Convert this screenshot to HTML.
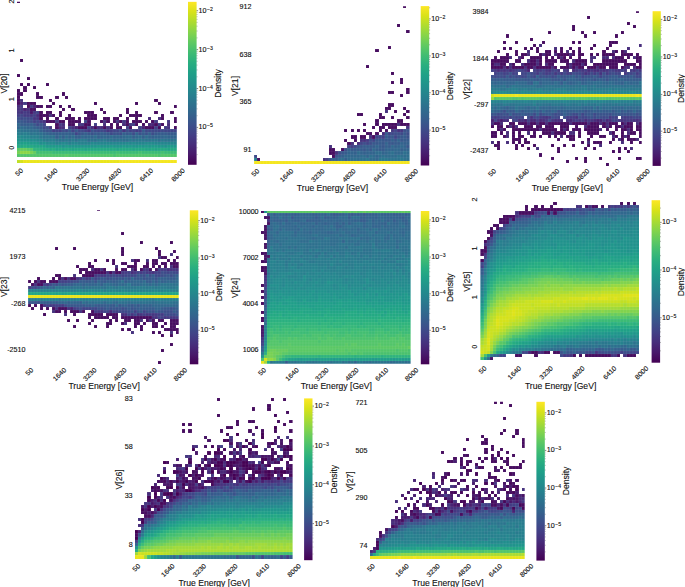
<!DOCTYPE html>
<html><head><meta charset="utf-8"><style>html,body{margin:0;padding:0;background:#fff;width:685px;height:587px;overflow:hidden}svg{display:block}text{font-family:"Liberation Sans",sans-serif;fill:#111;stroke:#111;stroke-width:0.12px}</style></head>
<body><svg width="685" height="587" viewBox="0 0 685 587"><rect width="685" height="587" fill="#fff"/><g>
<linearGradient id="vir" x1="0" y1="0" x2="0" y2="1"><stop offset="0.0000" stop-color="#fde725"/><stop offset="0.0625" stop-color="#d8e219"/><stop offset="0.1250" stop-color="#addc30"/><stop offset="0.1875" stop-color="#84d44b"/><stop offset="0.2500" stop-color="#5ec962"/><stop offset="0.3125" stop-color="#3fbc73"/><stop offset="0.3750" stop-color="#28ae80"/><stop offset="0.4375" stop-color="#1fa088"/><stop offset="0.5000" stop-color="#21918c"/><stop offset="0.5625" stop-color="#26828e"/><stop offset="0.6250" stop-color="#2c728e"/><stop offset="0.6875" stop-color="#33638d"/><stop offset="0.7500" stop-color="#3b528b"/><stop offset="0.8125" stop-color="#424086"/><stop offset="0.8750" stop-color="#472d7b"/><stop offset="0.9375" stop-color="#48186a"/><stop offset="1.0000" stop-color="#440154"/></linearGradient>
<clipPath id="c0"><rect x="17" y="1.84" width="159.8" height="162.96"/></clipPath>
<g clip-path="url(#c0)"><g shape-rendering="crispEdges" transform="translate(17 163.1) scale(3.1960 -3.0700)">
<path fill="#c0df25" d="M0 0h1v1h-1z"/><path fill="#d5e21a" d="M1 0h1v1h-1z"/><path fill="#eae51a" d="M2 0h30v1h-30z"/><path fill="#f4e61e" d="M32 0h18v1h-18z"/><path fill="#52c569" d="M0 2h15v1h-15zM16 2h14v1h-14zM31 2h13v1h-13zM45 2h5v1h-5zM4 4h1v1h-1z"/><path fill="#5ac864" d="M15 2h1v1h-1zM0 4h1v1h-1zM3 4h1v1h-1z"/><path fill="#4ac16d" d="M30 2h1v1h-1zM44 2h1v1h-1z"/><path fill="#77d153" d="M0 3h1v1h-1zM4 3h1v1h-1z"/><path fill="#8bd646" d="M1 3h3v1h-3z"/><path fill="#65cb5e" d="M5 3h1v1h-1zM1 4h2v1h-2z"/><path fill="#42be71" d="M6 3h5v1h-5zM31 3h1v1h-1zM38 3h1v1h-1zM45 3h1v1h-1z"/><path fill="#3bbb75" d="M11 3h20v1h-20zM32 3h6v1h-6zM39 3h6v1h-6zM46 3h4v1h-4z"/><path fill="#2fb47c" d="M5 4h2v1h-2z"/><path fill="#2ab07f" d="M7 4h1v1h-1z"/><path fill="#26ad81" d="M8 4h2v1h-2zM11 4h1v1h-1zM2 5h1v1h-1z"/><path fill="#23a983" d="M10 4h1v1h-1zM13 4h1v1h-1zM15 4h2v1h-2zM18 4h3v1h-3zM22 4h9v1h-9zM32 4h4v1h-4zM37 4h3v1h-3zM42 4h1v1h-1zM44 4h3v1h-3zM48 4h2v1h-2zM0 5h2v1h-2zM3 5h2v1h-2z"/><path fill="#21a585" d="M12 4h1v1h-1zM14 4h1v1h-1zM17 4h1v1h-1zM21 4h1v1h-1zM31 4h1v1h-1zM36 4h1v1h-1zM40 4h2v1h-2zM43 4h1v1h-1zM47 4h1v1h-1zM5 5h3v1h-3z"/><path fill="#1fa187" d="M8 5h1v1h-1zM2 6h1v1h-1z"/><path fill="#1f9a8a" d="M9 5h5v1h-5zM15 5h1v1h-1zM25 5h1v1h-1zM29 5h1v1h-1zM33 5h1v1h-1zM35 5h1v1h-1zM38 5h1v1h-1zM40 5h1v1h-1zM42 5h2v1h-2zM47 5h2v1h-2zM4 6h3v1h-3z"/><path fill="#20928c" d="M14 5h1v1h-1zM46 5h1v1h-1zM8 6h1v1h-1zM0 7h4v1h-4z"/><path fill="#1f968b" d="M16 5h9v1h-9zM26 5h3v1h-3zM30 5h3v1h-3zM34 5h1v1h-1zM36 5h2v1h-2zM39 5h1v1h-1zM41 5h1v1h-1zM44 5h2v1h-2zM49 5h1v1h-1z"/><path fill="#1f9e89" d="M0 6h2v1h-2zM3 6h1v1h-1z"/><path fill="#218e8d" d="M7 6h1v1h-1zM4 7h2v1h-2z"/><path fill="#238a8d" d="M9 6h3v1h-3zM14 6h1v1h-1zM23 6h1v1h-1zM34 6h1v1h-1zM36 6h1v1h-1zM40 6h3v1h-3zM6 7h1v1h-1zM0 8h2v1h-2z"/><path fill="#26828e" d="M12 6h1v1h-1zM19 6h4v1h-4zM49 6h1v1h-1z"/><path fill="#24868e" d="M13 6h1v1h-1zM15 6h1v1h-1zM17 6h2v1h-2zM24 6h10v1h-10zM35 6h1v1h-1zM37 6h3v1h-3zM43 6h6v1h-6zM7 7h1v1h-1zM2 8h2v1h-2z"/><path fill="#277f8e" d="M16 6h1v1h-1zM8 7h1v1h-1zM10 7h2v1h-2zM4 8h3v1h-3zM0 9h1v1h-1zM2 9h1v1h-1z"/><path fill="#297b8e" d="M9 7h1v1h-1zM17 7h1v1h-1zM19 7h3v1h-3zM27 7h1v1h-1zM1 9h1v1h-1zM3 9h1v1h-1z"/><path fill="#2a778e" d="M12 7h1v1h-1zM15 7h1v1h-1zM25 7h2v1h-2zM35 7h1v1h-1zM37 7h3v1h-3zM42 7h2v1h-2zM45 7h1v1h-1zM49 7h1v1h-1zM7 8h1v1h-1zM5 9h1v1h-1zM0 10h1v1h-1z"/><path fill="#2c738e" d="M13 7h2v1h-2zM16 7h1v1h-1zM18 7h1v1h-1zM23 7h1v1h-1zM28 7h2v1h-2zM31 7h2v1h-2zM36 7h1v1h-1zM40 7h2v1h-2zM46 7h3v1h-3zM9 8h1v1h-1zM4 9h1v1h-1zM6 9h1v1h-1zM1 10h1v1h-1z"/><path fill="#2d708e" d="M22 7h1v1h-1zM24 7h1v1h-1zM30 7h1v1h-1zM33 7h2v1h-2zM44 7h1v1h-1zM8 8h1v1h-1zM10 8h2v1h-2zM7 9h1v1h-1zM2 10h2v1h-2z"/><path fill="#34608d" d="M12 8h1v1h-1zM14 8h1v1h-1zM18 8h2v1h-2zM25 8h1v1h-1zM36 8h1v1h-1zM39 8h1v1h-1zM42 8h1v1h-1zM10 9h2v1h-2zM13 9h4v1h-4zM21 9h1v1h-1zM26 9h1v1h-1zM33 9h1v1h-1zM41 9h1v1h-1zM7 10h1v1h-1zM5 11h1v1h-1zM4 12h1v1h-1z"/><path fill="#2f6c8e" d="M13 8h1v1h-1zM15 8h1v1h-1zM17 8h1v1h-1zM24 8h1v1h-1zM29 8h1v1h-1zM34 8h2v1h-2zM38 8h1v1h-1zM40 8h1v1h-1zM4 10h3v1h-3zM1 11h1v1h-1z"/><path fill="#32648e" d="M16 8h1v1h-1zM21 8h1v1h-1zM23 8h1v1h-1zM26 8h1v1h-1zM28 8h1v1h-1zM30 8h1v1h-1zM32 8h1v1h-1zM41 8h1v1h-1zM43 8h3v1h-3zM47 8h3v1h-3zM9 9h1v1h-1zM37 9h1v1h-1zM0 11h1v1h-1zM3 11h1v1h-1z"/><path fill="#31688e" d="M20 8h1v1h-1zM22 8h1v1h-1zM27 8h1v1h-1zM31 8h1v1h-1zM33 8h1v1h-1zM37 8h1v1h-1zM46 8h1v1h-1zM8 9h1v1h-1zM2 11h1v1h-1zM4 11h1v1h-1zM0 12h1v1h-1z"/><path fill="#365c8d" d="M12 9h1v1h-1zM17 9h1v1h-1zM24 9h1v1h-1zM27 9h1v1h-1zM35 9h1v1h-1zM39 9h1v1h-1zM44 9h3v1h-3zM48 9h2v1h-2zM39 10h1v1h-1zM6 11h1v1h-1zM1 12h3v1h-3z"/><path fill="#404588" d="M18 9h1v1h-1zM12 10h1v1h-1zM17 10h1v1h-1zM25 10h1v1h-1zM27 10h1v1h-1zM30 10h2v1h-2zM36 10h1v1h-1zM44 10h1v1h-1zM46 10h4v1h-4zM22 11h1v1h-1zM8 12h1v1h-1zM21 13h1v1h-1zM1 15h1v1h-1zM6 16h1v1h-1z"/><path fill="#3a538b" d="M19 9h1v1h-1zM23 9h1v1h-1zM30 9h2v1h-2zM38 9h1v1h-1zM40 9h1v1h-1zM9 10h2v1h-2zM23 10h1v1h-1zM32 10h1v1h-1zM7 12h1v1h-1zM2 13h1v1h-1z"/><path fill="#38588c" d="M20 9h1v1h-1zM22 9h1v1h-1zM25 9h1v1h-1zM28 9h1v1h-1zM34 9h1v1h-1zM43 9h1v1h-1zM47 9h1v1h-1zM8 10h1v1h-1zM16 10h1v1h-1zM18 10h1v1h-1zM7 11h1v1h-1zM5 12h1v1h-1zM0 13h2v1h-2z"/><path fill="#3e4989" d="M29 9h1v1h-1zM15 10h1v1h-1zM19 10h2v1h-2zM24 10h1v1h-1zM26 10h1v1h-1zM40 10h4v1h-4zM45 10h1v1h-1zM8 11h1v1h-1zM6 12h1v1h-1zM6 13h1v1h-1zM1 14h1v1h-1zM3 14h2v1h-2z"/><path fill="#3d4e8a" d="M32 9h1v1h-1zM36 9h1v1h-1zM42 9h1v1h-1zM14 10h1v1h-1zM34 10h1v1h-1zM9 11h1v1h-1zM3 13h2v1h-2zM0 14h1v1h-1zM2 14h1v1h-1z"/><path fill="#424086" d="M11 10h1v1h-1zM13 10h1v1h-1zM21 10h1v1h-1zM29 10h1v1h-1zM35 10h1v1h-1zM38 10h1v1h-1zM16 11h1v1h-1zM34 11h1v1h-1zM38 11h1v1h-1zM43 11h1v1h-1zM24 12h1v1h-1zM36 12h1v1h-1zM44 12h1v1h-1zM5 13h1v1h-1zM0 15h1v1h-1zM5 15h1v1h-1z"/><path fill="#453781" d="M22 10h1v1h-1zM28 10h1v1h-1zM33 10h1v1h-1zM10 11h1v1h-1zM19 12h2v1h-2zM31 13h1v1h-1zM33 13h1v1h-1zM47 13h1v1h-1zM5 14h2v1h-2zM4 15h1v1h-1zM0 16h1v1h-1zM3 16h1v1h-1zM5 16h1v1h-1zM1 17h1v1h-1z"/><path fill="#443b84" d="M37 10h1v1h-1zM46 11h1v1h-1zM13 12h1v1h-1zM35 12h1v1h-1zM7 13h1v1h-1zM12 13h1v1h-1zM43 13h1v1h-1zM2 15h2v1h-2zM2 16h1v1h-1zM1 18h1v1h-1zM4 18h1v1h-1zM2 19h1v1h-1z"/><path fill="#470d60" d="M12 11h1v1h-1zM19 11h3v1h-3zM24 11h1v1h-1zM27 11h1v1h-1zM29 11h1v1h-1zM31 11h2v1h-2zM35 11h1v1h-1zM40 11h3v1h-3zM44 11h1v1h-1zM49 11h1v1h-1zM12 12h1v1h-1zM16 12h2v1h-2zM21 12h2v1h-2zM29 12h1v1h-1zM31 12h1v1h-1zM34 12h1v1h-1zM37 12h1v1h-1zM39 12h1v1h-1zM43 12h1v1h-1zM45 12h1v1h-1zM9 13h3v1h-3zM13 13h2v1h-2zM16 13h4v1h-4zM22 13h1v1h-1zM26 13h1v1h-1zM28 13h1v1h-1zM30 13h1v1h-1zM32 13h1v1h-1zM34 13h1v1h-1zM36 13h3v1h-3zM40 13h1v1h-1zM42 13h1v1h-1zM49 13h1v1h-1zM7 14h1v1h-1zM9 14h1v1h-1zM12 14h1v1h-1zM15 14h3v1h-3zM19 14h1v1h-1zM21 14h4v1h-4zM27 14h2v1h-2zM30 14h2v1h-2zM34 14h1v1h-1zM37 14h1v1h-1zM45 14h1v1h-1zM49 14h1v1h-1zM7 15h3v1h-3zM11 15h1v1h-1zM13 15h1v1h-1zM16 15h1v1h-1zM22 15h3v1h-3zM32 15h1v1h-1zM35 15h4v1h-4zM45 15h1v1h-1zM7 16h1v1h-1zM9 16h2v1h-2zM13 16h1v1h-1zM21 16h3v1h-3zM27 16h1v1h-1zM34 16h1v1h-1zM37 16h1v1h-1zM43 16h1v1h-1zM48 16h1v1h-1zM4 17h2v1h-2zM14 17h1v1h-1zM17 17h1v1h-1zM26 17h1v1h-1zM34 17h1v1h-1zM3 18h1v1h-1zM6 18h2v1h-2zM9 18h2v1h-2zM13 18h1v1h-1zM16 18h1v1h-1zM49 18h1v1h-1zM0 19h1v1h-1zM3 19h3v1h-3zM11 19h1v1h-1zM24 19h1v1h-1zM37 19h1v1h-1zM44 19h1v1h-1zM0 20h1v1h-1zM10 20h1v1h-1zM43 20h1v1h-1zM0 21h1v1h-1zM6 21h2v1h-2zM12 21h1v1h-1zM15 21h1v1h-1zM0 22h2v1h-2zM6 22h1v1h-1zM14 22h1v1h-1zM0 23h1v1h-1zM2 23h1v1h-1zM2 24h1v1h-1zM5 24h1v1h-1zM1 25h1v1h-1zM3 25h1v1h-1zM9 25h1v1h-1zM3 27h1v1h-1zM0 28h1v1h-1zM1 33h1v1h-1zM0 52h1v1h-1z"/><path fill="#472d7b" d="M13 11h2v1h-2zM23 11h1v1h-1zM25 11h2v1h-2zM14 12h1v1h-1zM27 12h1v1h-1zM33 12h1v1h-1zM47 12h1v1h-1zM44 14h1v1h-1zM6 15h1v1h-1zM3 17h1v1h-1zM0 18h1v1h-1z"/><path fill="#46327e" d="M17 11h1v1h-1zM28 11h1v1h-1zM47 11h1v1h-1zM8 13h1v1h-1zM27 13h1v1h-1zM10 15h1v1h-1zM1 16h1v1h-1zM0 17h1v1h-1zM1 20h1v1h-1z"/><path fill="#482374" d="M18 11h1v1h-1zM39 11h1v1h-1zM2 17h1v1h-1zM5 18h1v1h-1zM1 19h1v1h-1z"/><path fill="#482878" d="M41 12h2v1h-2zM41 14h1v1h-1z"/><path fill="#48186a" d="M4 16h1v1h-1z"/>
</g>
<path d="M20.2 1.84V164.8M23.39 1.84V164.8M26.59 1.84V164.8M29.78 1.84V164.8M32.98 1.84V164.8M36.18 1.84V164.8M39.37 1.84V164.8M42.57 1.84V164.8M45.76 1.84V164.8M48.96 1.84V164.8M52.16 1.84V164.8M55.35 1.84V164.8M58.55 1.84V164.8M61.74 1.84V164.8M64.94 1.84V164.8M68.14 1.84V164.8M71.33 1.84V164.8M74.53 1.84V164.8M77.72 1.84V164.8M80.92 1.84V164.8M84.12 1.84V164.8M87.31 1.84V164.8M90.51 1.84V164.8M93.7 1.84V164.8M96.9 1.84V164.8M100.1 1.84V164.8M103.29 1.84V164.8M106.49 1.84V164.8M109.68 1.84V164.8M112.88 1.84V164.8M116.08 1.84V164.8M119.27 1.84V164.8M122.47 1.84V164.8M125.66 1.84V164.8M128.86 1.84V164.8M132.06 1.84V164.8M135.25 1.84V164.8M138.45 1.84V164.8M141.64 1.84V164.8M144.84 1.84V164.8M148.04 1.84V164.8M151.23 1.84V164.8M154.43 1.84V164.8M157.62 1.84V164.8M160.82 1.84V164.8M164.02 1.84V164.8M167.21 1.84V164.8M170.41 1.84V164.8M173.6 1.84V164.8M17 160.03H176.8M17 156.96H176.8M17 153.89H176.8M17 150.82H176.8M17 147.75H176.8M17 144.68H176.8M17 141.61H176.8M17 138.54H176.8M17 135.47H176.8M17 132.4H176.8M17 129.33H176.8M17 126.26H176.8M17 123.19H176.8M17 120.12H176.8M17 117.05H176.8M17 113.98H176.8M17 110.91H176.8M17 107.84H176.8M17 104.77H176.8M17 101.7H176.8M17 98.63H176.8M17 95.56H176.8M17 92.49H176.8M17 89.42H176.8M17 86.35H176.8M17 83.28H176.8M17 80.21H176.8M17 77.14H176.8M17 74.07H176.8M17 71H176.8M17 67.93H176.8M17 64.86H176.8M17 61.79H176.8M17 58.72H176.8M17 55.65H176.8M17 52.58H176.8M17 49.51H176.8M17 46.44H176.8M17 43.37H176.8M17 40.3H176.8M17 37.23H176.8M17 34.16H176.8M17 31.09H176.8M17 28.02H176.8M17 24.95H176.8M17 21.88H176.8M17 18.81H176.8M17 15.74H176.8M17 12.67H176.8M17 9.6H176.8M17 6.53H176.8M17 3.46H176.8" stroke="#fff" stroke-opacity="0.16" stroke-width="0.4" fill="none"/>
</g>
<rect x="188" y="1.84" width="8.6" height="162.96" fill="url(#vir)"/>
<line x1="196.6" x2="198.1" y1="10.7" y2="10.7" stroke="#333" stroke-width="0.6"/>
<text transform="translate(198.6 12.7) scale(1.1 1)" font-size="6.5" text-anchor="start">10<tspan font-size="4.68" dx="0.4" dy="-2.0">−2</tspan></text>
<line x1="196.6" x2="198.1" y1="49.6" y2="49.6" stroke="#333" stroke-width="0.6"/>
<text transform="translate(198.6 51.6) scale(1.1 1)" font-size="6.5" text-anchor="start">10<tspan font-size="4.68" dx="0.4" dy="-2.0">−3</tspan></text>
<line x1="196.6" x2="198.1" y1="88.5" y2="88.5" stroke="#333" stroke-width="0.6"/>
<text transform="translate(198.6 90.5) scale(1.1 1)" font-size="6.5" text-anchor="start">10<tspan font-size="4.68" dx="0.4" dy="-2.0">−4</tspan></text>
<line x1="196.6" x2="198.1" y1="127.4" y2="127.4" stroke="#333" stroke-width="0.6"/>
<text transform="translate(198.6 129.4) scale(1.1 1)" font-size="6.5" text-anchor="start">10<tspan font-size="4.68" dx="0.4" dy="-2.0">−5</tspan></text>
<line x1="196.6" x2="197.5" y1="37.89" y2="37.89" stroke="#555" stroke-width="0.45"/>
<line x1="196.6" x2="197.5" y1="31.04" y2="31.04" stroke="#555" stroke-width="0.45"/>
<line x1="196.6" x2="197.5" y1="26.18" y2="26.18" stroke="#555" stroke-width="0.45"/>
<line x1="196.6" x2="197.5" y1="22.41" y2="22.41" stroke="#555" stroke-width="0.45"/>
<line x1="196.6" x2="197.5" y1="19.33" y2="19.33" stroke="#555" stroke-width="0.45"/>
<line x1="196.6" x2="197.5" y1="16.73" y2="16.73" stroke="#555" stroke-width="0.45"/>
<line x1="196.6" x2="197.5" y1="14.47" y2="14.47" stroke="#555" stroke-width="0.45"/>
<line x1="196.6" x2="197.5" y1="12.48" y2="12.48" stroke="#555" stroke-width="0.45"/>
<line x1="196.6" x2="197.5" y1="76.79" y2="76.79" stroke="#555" stroke-width="0.45"/>
<line x1="196.6" x2="197.5" y1="69.94" y2="69.94" stroke="#555" stroke-width="0.45"/>
<line x1="196.6" x2="197.5" y1="65.08" y2="65.08" stroke="#555" stroke-width="0.45"/>
<line x1="196.6" x2="197.5" y1="61.31" y2="61.31" stroke="#555" stroke-width="0.45"/>
<line x1="196.6" x2="197.5" y1="58.23" y2="58.23" stroke="#555" stroke-width="0.45"/>
<line x1="196.6" x2="197.5" y1="55.63" y2="55.63" stroke="#555" stroke-width="0.45"/>
<line x1="196.6" x2="197.5" y1="53.37" y2="53.37" stroke="#555" stroke-width="0.45"/>
<line x1="196.6" x2="197.5" y1="51.38" y2="51.38" stroke="#555" stroke-width="0.45"/>
<line x1="196.6" x2="197.5" y1="115.69" y2="115.69" stroke="#555" stroke-width="0.45"/>
<line x1="196.6" x2="197.5" y1="108.84" y2="108.84" stroke="#555" stroke-width="0.45"/>
<line x1="196.6" x2="197.5" y1="103.98" y2="103.98" stroke="#555" stroke-width="0.45"/>
<line x1="196.6" x2="197.5" y1="100.21" y2="100.21" stroke="#555" stroke-width="0.45"/>
<line x1="196.6" x2="197.5" y1="97.13" y2="97.13" stroke="#555" stroke-width="0.45"/>
<line x1="196.6" x2="197.5" y1="94.53" y2="94.53" stroke="#555" stroke-width="0.45"/>
<line x1="196.6" x2="197.5" y1="92.27" y2="92.27" stroke="#555" stroke-width="0.45"/>
<line x1="196.6" x2="197.5" y1="90.28" y2="90.28" stroke="#555" stroke-width="0.45"/>
<line x1="196.6" x2="197.5" y1="154.59" y2="154.59" stroke="#555" stroke-width="0.45"/>
<line x1="196.6" x2="197.5" y1="147.74" y2="147.74" stroke="#555" stroke-width="0.45"/>
<line x1="196.6" x2="197.5" y1="142.88" y2="142.88" stroke="#555" stroke-width="0.45"/>
<line x1="196.6" x2="197.5" y1="139.11" y2="139.11" stroke="#555" stroke-width="0.45"/>
<line x1="196.6" x2="197.5" y1="136.03" y2="136.03" stroke="#555" stroke-width="0.45"/>
<line x1="196.6" x2="197.5" y1="133.43" y2="133.43" stroke="#555" stroke-width="0.45"/>
<line x1="196.6" x2="197.5" y1="131.17" y2="131.17" stroke="#555" stroke-width="0.45"/>
<line x1="196.6" x2="197.5" y1="129.18" y2="129.18" stroke="#555" stroke-width="0.45"/>
<text transform="translate(218.2 83.5) rotate(-90)" font-size="8.6" text-anchor="middle" dominant-baseline="central">Density</text>
<text transform="translate(3.6 83.5) rotate(-90)" font-size="8.6" text-anchor="middle" dominant-baseline="central">V[20]</text>
<text transform="translate(97.5 186.9)" font-size="8.6" text-anchor="middle" dominant-baseline="central">True Energy [GeV]</text>
<text transform="translate(19 171.97) rotate(-45) scale(1.1 1)" font-size="6.5" text-anchor="middle" dominant-baseline="central">50</text>
<text transform="translate(50.8 174.78) rotate(-45) scale(1.1 1)" font-size="6.5" text-anchor="middle" dominant-baseline="central">1640</text>
<text transform="translate(82.6 174.78) rotate(-45) scale(1.1 1)" font-size="6.5" text-anchor="middle" dominant-baseline="central">3230</text>
<text transform="translate(114.4 174.78) rotate(-45) scale(1.1 1)" font-size="6.5" text-anchor="middle" dominant-baseline="central">4820</text>
<text transform="translate(146.2 174.78) rotate(-45) scale(1.1 1)" font-size="6.5" text-anchor="middle" dominant-baseline="central">6410</text>
<text transform="translate(178 174.78) rotate(-45) scale(1.1 1)" font-size="6.5" text-anchor="middle" dominant-baseline="central">8000</text>
<text transform="translate(11.2 1.6) rotate(-90) scale(1.1 1)" font-size="6.5" text-anchor="middle" dominant-baseline="central">2</text>
<text transform="translate(11.2 50.4) rotate(-90) scale(1.1 1)" font-size="6.5" text-anchor="middle" dominant-baseline="central">1</text>
<text transform="translate(11.2 99.2) rotate(-90) scale(1.1 1)" font-size="6.5" text-anchor="middle" dominant-baseline="central">1</text>
<text transform="translate(11.2 147.7) rotate(-90) scale(1.1 1)" font-size="6.5" text-anchor="middle" dominant-baseline="central">0</text>
<clipPath id="c1"><rect x="254.1" y="6.2" width="155.5" height="159.3"/></clipPath>
<g clip-path="url(#c1)"><g shape-rendering="crispEdges" transform="translate(254.1 164.1) scale(3.1100 -3.1900)">
<path fill="#f4e61e" d="M0 0h50v1h-50z"/><path fill="#26828e" d="M0 1h1v1h-1z"/><path fill="#470d60" d="M1 1h1v1h-1zM25 2h1v1h-1zM24 3h2v1h-2zM24 4h2v1h-2zM28 4h1v1h-1zM30 6h1v1h-1zM29 7h1v1h-1zM32 7h1v1h-1zM31 8h2v1h-2zM34 8h2v1h-2zM38 8h1v1h-1zM36 9h2v1h-2zM39 9h1v1h-1zM29 10h1v1h-1zM31 10h1v1h-1zM33 10h1v1h-1zM35 10h1v1h-1zM40 10h1v1h-1zM42 10h1v1h-1zM38 11h1v1h-1zM40 11h2v1h-2zM43 11h3v1h-3zM35 12h1v1h-1zM39 12h1v1h-1zM41 12h5v1h-5zM47 12h3v1h-3zM39 13h1v1h-1zM46 13h2v1h-2zM40 14h2v1h-2zM44 14h1v1h-1zM49 14h1v1h-1zM33 15h2v1h-2zM40 15h1v1h-1zM48 15h1v1h-1zM45 16h1v1h-1zM49 16h1v1h-1zM42 17h2v1h-2zM48 17h1v1h-1zM43 18h2v1h-2zM47 21h1v1h-1zM43 22h2v1h-2zM49 22h1v1h-1zM49 23h1v1h-1zM44 25h1v1h-1zM47 25h1v1h-1zM47 26h1v1h-1zM44 28h1v1h-1zM36 30h1v1h-1zM39 35h1v1h-1zM43 36h1v1h-1zM49 41h1v1h-1zM46 43h1v1h-1zM48 49h1v1h-1z"/><path fill="#46327e" d="M22 1h1v1h-1zM26 3h1v1h-1zM24 5h1v1h-1zM31 6h1v1h-1zM34 7h2v1h-2zM37 8h1v1h-1zM46 10h1v1h-1zM49 11h1v1h-1zM46 12h1v1h-1zM42 16h1v1h-1z"/><path fill="#424086" d="M23 1h1v1h-1zM30 5h2v1h-2zM41 8h1v1h-1z"/><path fill="#38588c" d="M24 1h1v1h-1zM28 3h1v1h-1zM31 4h1v1h-1zM35 4h1v1h-1zM37 4h1v1h-1zM34 5h1v1h-1zM41 5h1v1h-1zM49 5h1v1h-1zM38 6h2v1h-2zM41 6h1v1h-1zM43 6h2v1h-2zM39 7h1v1h-1zM41 7h3v1h-3zM45 7h1v1h-1zM47 7h1v1h-1zM44 8h1v1h-1zM47 8h1v1h-1zM42 9h1v1h-1zM48 9h1v1h-1z"/><path fill="#32648e" d="M25 1h1v1h-1zM36 2h1v1h-1zM39 2h1v1h-1zM30 3h2v1h-2zM34 3h1v1h-1zM36 3h3v1h-3zM41 3h1v1h-1zM42 4h3v1h-3zM48 4h2v1h-2zM39 5h1v1h-1zM46 5h1v1h-1zM48 5h1v1h-1zM42 6h1v1h-1zM47 6h1v1h-1zM46 7h1v1h-1z"/><path fill="#34608d" d="M26 1h1v1h-1zM29 1h1v1h-1zM28 2h1v1h-1zM32 3h1v1h-1zM35 3h1v1h-1zM30 4h1v1h-1zM36 4h1v1h-1zM39 4h1v1h-1zM47 4h1v1h-1zM42 5h1v1h-1zM45 5h1v1h-1zM48 6h2v1h-2zM44 7h1v1h-1z"/><path fill="#2f6c8e" d="M27 1h1v1h-1zM30 1h2v1h-2zM33 1h1v1h-1zM37 1h2v1h-2zM34 2h2v1h-2zM38 2h1v1h-1zM40 2h1v1h-1zM42 2h4v1h-4zM48 2h1v1h-1zM33 3h1v1h-1zM39 3h2v1h-2zM43 3h1v1h-1zM49 3h1v1h-1z"/><path fill="#2d708e" d="M28 1h1v1h-1zM32 1h1v1h-1zM34 1h2v1h-2zM49 1h1v1h-1zM37 2h1v1h-1zM41 2h1v1h-1zM47 2h1v1h-1zM49 2h1v1h-1zM44 3h1v1h-1zM48 3h1v1h-1z"/><path fill="#2a778e" d="M36 1h1v1h-1zM40 1h3v1h-3zM47 1h1v1h-1z"/><path fill="#31688e" d="M39 1h1v1h-1zM29 2h5v1h-5zM42 3h1v1h-1zM45 3h3v1h-3zM38 4h1v1h-1zM45 4h2v1h-2zM44 5h1v1h-1zM47 5h1v1h-1z"/><path fill="#2c738e" d="M43 1h4v1h-4zM48 1h1v1h-1zM46 2h1v1h-1z"/><path fill="#3e4989" d="M0 2h1v1h-1zM32 5h1v1h-1zM40 8h1v1h-1zM44 9h1v1h-1zM47 9h1v1h-1z"/><path fill="#3a538b" d="M26 2h1v1h-1zM33 5h1v1h-1zM43 8h1v1h-1zM46 8h1v1h-1zM49 8h1v1h-1zM49 10h1v1h-1z"/><path fill="#365c8d" d="M27 2h1v1h-1zM29 3h1v1h-1zM32 4h3v1h-3zM40 4h2v1h-2zM35 5h4v1h-4zM40 5h1v1h-1zM43 5h1v1h-1zM40 6h1v1h-1zM45 6h2v1h-2zM40 7h1v1h-1zM48 7h2v1h-2zM42 8h1v1h-1zM48 8h1v1h-1z"/><path fill="#3d4e8a" d="M27 3h1v1h-1zM29 4h1v1h-1zM35 6h1v1h-1zM37 6h1v1h-1zM37 7h1v1h-1zM45 9h2v1h-2zM49 9h1v1h-1zM48 10h1v1h-1z"/><path fill="#472d7b" d="M33 6h1v1h-1zM41 9h1v1h-1z"/><path fill="#404588" d="M34 6h1v1h-1zM36 6h1v1h-1zM38 7h1v1h-1zM39 8h1v1h-1zM45 8h1v1h-1zM43 9h1v1h-1zM45 10h1v1h-1z"/><path fill="#443b84" d="M36 7h1v1h-1z"/><path fill="#453781" d="M44 10h1v1h-1zM47 10h1v1h-1z"/>
</g>
<path d="M257.21 6.2V165.5M260.32 6.2V165.5M263.43 6.2V165.5M266.54 6.2V165.5M269.65 6.2V165.5M272.76 6.2V165.5M275.87 6.2V165.5M278.98 6.2V165.5M282.09 6.2V165.5M285.2 6.2V165.5M288.31 6.2V165.5M291.42 6.2V165.5M294.53 6.2V165.5M297.64 6.2V165.5M300.75 6.2V165.5M303.86 6.2V165.5M306.97 6.2V165.5M310.08 6.2V165.5M313.19 6.2V165.5M316.3 6.2V165.5M319.41 6.2V165.5M322.52 6.2V165.5M325.63 6.2V165.5M328.74 6.2V165.5M331.85 6.2V165.5M334.96 6.2V165.5M338.07 6.2V165.5M341.18 6.2V165.5M344.29 6.2V165.5M347.4 6.2V165.5M350.51 6.2V165.5M353.62 6.2V165.5M356.73 6.2V165.5M359.84 6.2V165.5M362.95 6.2V165.5M366.06 6.2V165.5M369.17 6.2V165.5M372.28 6.2V165.5M375.39 6.2V165.5M378.5 6.2V165.5M381.61 6.2V165.5M384.72 6.2V165.5M387.83 6.2V165.5M390.94 6.2V165.5M394.05 6.2V165.5M397.16 6.2V165.5M400.27 6.2V165.5M403.38 6.2V165.5M406.49 6.2V165.5M254.1 160.91H409.6M254.1 157.72H409.6M254.1 154.53H409.6M254.1 151.34H409.6M254.1 148.15H409.6M254.1 144.96H409.6M254.1 141.77H409.6M254.1 138.58H409.6M254.1 135.39H409.6M254.1 132.2H409.6M254.1 129.01H409.6M254.1 125.82H409.6M254.1 122.63H409.6M254.1 119.44H409.6M254.1 116.25H409.6M254.1 113.06H409.6M254.1 109.87H409.6M254.1 106.68H409.6M254.1 103.49H409.6M254.1 100.3H409.6M254.1 97.11H409.6M254.1 93.92H409.6M254.1 90.73H409.6M254.1 87.54H409.6M254.1 84.35H409.6M254.1 81.16H409.6M254.1 77.97H409.6M254.1 74.78H409.6M254.1 71.59H409.6M254.1 68.4H409.6M254.1 65.21H409.6M254.1 62.02H409.6M254.1 58.83H409.6M254.1 55.64H409.6M254.1 52.45H409.6M254.1 49.26H409.6M254.1 46.07H409.6M254.1 42.88H409.6M254.1 39.69H409.6M254.1 36.5H409.6M254.1 33.31H409.6M254.1 30.12H409.6M254.1 26.93H409.6M254.1 23.74H409.6M254.1 20.55H409.6M254.1 17.36H409.6M254.1 14.17H409.6M254.1 10.98H409.6M254.1 7.79H409.6" stroke="#fff" stroke-opacity="0.16" stroke-width="0.4" fill="none"/>
</g>
<rect x="420.7" y="6.1" width="8.5" height="159.4" fill="url(#vir)"/>
<line x1="429.2" x2="430.7" y1="18.9" y2="18.9" stroke="#333" stroke-width="0.6"/>
<text transform="translate(431.2 20.9) scale(1.1 1)" font-size="6.5" text-anchor="start">10<tspan font-size="4.68" dx="0.4" dy="-2.0">−2</tspan></text>
<line x1="429.2" x2="430.7" y1="55.9" y2="55.9" stroke="#333" stroke-width="0.6"/>
<text transform="translate(431.2 57.9) scale(1.1 1)" font-size="6.5" text-anchor="start">10<tspan font-size="4.68" dx="0.4" dy="-2.0">−3</tspan></text>
<line x1="429.2" x2="430.7" y1="92.7" y2="92.7" stroke="#333" stroke-width="0.6"/>
<text transform="translate(431.2 94.7) scale(1.1 1)" font-size="6.5" text-anchor="start">10<tspan font-size="4.68" dx="0.4" dy="-2.0">−4</tspan></text>
<line x1="429.2" x2="430.7" y1="130.1" y2="130.1" stroke="#333" stroke-width="0.6"/>
<text transform="translate(431.2 132.1) scale(1.1 1)" font-size="6.5" text-anchor="start">10<tspan font-size="4.68" dx="0.4" dy="-2.0">−5</tspan></text>
<line x1="429.2" x2="430.1" y1="7.76" y2="7.76" stroke="#555" stroke-width="0.45"/>
<line x1="429.2" x2="430.1" y1="44.76" y2="44.76" stroke="#555" stroke-width="0.45"/>
<line x1="429.2" x2="430.1" y1="38.25" y2="38.25" stroke="#555" stroke-width="0.45"/>
<line x1="429.2" x2="430.1" y1="33.62" y2="33.62" stroke="#555" stroke-width="0.45"/>
<line x1="429.2" x2="430.1" y1="30.04" y2="30.04" stroke="#555" stroke-width="0.45"/>
<line x1="429.2" x2="430.1" y1="27.11" y2="27.11" stroke="#555" stroke-width="0.45"/>
<line x1="429.2" x2="430.1" y1="24.63" y2="24.63" stroke="#555" stroke-width="0.45"/>
<line x1="429.2" x2="430.1" y1="22.49" y2="22.49" stroke="#555" stroke-width="0.45"/>
<line x1="429.2" x2="430.1" y1="20.59" y2="20.59" stroke="#555" stroke-width="0.45"/>
<line x1="429.2" x2="430.1" y1="81.76" y2="81.76" stroke="#555" stroke-width="0.45"/>
<line x1="429.2" x2="430.1" y1="75.25" y2="75.25" stroke="#555" stroke-width="0.45"/>
<line x1="429.2" x2="430.1" y1="70.62" y2="70.62" stroke="#555" stroke-width="0.45"/>
<line x1="429.2" x2="430.1" y1="67.04" y2="67.04" stroke="#555" stroke-width="0.45"/>
<line x1="429.2" x2="430.1" y1="64.11" y2="64.11" stroke="#555" stroke-width="0.45"/>
<line x1="429.2" x2="430.1" y1="61.63" y2="61.63" stroke="#555" stroke-width="0.45"/>
<line x1="429.2" x2="430.1" y1="59.49" y2="59.49" stroke="#555" stroke-width="0.45"/>
<line x1="429.2" x2="430.1" y1="57.59" y2="57.59" stroke="#555" stroke-width="0.45"/>
<line x1="429.2" x2="430.1" y1="118.76" y2="118.76" stroke="#555" stroke-width="0.45"/>
<line x1="429.2" x2="430.1" y1="112.25" y2="112.25" stroke="#555" stroke-width="0.45"/>
<line x1="429.2" x2="430.1" y1="107.62" y2="107.62" stroke="#555" stroke-width="0.45"/>
<line x1="429.2" x2="430.1" y1="104.04" y2="104.04" stroke="#555" stroke-width="0.45"/>
<line x1="429.2" x2="430.1" y1="101.11" y2="101.11" stroke="#555" stroke-width="0.45"/>
<line x1="429.2" x2="430.1" y1="98.63" y2="98.63" stroke="#555" stroke-width="0.45"/>
<line x1="429.2" x2="430.1" y1="96.49" y2="96.49" stroke="#555" stroke-width="0.45"/>
<line x1="429.2" x2="430.1" y1="94.59" y2="94.59" stroke="#555" stroke-width="0.45"/>
<line x1="429.2" x2="430.1" y1="155.76" y2="155.76" stroke="#555" stroke-width="0.45"/>
<line x1="429.2" x2="430.1" y1="149.25" y2="149.25" stroke="#555" stroke-width="0.45"/>
<line x1="429.2" x2="430.1" y1="144.62" y2="144.62" stroke="#555" stroke-width="0.45"/>
<line x1="429.2" x2="430.1" y1="141.04" y2="141.04" stroke="#555" stroke-width="0.45"/>
<line x1="429.2" x2="430.1" y1="138.11" y2="138.11" stroke="#555" stroke-width="0.45"/>
<line x1="429.2" x2="430.1" y1="135.63" y2="135.63" stroke="#555" stroke-width="0.45"/>
<line x1="429.2" x2="430.1" y1="133.49" y2="133.49" stroke="#555" stroke-width="0.45"/>
<line x1="429.2" x2="430.1" y1="131.59" y2="131.59" stroke="#555" stroke-width="0.45"/>
<text transform="translate(450.1 86) rotate(-90)" font-size="8.6" text-anchor="middle" dominant-baseline="central">Density</text>
<text transform="translate(234.7 86) rotate(-90)" font-size="8.6" text-anchor="middle" dominant-baseline="central">V[21]</text>
<text transform="translate(332.5 187.5)" font-size="8.6" text-anchor="middle" dominant-baseline="central">True Energy [GeV]</text>
<text transform="translate(255.2 172.47) rotate(-45) scale(1.1 1)" font-size="6.5" text-anchor="middle" dominant-baseline="central">50</text>
<text transform="translate(286.42 175.28) rotate(-45) scale(1.1 1)" font-size="6.5" text-anchor="middle" dominant-baseline="central">1640</text>
<text transform="translate(317.64 175.28) rotate(-45) scale(1.1 1)" font-size="6.5" text-anchor="middle" dominant-baseline="central">3230</text>
<text transform="translate(348.86 175.28) rotate(-45) scale(1.1 1)" font-size="6.5" text-anchor="middle" dominant-baseline="central">4820</text>
<text transform="translate(380.08 175.28) rotate(-45) scale(1.1 1)" font-size="6.5" text-anchor="middle" dominant-baseline="central">6410</text>
<text transform="translate(411.3 175.28) rotate(-45) scale(1.1 1)" font-size="6.5" text-anchor="middle" dominant-baseline="central">8000</text>
<text transform="translate(251.4 6.6) scale(1.1 1)" font-size="6.5" text-anchor="end" dominant-baseline="central">912</text>
<text transform="translate(251.4 54.4) scale(1.1 1)" font-size="6.5" text-anchor="end" dominant-baseline="central">638</text>
<text transform="translate(251.4 101.6) scale(1.1 1)" font-size="6.5" text-anchor="end" dominant-baseline="central">365</text>
<text transform="translate(251.4 150.1) scale(1.1 1)" font-size="6.5" text-anchor="end" dominant-baseline="central">91</text>
<clipPath id="c2"><rect x="490.9" y="11.2" width="150.8" height="154.7"/></clipPath>
<g clip-path="url(#c2)"><g shape-rendering="crispEdges" transform="translate(490.9 165.9) scale(3.0160 -3.1300)">
<path fill="#470d60" d="M38 0h1v1h-1zM25 1h1v1h-1zM31 1h1v1h-1zM20 2h1v1h-1zM28 2h1v1h-1zM31 2h1v1h-1zM36 2h1v1h-1zM42 2h1v1h-1zM48 2h2v1h-2zM16 3h1v1h-1zM22 4h1v1h-1zM40 4h1v1h-1zM42 4h1v1h-1zM45 4h1v1h-1zM2 5h1v1h-1zM8 5h1v1h-1zM12 5h1v1h-1zM22 5h1v1h-1zM31 5h1v1h-1zM34 5h1v1h-1zM42 5h1v1h-1zM44 5h1v1h-1zM1 6h2v1h-2zM8 6h1v1h-1zM10 6h1v1h-1zM14 6h1v1h-1zM20 6h1v1h-1zM24 6h1v1h-1zM27 6h1v1h-1zM32 6h1v1h-1zM2 7h1v1h-1zM7 7h1v1h-1zM9 7h1v1h-1zM11 7h2v1h-2zM30 7h1v1h-1zM34 7h3v1h-3zM39 7h1v1h-1zM46 7h1v1h-1zM49 7h1v1h-1zM7 8h3v1h-3zM11 8h1v1h-1zM22 8h1v1h-1zM26 8h2v1h-2zM32 8h1v1h-1zM40 8h1v1h-1zM43 8h1v1h-1zM45 8h3v1h-3zM0 9h2v1h-2zM4 9h1v1h-1zM7 9h1v1h-1zM9 9h2v1h-2zM13 9h2v1h-2zM16 9h1v1h-1zM19 9h1v1h-1zM21 9h1v1h-1zM25 9h3v1h-3zM29 9h1v1h-1zM33 9h1v1h-1zM36 9h2v1h-2zM41 9h1v1h-1zM43 9h1v1h-1zM45 9h1v1h-1zM49 9h1v1h-1zM0 10h2v1h-2zM3 10h1v1h-1zM7 10h1v1h-1zM9 10h1v1h-1zM14 10h1v1h-1zM17 10h3v1h-3zM21 10h4v1h-4zM29 10h1v1h-1zM32 10h4v1h-4zM40 10h1v1h-1zM43 10h1v1h-1zM46 10h2v1h-2zM49 10h1v1h-1zM2 11h1v1h-1zM4 11h1v1h-1zM7 11h9v1h-9zM17 11h5v1h-5zM23 11h1v1h-1zM25 11h1v1h-1zM27 11h3v1h-3zM31 11h5v1h-5zM38 11h1v1h-1zM41 11h1v1h-1zM43 11h2v1h-2zM46 11h1v1h-1zM48 11h2v1h-2zM0 12h1v1h-1zM2 12h2v1h-2zM5 12h1v1h-1zM7 12h1v1h-1zM11 12h3v1h-3zM15 12h2v1h-2zM18 12h3v1h-3zM23 12h3v1h-3zM28 12h1v1h-1zM32 12h4v1h-4zM37 12h1v1h-1zM39 12h1v1h-1zM41 12h2v1h-2zM44 12h3v1h-3zM48 12h2v1h-2zM1 13h2v1h-2zM6 13h2v1h-2zM9 13h3v1h-3zM13 13h2v1h-2zM16 13h2v1h-2zM19 13h7v1h-7zM27 13h5v1h-5zM33 13h3v1h-3zM37 13h1v1h-1zM39 13h3v1h-3zM43 13h1v1h-1zM45 13h2v1h-2zM49 13h1v1h-1zM0 31h4v1h-4zM5 31h1v1h-1zM7 31h4v1h-4zM12 31h2v1h-2zM15 31h5v1h-5zM21 31h1v1h-1zM23 31h3v1h-3zM27 31h1v1h-1zM29 31h2v1h-2zM32 31h3v1h-3zM36 31h2v1h-2zM39 31h3v1h-3zM43 31h1v1h-1zM48 31h2v1h-2zM0 32h1v1h-1zM3 32h2v1h-2zM7 32h1v1h-1zM11 32h4v1h-4zM16 32h1v1h-1zM19 32h2v1h-2zM25 32h1v1h-1zM27 32h3v1h-3zM31 32h1v1h-1zM34 32h8v1h-8zM44 32h4v1h-4zM49 32h1v1h-1zM0 33h6v1h-6zM8 33h2v1h-2zM13 33h2v1h-2zM16 33h1v1h-1zM18 33h4v1h-4zM23 33h3v1h-3zM28 33h4v1h-4zM37 33h8v1h-8zM48 33h2v1h-2zM1 34h1v1h-1zM3 34h3v1h-3zM10 34h1v1h-1zM13 34h4v1h-4zM18 34h1v1h-1zM20 34h1v1h-1zM22 34h1v1h-1zM24 34h1v1h-1zM26 34h1v1h-1zM29 34h1v1h-1zM41 34h3v1h-3zM45 34h1v1h-1zM48 34h2v1h-2zM5 35h1v1h-1zM8 35h1v1h-1zM10 35h2v1h-2zM16 35h1v1h-1zM18 35h2v1h-2zM22 35h4v1h-4zM27 35h1v1h-1zM29 35h2v1h-2zM33 35h1v1h-1zM35 35h1v1h-1zM37 35h4v1h-4zM43 35h4v1h-4zM48 35h1v1h-1zM2 36h1v1h-1zM8 36h1v1h-1zM15 36h1v1h-1zM18 36h2v1h-2zM21 36h1v1h-1zM23 36h1v1h-1zM27 36h1v1h-1zM29 36h1v1h-1zM37 36h1v1h-1zM41 36h1v1h-1zM43 36h1v1h-1zM4 37h1v1h-1zM6 37h1v1h-1zM11 37h1v1h-1zM13 37h1v1h-1zM15 37h1v1h-1zM23 37h1v1h-1zM26 37h1v1h-1zM29 37h1v1h-1zM33 37h1v1h-1zM38 37h1v1h-1zM14 38h1v1h-1zM34 38h1v1h-1zM39 38h1v1h-1zM4 39h1v1h-1zM8 39h1v1h-1zM17 39h1v1h-1zM27 39h1v1h-1zM29 39h1v1h-1zM39 39h3v1h-3zM13 40h1v1h-1zM5 41h1v1h-1zM31 41h1v1h-1zM41 41h1v1h-1zM19 42h1v1h-1zM30 42h1v1h-1zM34 42h1v1h-1zM43 42h1v1h-1zM27 43h1v1h-1zM27 44h1v1h-1zM47 44h1v1h-1zM45 45h1v1h-1zM32 47h1v1h-1zM48 49h1v1h-1z"/><path fill="#472d7b" d="M15 5h1v1h-1zM46 5h1v1h-1zM36 6h1v1h-1zM0 7h1v1h-1zM5 7h1v1h-1zM32 7h1v1h-1zM43 7h1v1h-1zM42 8h1v1h-1zM48 8h1v1h-1zM5 9h1v1h-1zM23 9h1v1h-1zM40 9h1v1h-1zM44 9h1v1h-1zM5 10h1v1h-1zM12 10h1v1h-1zM20 10h1v1h-1zM26 10h2v1h-2zM39 10h1v1h-1zM45 10h1v1h-1zM3 11h1v1h-1zM16 11h1v1h-1zM24 11h1v1h-1zM36 11h1v1h-1zM45 11h1v1h-1zM6 12h1v1h-1zM8 12h1v1h-1zM31 12h1v1h-1zM38 12h1v1h-1zM43 12h1v1h-1zM0 13h1v1h-1zM3 13h1v1h-1zM12 13h1v1h-1zM15 13h1v1h-1zM18 13h1v1h-1zM26 13h1v1h-1zM32 13h1v1h-1zM36 13h1v1h-1zM38 13h1v1h-1zM44 13h1v1h-1zM48 13h1v1h-1zM2 14h1v1h-1zM4 14h2v1h-2zM9 14h1v1h-1zM17 14h1v1h-1zM21 14h3v1h-3zM25 14h1v1h-1zM31 14h1v1h-1zM34 14h1v1h-1zM48 14h1v1h-1zM2 30h1v1h-1zM6 30h1v1h-1zM27 30h1v1h-1zM32 30h1v1h-1zM34 30h2v1h-2zM4 31h1v1h-1zM6 31h1v1h-1zM11 31h1v1h-1zM14 31h1v1h-1zM20 31h1v1h-1zM26 31h1v1h-1zM28 31h1v1h-1zM35 31h1v1h-1zM44 31h2v1h-2zM47 31h1v1h-1zM1 32h2v1h-2zM6 32h1v1h-1zM10 32h1v1h-1zM15 32h1v1h-1zM18 32h1v1h-1zM26 32h1v1h-1zM30 32h1v1h-1zM12 33h1v1h-1zM15 33h1v1h-1zM27 33h1v1h-1zM33 33h1v1h-1zM6 34h1v1h-1zM9 34h1v1h-1zM23 34h1v1h-1zM33 34h2v1h-2zM37 34h2v1h-2zM40 34h1v1h-1zM47 34h1v1h-1zM12 35h1v1h-1zM17 35h1v1h-1zM21 35h1v1h-1zM26 35h1v1h-1zM12 36h1v1h-1zM25 36h1v1h-1zM40 36h1v1h-1zM44 36h1v1h-1zM21 37h1v1h-1zM45 37h1v1h-1zM16 38h1v1h-1zM49 38h1v1h-1z"/><path fill="#482374" d="M0 14h1v1h-1zM11 14h1v1h-1zM35 14h1v1h-1zM12 30h1v1h-1z"/><path fill="#404588" d="M1 14h1v1h-1zM8 14h1v1h-1zM4 15h1v1h-1zM8 15h1v1h-1zM10 15h1v1h-1zM14 15h1v1h-1zM22 15h1v1h-1zM30 15h2v1h-2zM40 15h1v1h-1zM48 15h2v1h-2zM30 16h1v1h-1zM10 28h1v1h-1zM14 28h1v1h-1zM36 28h1v1h-1zM5 29h1v1h-1zM8 29h1v1h-1zM10 29h2v1h-2zM14 29h1v1h-1zM17 29h1v1h-1zM22 29h1v1h-1zM41 29h2v1h-2zM46 29h1v1h-1zM17 30h1v1h-1zM21 30h1v1h-1zM39 30h1v1h-1zM48 30h1v1h-1z"/><path fill="#481d6f" d="M3 14h1v1h-1z"/><path fill="#424086" d="M7 14h1v1h-1zM12 14h1v1h-1zM28 14h1v1h-1zM30 14h1v1h-1zM41 14h1v1h-1zM0 15h1v1h-1zM2 15h1v1h-1zM6 15h1v1h-1zM41 15h1v1h-1zM43 15h1v1h-1zM45 15h2v1h-2zM1 29h1v1h-1zM4 29h1v1h-1zM7 29h1v1h-1zM19 29h1v1h-1zM26 29h1v1h-1zM30 29h1v1h-1zM0 30h1v1h-1zM8 30h1v1h-1zM10 30h1v1h-1zM14 30h1v1h-1zM20 30h1v1h-1zM29 30h1v1h-1zM40 30h1v1h-1zM43 30h1v1h-1z"/><path fill="#46327e" d="M10 14h1v1h-1zM39 14h1v1h-1zM43 14h1v1h-1zM47 14h1v1h-1zM13 15h1v1h-1zM18 15h1v1h-1zM28 15h1v1h-1zM31 29h1v1h-1zM36 29h1v1h-1zM4 30h1v1h-1zM19 30h1v1h-1zM25 30h1v1h-1zM37 30h1v1h-1z"/><path fill="#482878" d="M13 14h2v1h-2zM16 14h1v1h-1zM26 14h1v1h-1zM36 14h1v1h-1zM38 14h1v1h-1z"/><path fill="#443b84" d="M15 14h1v1h-1zM32 14h1v1h-1zM37 14h1v1h-1zM42 14h1v1h-1zM45 14h1v1h-1zM1 15h1v1h-1zM16 15h1v1h-1zM19 15h1v1h-1zM25 15h3v1h-3zM39 15h1v1h-1zM44 15h1v1h-1zM15 29h1v1h-1zM18 29h1v1h-1zM23 29h1v1h-1zM25 29h1v1h-1zM32 29h1v1h-1zM34 29h1v1h-1zM38 29h1v1h-1zM48 29h1v1h-1zM5 30h1v1h-1zM16 30h1v1h-1zM24 30h1v1h-1zM31 30h1v1h-1zM46 30h1v1h-1z"/><path fill="#453781" d="M18 14h1v1h-1zM20 14h1v1h-1zM27 14h1v1h-1zM29 14h1v1h-1zM33 14h1v1h-1zM44 14h1v1h-1zM46 14h1v1h-1zM49 14h1v1h-1zM17 15h1v1h-1zM21 29h1v1h-1zM44 29h1v1h-1zM1 30h1v1h-1zM3 30h1v1h-1zM7 30h1v1h-1zM11 30h1v1h-1zM15 30h1v1h-1zM18 30h1v1h-1zM22 30h1v1h-1zM28 30h1v1h-1zM30 30h1v1h-1zM33 30h1v1h-1zM36 30h1v1h-1zM38 30h1v1h-1zM41 30h2v1h-2zM44 30h1v1h-1zM47 30h1v1h-1zM49 30h1v1h-1z"/><path fill="#3d4e8a" d="M19 14h1v1h-1zM7 15h1v1h-1zM20 15h1v1h-1zM24 15h1v1h-1zM29 15h1v1h-1zM32 15h1v1h-1zM36 15h1v1h-1zM38 15h1v1h-1zM3 16h1v1h-1zM5 16h1v1h-1zM7 16h1v1h-1zM22 16h1v1h-1zM39 16h1v1h-1zM48 16h1v1h-1zM4 17h1v1h-1zM0 28h1v1h-1zM2 28h2v1h-2zM9 28h1v1h-1zM13 28h1v1h-1zM16 28h1v1h-1zM18 28h1v1h-1zM21 28h1v1h-1zM16 29h1v1h-1zM27 29h1v1h-1zM37 29h1v1h-1zM40 29h1v1h-1zM47 29h1v1h-1z"/><path fill="#3e4989" d="M40 14h1v1h-1zM3 15h1v1h-1zM5 15h1v1h-1zM9 15h1v1h-1zM12 15h1v1h-1zM15 15h1v1h-1zM21 15h1v1h-1zM34 15h1v1h-1zM37 15h1v1h-1zM47 15h1v1h-1zM2 16h1v1h-1zM14 16h1v1h-1zM16 16h1v1h-1zM21 16h1v1h-1zM27 16h2v1h-2zM34 16h1v1h-1zM1 28h1v1h-1zM4 28h1v1h-1zM6 28h1v1h-1zM8 28h1v1h-1zM11 28h1v1h-1zM20 28h1v1h-1zM30 28h1v1h-1zM48 28h2v1h-2zM2 29h2v1h-2zM13 29h1v1h-1zM20 29h1v1h-1zM24 29h1v1h-1zM28 29h2v1h-2zM33 29h1v1h-1zM35 29h1v1h-1zM39 29h1v1h-1zM45 29h1v1h-1zM49 29h1v1h-1zM9 30h1v1h-1z"/><path fill="#3a538b" d="M33 15h1v1h-1zM35 15h1v1h-1zM0 16h2v1h-2zM4 16h1v1h-1zM8 16h2v1h-2zM12 16h1v1h-1zM17 16h1v1h-1zM20 16h1v1h-1zM23 16h1v1h-1zM26 16h1v1h-1zM31 16h1v1h-1zM35 16h4v1h-4zM43 16h4v1h-4zM22 17h1v1h-1zM31 17h1v1h-1zM24 27h1v1h-1zM34 27h1v1h-1zM38 27h1v1h-1zM7 28h1v1h-1zM17 28h1v1h-1zM19 28h1v1h-1zM23 28h2v1h-2zM28 28h1v1h-1zM31 28h3v1h-3zM35 28h1v1h-1zM37 28h2v1h-2zM42 28h2v1h-2zM45 28h1v1h-1zM47 28h1v1h-1zM6 29h1v1h-1zM12 29h1v1h-1z"/><path fill="#34608d" d="M6 16h1v1h-1zM15 16h1v1h-1zM24 16h1v1h-1zM1 17h2v1h-2zM5 17h1v1h-1zM9 17h1v1h-1zM11 17h2v1h-2zM21 17h1v1h-1zM24 17h1v1h-1zM28 17h1v1h-1zM34 17h1v1h-1zM36 17h1v1h-1zM39 17h1v1h-1zM41 17h1v1h-1zM44 17h1v1h-1zM5 18h1v1h-1zM12 26h1v1h-1zM16 26h1v1h-1zM26 26h1v1h-1zM30 26h1v1h-1zM43 26h1v1h-1zM3 27h1v1h-1zM13 27h1v1h-1zM16 27h1v1h-1zM18 27h2v1h-2zM23 27h1v1h-1zM25 27h1v1h-1zM28 27h1v1h-1zM32 27h1v1h-1zM36 27h1v1h-1zM39 27h2v1h-2zM46 27h1v1h-1zM15 28h1v1h-1zM27 28h1v1h-1z"/><path fill="#365c8d" d="M10 16h1v1h-1zM19 16h1v1h-1zM14 17h1v1h-1zM18 17h2v1h-2zM23 17h1v1h-1zM25 17h3v1h-3zM29 17h2v1h-2zM33 17h1v1h-1zM35 17h1v1h-1zM37 17h2v1h-2zM46 17h1v1h-1zM48 17h2v1h-2zM13 26h1v1h-1zM23 26h1v1h-1zM0 27h3v1h-3zM4 27h4v1h-4zM10 27h1v1h-1zM14 27h1v1h-1zM29 27h1v1h-1zM31 27h1v1h-1zM33 27h1v1h-1zM35 27h1v1h-1zM37 27h1v1h-1zM41 27h1v1h-1zM44 27h2v1h-2zM47 27h3v1h-3zM22 28h1v1h-1zM26 28h1v1h-1zM29 28h1v1h-1zM34 28h1v1h-1zM40 28h2v1h-2zM46 28h1v1h-1z"/><path fill="#38588c" d="M11 16h1v1h-1zM13 16h1v1h-1zM18 16h1v1h-1zM25 16h1v1h-1zM29 16h1v1h-1zM32 16h2v1h-2zM40 16h3v1h-3zM47 16h1v1h-1zM49 16h1v1h-1zM3 17h1v1h-1zM6 17h2v1h-2zM10 17h1v1h-1zM16 17h1v1h-1zM32 17h1v1h-1zM40 17h1v1h-1zM43 17h1v1h-1zM45 17h1v1h-1zM8 27h2v1h-2zM11 27h2v1h-2zM15 27h1v1h-1zM20 27h3v1h-3zM30 27h1v1h-1zM5 28h1v1h-1zM12 28h1v1h-1zM25 28h1v1h-1zM39 28h1v1h-1zM44 28h1v1h-1z"/><path fill="#31688e" d="M0 17h1v1h-1zM8 17h1v1h-1zM17 17h1v1h-1zM47 17h1v1h-1zM1 18h1v1h-1zM3 18h1v1h-1zM6 18h2v1h-2zM11 18h1v1h-1zM14 18h1v1h-1zM16 18h1v1h-1zM18 18h1v1h-1zM20 18h2v1h-2zM24 18h1v1h-1zM30 18h1v1h-1zM32 18h1v1h-1zM37 18h1v1h-1zM40 18h3v1h-3zM45 18h2v1h-2zM48 18h1v1h-1zM5 25h1v1h-1zM0 26h1v1h-1zM2 26h1v1h-1zM4 26h1v1h-1zM9 26h3v1h-3zM17 26h3v1h-3zM22 26h1v1h-1zM28 26h1v1h-1zM32 26h2v1h-2zM37 26h1v1h-1zM40 26h1v1h-1zM45 26h1v1h-1zM47 26h1v1h-1z"/><path fill="#32648e" d="M13 17h1v1h-1zM15 17h1v1h-1zM20 17h1v1h-1zM42 17h1v1h-1zM4 18h1v1h-1zM12 18h1v1h-1zM17 18h1v1h-1zM19 18h1v1h-1zM23 18h1v1h-1zM31 18h1v1h-1zM33 18h1v1h-1zM35 18h1v1h-1zM43 18h1v1h-1zM1 26h1v1h-1zM3 26h1v1h-1zM5 26h3v1h-3zM20 26h1v1h-1zM25 26h1v1h-1zM27 26h1v1h-1zM31 26h1v1h-1zM38 26h1v1h-1zM41 26h2v1h-2zM46 26h1v1h-1zM48 26h1v1h-1zM17 27h1v1h-1zM26 27h2v1h-2zM42 27h2v1h-2z"/><path fill="#2d708e" d="M0 18h1v1h-1zM2 18h1v1h-1zM34 18h1v1h-1zM36 18h1v1h-1zM19 19h1v1h-1zM1 25h3v1h-3zM6 25h1v1h-1zM10 25h3v1h-3zM17 25h1v1h-1zM21 25h3v1h-3zM26 25h2v1h-2zM29 25h1v1h-1zM32 25h1v1h-1zM35 25h4v1h-4zM43 25h2v1h-2zM47 25h3v1h-3zM14 26h2v1h-2z"/><path fill="#2c738e" d="M8 18h1v1h-1zM15 18h1v1h-1zM2 19h2v1h-2zM6 19h2v1h-2zM15 19h1v1h-1zM17 19h2v1h-2zM23 19h1v1h-1zM27 19h1v1h-1zM30 19h1v1h-1zM32 19h1v1h-1zM34 19h1v1h-1zM37 19h3v1h-3zM41 19h1v1h-1zM44 19h1v1h-1zM47 19h1v1h-1zM3 24h2v1h-2zM32 24h1v1h-1zM0 25h1v1h-1zM4 25h1v1h-1zM8 25h2v1h-2zM13 25h2v1h-2zM18 25h3v1h-3zM24 25h2v1h-2zM28 25h1v1h-1zM33 25h1v1h-1zM39 25h4v1h-4zM45 25h2v1h-2zM49 26h1v1h-1z"/><path fill="#2f6c8e" d="M9 18h2v1h-2zM13 18h1v1h-1zM22 18h1v1h-1zM25 18h5v1h-5zM38 18h2v1h-2zM44 18h1v1h-1zM47 18h1v1h-1zM49 18h1v1h-1zM15 25h2v1h-2zM8 26h1v1h-1zM21 26h1v1h-1zM24 26h1v1h-1zM29 26h1v1h-1zM34 26h3v1h-3zM39 26h1v1h-1zM44 26h1v1h-1z"/><path fill="#2a778e" d="M0 19h2v1h-2zM5 19h1v1h-1zM8 19h6v1h-6zM16 19h1v1h-1zM20 19h3v1h-3zM24 19h1v1h-1zM26 19h1v1h-1zM28 19h1v1h-1zM33 19h1v1h-1zM36 19h1v1h-1zM40 19h1v1h-1zM42 19h2v1h-2zM45 19h2v1h-2zM48 19h2v1h-2zM9 24h1v1h-1zM12 24h2v1h-2zM17 24h1v1h-1zM19 24h2v1h-2zM25 24h3v1h-3zM29 24h1v1h-1zM33 24h1v1h-1zM40 24h1v1h-1zM46 24h2v1h-2zM49 24h1v1h-1zM7 25h1v1h-1zM30 25h2v1h-2zM34 25h1v1h-1z"/><path fill="#297b8e" d="M4 19h1v1h-1zM25 19h1v1h-1zM29 19h1v1h-1zM31 19h1v1h-1zM35 19h1v1h-1zM47 20h1v1h-1zM0 24h3v1h-3zM5 24h2v1h-2zM10 24h1v1h-1zM14 24h2v1h-2zM18 24h1v1h-1zM21 24h1v1h-1zM23 24h1v1h-1zM28 24h1v1h-1zM30 24h1v1h-1zM34 24h5v1h-5zM42 24h4v1h-4zM48 24h1v1h-1z"/><path fill="#277f8e" d="M14 19h1v1h-1zM3 20h1v1h-1zM8 20h1v1h-1zM13 20h1v1h-1zM15 20h1v1h-1zM17 20h2v1h-2zM20 20h1v1h-1zM27 20h1v1h-1zM29 20h2v1h-2zM32 20h1v1h-1zM35 20h1v1h-1zM38 20h2v1h-2zM43 20h1v1h-1zM45 20h1v1h-1zM48 20h1v1h-1zM7 24h2v1h-2zM11 24h1v1h-1zM16 24h1v1h-1zM22 24h1v1h-1zM24 24h1v1h-1zM31 24h1v1h-1zM39 24h1v1h-1zM41 24h1v1h-1z"/><path fill="#24868e" d="M0 20h1v1h-1zM4 20h1v1h-1zM6 20h1v1h-1zM11 20h1v1h-1zM14 20h1v1h-1zM24 20h1v1h-1zM31 20h1v1h-1zM34 20h1v1h-1zM36 20h1v1h-1zM41 20h1v1h-1zM46 20h1v1h-1zM5 23h1v1h-1zM7 23h1v1h-1zM11 23h4v1h-4zM16 23h2v1h-2zM21 23h3v1h-3zM25 23h2v1h-2zM28 23h3v1h-3zM32 23h1v1h-1zM34 23h3v1h-3zM39 23h3v1h-3zM43 23h3v1h-3zM49 23h1v1h-1z"/><path fill="#26828e" d="M1 20h2v1h-2zM5 20h1v1h-1zM7 20h1v1h-1zM9 20h2v1h-2zM12 20h1v1h-1zM16 20h1v1h-1zM19 20h1v1h-1zM21 20h3v1h-3zM25 20h2v1h-2zM28 20h1v1h-1zM33 20h1v1h-1zM37 20h1v1h-1zM40 20h1v1h-1zM42 20h1v1h-1zM44 20h1v1h-1zM49 20h1v1h-1zM0 23h1v1h-1zM6 23h1v1h-1zM8 23h2v1h-2zM18 23h2v1h-2zM27 23h1v1h-1zM37 23h2v1h-2zM42 23h1v1h-1zM48 23h1v1h-1z"/><path fill="#95d840" d="M0 21h1v1h-1z"/><path fill="#52c569" d="M1 21h1v1h-1zM7 21h2v1h-2zM10 21h1v1h-1zM16 21h1v1h-1zM24 21h1v1h-1zM26 21h2v1h-2zM29 21h1v1h-1zM32 21h4v1h-4zM38 21h2v1h-2zM46 21h2v1h-2zM49 21h1v1h-1z"/><path fill="#5ac864" d="M2 21h5v1h-5zM9 21h1v1h-1zM11 21h5v1h-5zM17 21h7v1h-7zM25 21h1v1h-1zM28 21h1v1h-1zM30 21h2v1h-2zM36 21h2v1h-2zM40 21h6v1h-6zM48 21h1v1h-1z"/><path fill="#d5e21a" d="M0 22h1v1h-1z"/><path fill="#eae51a" d="M1 22h7v1h-7zM9 22h39v1h-39zM49 22h1v1h-1z"/><path fill="#f4e61e" d="M8 22h1v1h-1zM48 22h1v1h-1z"/><path fill="#238a8d" d="M1 23h4v1h-4zM10 23h1v1h-1zM15 23h1v1h-1zM20 23h1v1h-1zM24 23h1v1h-1zM31 23h1v1h-1zM33 23h1v1h-1zM46 23h2v1h-2z"/>
</g>
<path d="M493.92 11.2V165.9M496.93 11.2V165.9M499.95 11.2V165.9M502.96 11.2V165.9M505.98 11.2V165.9M509 11.2V165.9M512.01 11.2V165.9M515.03 11.2V165.9M518.04 11.2V165.9M521.06 11.2V165.9M524.08 11.2V165.9M527.09 11.2V165.9M530.11 11.2V165.9M533.12 11.2V165.9M536.14 11.2V165.9M539.16 11.2V165.9M542.17 11.2V165.9M545.19 11.2V165.9M548.2 11.2V165.9M551.22 11.2V165.9M554.24 11.2V165.9M557.25 11.2V165.9M560.27 11.2V165.9M563.28 11.2V165.9M566.3 11.2V165.9M569.32 11.2V165.9M572.33 11.2V165.9M575.35 11.2V165.9M578.36 11.2V165.9M581.38 11.2V165.9M584.4 11.2V165.9M587.41 11.2V165.9M590.43 11.2V165.9M593.44 11.2V165.9M596.46 11.2V165.9M599.48 11.2V165.9M602.49 11.2V165.9M605.51 11.2V165.9M608.52 11.2V165.9M611.54 11.2V165.9M614.56 11.2V165.9M617.57 11.2V165.9M620.59 11.2V165.9M623.6 11.2V165.9M626.62 11.2V165.9M629.64 11.2V165.9M632.65 11.2V165.9M635.67 11.2V165.9M638.68 11.2V165.9M490.9 162.77H641.7M490.9 159.64H641.7M490.9 156.51H641.7M490.9 153.38H641.7M490.9 150.25H641.7M490.9 147.12H641.7M490.9 143.99H641.7M490.9 140.86H641.7M490.9 137.73H641.7M490.9 134.6H641.7M490.9 131.47H641.7M490.9 128.34H641.7M490.9 125.21H641.7M490.9 122.08H641.7M490.9 118.95H641.7M490.9 115.82H641.7M490.9 112.69H641.7M490.9 109.56H641.7M490.9 106.43H641.7M490.9 103.3H641.7M490.9 100.17H641.7M490.9 97.04H641.7M490.9 93.91H641.7M490.9 90.78H641.7M490.9 87.65H641.7M490.9 84.52H641.7M490.9 81.39H641.7M490.9 78.26H641.7M490.9 75.13H641.7M490.9 72H641.7M490.9 68.87H641.7M490.9 65.74H641.7M490.9 62.61H641.7M490.9 59.48H641.7M490.9 56.35H641.7M490.9 53.22H641.7M490.9 50.09H641.7M490.9 46.96H641.7M490.9 43.83H641.7M490.9 40.7H641.7M490.9 37.57H641.7M490.9 34.44H641.7M490.9 31.31H641.7M490.9 28.18H641.7M490.9 25.05H641.7M490.9 21.92H641.7M490.9 18.79H641.7M490.9 15.66H641.7M490.9 12.53H641.7" stroke="#fff" stroke-opacity="0.16" stroke-width="0.4" fill="none"/>
</g>
<rect x="652.6" y="11.2" width="8.2" height="154.7" fill="url(#vir)"/>
<line x1="660.8" x2="662.3" y1="19.4" y2="19.4" stroke="#333" stroke-width="0.6"/>
<text transform="translate(662.8 21.4) scale(1.1 1)" font-size="6.5" text-anchor="start">10<tspan font-size="4.68" dx="0.4" dy="-2.0">−2</tspan></text>
<line x1="660.8" x2="662.3" y1="56.9" y2="56.9" stroke="#333" stroke-width="0.6"/>
<text transform="translate(662.8 58.9) scale(1.1 1)" font-size="6.5" text-anchor="start">10<tspan font-size="4.68" dx="0.4" dy="-2.0">−3</tspan></text>
<line x1="660.8" x2="662.3" y1="94.4" y2="94.4" stroke="#333" stroke-width="0.6"/>
<text transform="translate(662.8 96.4) scale(1.1 1)" font-size="6.5" text-anchor="start">10<tspan font-size="4.68" dx="0.4" dy="-2.0">−4</tspan></text>
<line x1="660.8" x2="662.3" y1="131.2" y2="131.2" stroke="#333" stroke-width="0.6"/>
<text transform="translate(662.8 133.2) scale(1.1 1)" font-size="6.5" text-anchor="start">10<tspan font-size="4.68" dx="0.4" dy="-2.0">−5</tspan></text>
<line x1="660.8" x2="661.7" y1="45.61" y2="45.61" stroke="#555" stroke-width="0.45"/>
<line x1="660.8" x2="661.7" y1="39.01" y2="39.01" stroke="#555" stroke-width="0.45"/>
<line x1="660.8" x2="661.7" y1="34.32" y2="34.32" stroke="#555" stroke-width="0.45"/>
<line x1="660.8" x2="661.7" y1="30.69" y2="30.69" stroke="#555" stroke-width="0.45"/>
<line x1="660.8" x2="661.7" y1="27.72" y2="27.72" stroke="#555" stroke-width="0.45"/>
<line x1="660.8" x2="661.7" y1="25.21" y2="25.21" stroke="#555" stroke-width="0.45"/>
<line x1="660.8" x2="661.7" y1="23.03" y2="23.03" stroke="#555" stroke-width="0.45"/>
<line x1="660.8" x2="661.7" y1="21.12" y2="21.12" stroke="#555" stroke-width="0.45"/>
<line x1="660.8" x2="661.7" y1="83.11" y2="83.11" stroke="#555" stroke-width="0.45"/>
<line x1="660.8" x2="661.7" y1="76.51" y2="76.51" stroke="#555" stroke-width="0.45"/>
<line x1="660.8" x2="661.7" y1="71.82" y2="71.82" stroke="#555" stroke-width="0.45"/>
<line x1="660.8" x2="661.7" y1="68.19" y2="68.19" stroke="#555" stroke-width="0.45"/>
<line x1="660.8" x2="661.7" y1="65.22" y2="65.22" stroke="#555" stroke-width="0.45"/>
<line x1="660.8" x2="661.7" y1="62.71" y2="62.71" stroke="#555" stroke-width="0.45"/>
<line x1="660.8" x2="661.7" y1="60.53" y2="60.53" stroke="#555" stroke-width="0.45"/>
<line x1="660.8" x2="661.7" y1="58.62" y2="58.62" stroke="#555" stroke-width="0.45"/>
<line x1="660.8" x2="661.7" y1="120.61" y2="120.61" stroke="#555" stroke-width="0.45"/>
<line x1="660.8" x2="661.7" y1="114.01" y2="114.01" stroke="#555" stroke-width="0.45"/>
<line x1="660.8" x2="661.7" y1="109.32" y2="109.32" stroke="#555" stroke-width="0.45"/>
<line x1="660.8" x2="661.7" y1="105.69" y2="105.69" stroke="#555" stroke-width="0.45"/>
<line x1="660.8" x2="661.7" y1="102.72" y2="102.72" stroke="#555" stroke-width="0.45"/>
<line x1="660.8" x2="661.7" y1="100.21" y2="100.21" stroke="#555" stroke-width="0.45"/>
<line x1="660.8" x2="661.7" y1="98.03" y2="98.03" stroke="#555" stroke-width="0.45"/>
<line x1="660.8" x2="661.7" y1="96.12" y2="96.12" stroke="#555" stroke-width="0.45"/>
<line x1="660.8" x2="661.7" y1="158.11" y2="158.11" stroke="#555" stroke-width="0.45"/>
<line x1="660.8" x2="661.7" y1="151.51" y2="151.51" stroke="#555" stroke-width="0.45"/>
<line x1="660.8" x2="661.7" y1="146.82" y2="146.82" stroke="#555" stroke-width="0.45"/>
<line x1="660.8" x2="661.7" y1="143.19" y2="143.19" stroke="#555" stroke-width="0.45"/>
<line x1="660.8" x2="661.7" y1="140.22" y2="140.22" stroke="#555" stroke-width="0.45"/>
<line x1="660.8" x2="661.7" y1="137.71" y2="137.71" stroke="#555" stroke-width="0.45"/>
<line x1="660.8" x2="661.7" y1="135.53" y2="135.53" stroke="#555" stroke-width="0.45"/>
<line x1="660.8" x2="661.7" y1="133.62" y2="133.62" stroke="#555" stroke-width="0.45"/>
<text transform="translate(681.2 88.6) rotate(-90)" font-size="8.6" text-anchor="middle" dominant-baseline="central">Density</text>
<text transform="translate(466.7 89.2) rotate(-90)" font-size="8.6" text-anchor="middle" dominant-baseline="central">V[22]</text>
<text transform="translate(567.3 187.5)" font-size="8.6" text-anchor="middle" dominant-baseline="central">True Energy [GeV]</text>
<text transform="translate(492 172.47) rotate(-45) scale(1.1 1)" font-size="6.5" text-anchor="middle" dominant-baseline="central">50</text>
<text transform="translate(522.2 175.28) rotate(-45) scale(1.1 1)" font-size="6.5" text-anchor="middle" dominant-baseline="central">1640</text>
<text transform="translate(552.4 175.28) rotate(-45) scale(1.1 1)" font-size="6.5" text-anchor="middle" dominant-baseline="central">3230</text>
<text transform="translate(582.6 175.28) rotate(-45) scale(1.1 1)" font-size="6.5" text-anchor="middle" dominant-baseline="central">4820</text>
<text transform="translate(612.8 175.28) rotate(-45) scale(1.1 1)" font-size="6.5" text-anchor="middle" dominant-baseline="central">6410</text>
<text transform="translate(643 175.28) rotate(-45) scale(1.1 1)" font-size="6.5" text-anchor="middle" dominant-baseline="central">8000</text>
<text transform="translate(488.4 11.9) scale(1.1 1)" font-size="6.5" text-anchor="end" dominant-baseline="central">3984</text>
<text transform="translate(488.4 58.3) scale(1.1 1)" font-size="6.5" text-anchor="end" dominant-baseline="central">1844</text>
<text transform="translate(488.4 104.6) scale(1.1 1)" font-size="6.5" text-anchor="end" dominant-baseline="central">-297</text>
<text transform="translate(488.4 150.9) scale(1.1 1)" font-size="6.5" text-anchor="end" dominant-baseline="central">-2437</text>
<clipPath id="c3"><rect x="28.1" y="210.3" width="150.6" height="154"/></clipPath>
<g clip-path="url(#c3)"><g shape-rendering="crispEdges" transform="translate(28.1 364.2) scale(3.0120 -3.0000)">
<path fill="#470d60" d="M43 0h1v1h-1zM44 4h1v1h-1zM47 6h1v1h-1zM44 9h1v1h-1zM47 9h1v1h-1zM41 10h1v1h-1zM43 10h1v1h-1zM49 10h1v1h-1zM31 11h1v1h-1zM33 11h1v1h-1zM37 11h1v1h-1zM45 11h5v1h-5zM15 12h1v1h-1zM22 12h1v1h-1zM26 12h1v1h-1zM35 12h1v1h-1zM37 12h1v1h-1zM41 12h2v1h-2zM44 12h1v1h-1zM47 12h2v1h-2zM20 13h1v1h-1zM26 13h2v1h-2zM31 13h1v1h-1zM35 13h2v1h-2zM38 13h1v1h-1zM41 13h2v1h-2zM45 13h1v1h-1zM47 13h3v1h-3zM13 14h1v1h-1zM16 14h1v1h-1zM21 14h1v1h-1zM27 14h1v1h-1zM29 14h1v1h-1zM32 14h2v1h-2zM35 14h2v1h-2zM39 14h1v1h-1zM41 14h1v1h-1zM43 14h2v1h-2zM47 14h3v1h-3zM20 15h1v1h-1zM22 15h5v1h-5zM28 15h2v1h-2zM31 15h10v1h-10zM5 16h1v1h-1zM15 16h1v1h-1zM20 16h5v1h-5zM26 16h4v1h-4zM9 17h2v1h-2zM12 17h1v1h-1zM14 17h3v1h-3zM18 17h1v1h-1zM21 17h1v1h-1zM1 18h1v1h-1zM4 18h1v1h-1zM6 18h1v1h-1zM8 18h1v1h-1zM10 18h3v1h-3zM0 19h1v1h-1zM2 19h1v1h-1zM4 19h1v1h-1zM1 26h1v1h-1zM3 26h2v1h-2zM0 27h1v1h-1zM2 27h1v1h-1zM4 27h2v1h-2zM7 27h3v1h-3zM3 28h1v1h-1zM8 28h1v1h-1zM10 28h1v1h-1zM12 28h1v1h-1zM14 28h2v1h-2zM9 29h2v1h-2zM18 29h4v1h-4zM17 30h1v1h-1zM19 30h7v1h-7zM27 30h1v1h-1zM29 30h2v1h-2zM17 31h3v1h-3zM22 31h2v1h-2zM25 31h1v1h-1zM29 31h1v1h-1zM31 31h2v1h-2zM35 31h1v1h-1zM37 31h1v1h-1zM40 31h1v1h-1zM42 31h1v1h-1zM16 32h1v1h-1zM20 32h2v1h-2zM33 32h3v1h-3zM38 32h2v1h-2zM41 32h1v1h-1zM43 32h1v1h-1zM45 32h1v1h-1zM48 32h2v1h-2zM20 33h1v1h-1zM28 33h1v1h-1zM31 33h2v1h-2zM35 33h1v1h-1zM39 33h1v1h-1zM41 33h2v1h-2zM44 33h2v1h-2zM47 33h3v1h-3zM22 34h1v1h-1zM26 34h1v1h-1zM28 34h1v1h-1zM35 34h2v1h-2zM41 34h2v1h-2zM46 34h1v1h-1zM48 34h1v1h-1zM44 35h2v1h-2zM49 35h1v1h-1zM31 36h1v1h-1zM43 36h1v1h-1zM31 37h1v1h-1zM43 37h1v1h-1zM48 37h1v1h-1zM9 38h1v1h-1zM15 38h1v1h-1zM31 38h1v1h-1zM42 38h1v1h-1zM37 40h1v1h-1zM47 40h1v1h-1zM31 43h1v1h-1zM23 51h1v1h-1z"/><path fill="#46327e" d="M34 10h1v1h-1zM47 10h1v1h-1zM32 13h1v1h-1zM37 14h1v1h-1zM40 14h1v1h-1zM41 15h2v1h-2zM12 16h1v1h-1zM32 16h1v1h-1zM36 16h1v1h-1zM8 17h1v1h-1zM17 17h1v1h-1zM9 18h1v1h-1zM13 18h1v1h-1zM2 26h1v1h-1zM3 27h1v1h-1zM11 28h1v1h-1zM13 28h1v1h-1zM16 28h1v1h-1zM15 29h1v1h-1zM26 30h1v1h-1zM28 30h1v1h-1zM41 30h1v1h-1zM21 31h1v1h-1zM24 31h1v1h-1zM34 31h1v1h-1zM38 31h2v1h-2zM47 31h1v1h-1zM49 31h1v1h-1zM29 32h1v1h-1zM47 32h1v1h-1zM34 34h1v1h-1zM39 34h1v1h-1zM43 35h1v1h-1zM47 36h1v1h-1z"/><path fill="#404588" d="M43 15h1v1h-1zM33 16h1v1h-1zM25 17h2v1h-2zM28 17h1v1h-1zM38 17h1v1h-1zM16 18h1v1h-1zM19 18h2v1h-2zM22 18h1v1h-1zM6 19h1v1h-1zM13 27h1v1h-1zM22 28h1v1h-1zM29 29h1v1h-1zM32 29h1v1h-1zM34 29h1v1h-1zM36 30h1v1h-1zM38 30h1v1h-1zM46 30h1v1h-1zM49 30h1v1h-1z"/><path fill="#424086" d="M44 15h1v1h-1zM38 16h1v1h-1zM43 16h1v1h-1zM29 17h1v1h-1zM35 17h1v1h-1zM18 18h1v1h-1zM9 19h2v1h-2zM5 26h1v1h-1zM10 27h3v1h-3zM20 28h1v1h-1zM23 29h1v1h-1zM27 29h1v1h-1zM31 29h1v1h-1zM33 30h1v1h-1zM42 30h2v1h-2z"/><path fill="#453781" d="M45 15h1v1h-1zM47 15h2v1h-2zM34 16h1v1h-1zM37 16h1v1h-1zM39 16h1v1h-1zM41 16h1v1h-1zM23 17h2v1h-2zM5 19h1v1h-1zM6 26h1v1h-1zM17 28h1v1h-1zM22 29h1v1h-1zM31 30h1v1h-1zM35 30h1v1h-1zM40 30h1v1h-1zM48 31h1v1h-1z"/><path fill="#443b84" d="M46 15h1v1h-1zM49 15h1v1h-1zM40 16h1v1h-1zM42 16h1v1h-1zM44 16h1v1h-1zM22 17h1v1h-1zM15 18h1v1h-1zM7 19h2v1h-2zM11 19h1v1h-1zM0 25h1v1h-1zM19 28h1v1h-1zM24 29h2v1h-2zM32 30h1v1h-1zM37 30h1v1h-1zM39 30h1v1h-1zM43 31h3v1h-3z"/><path fill="#472d7b" d="M31 16h1v1h-1zM27 17h1v1h-1zM34 30h1v1h-1zM46 31h1v1h-1z"/><path fill="#3e4989" d="M35 16h1v1h-1zM46 16h3v1h-3zM30 17h3v1h-3zM21 18h1v1h-1zM2 25h1v1h-1zM7 26h1v1h-1zM14 27h1v1h-1zM18 28h1v1h-1zM26 29h1v1h-1zM28 29h1v1h-1zM30 29h1v1h-1zM33 29h1v1h-1zM35 29h1v1h-1zM42 29h2v1h-2zM45 30h1v1h-1zM48 30h1v1h-1z"/><path fill="#3d4e8a" d="M45 16h1v1h-1zM33 17h1v1h-1zM41 17h1v1h-1zM45 17h3v1h-3zM17 18h1v1h-1zM24 18h1v1h-1zM31 18h1v1h-1zM12 19h1v1h-1zM3 20h1v1h-1zM1 25h1v1h-1zM9 26h1v1h-1zM15 27h2v1h-2zM23 28h1v1h-1zM26 28h1v1h-1zM38 29h1v1h-1zM40 29h1v1h-1zM44 29h1v1h-1zM47 29h1v1h-1zM44 30h1v1h-1zM47 30h1v1h-1z"/><path fill="#3a538b" d="M49 16h1v1h-1zM34 17h1v1h-1zM36 17h1v1h-1zM39 17h2v1h-2zM43 17h2v1h-2zM49 17h1v1h-1zM23 18h1v1h-1zM25 18h1v1h-1zM27 18h1v1h-1zM29 18h1v1h-1zM32 18h1v1h-1zM34 18h1v1h-1zM47 18h1v1h-1zM0 20h1v1h-1zM2 20h1v1h-1zM3 25h1v1h-1zM11 26h1v1h-1zM22 27h1v1h-1zM27 28h1v1h-1zM29 28h1v1h-1zM31 28h1v1h-1zM33 28h1v1h-1zM38 28h1v1h-1zM42 28h1v1h-1zM37 29h1v1h-1zM45 29h1v1h-1z"/><path fill="#38588c" d="M37 17h1v1h-1zM28 18h1v1h-1zM30 18h1v1h-1zM35 18h1v1h-1zM45 18h2v1h-2zM48 18h1v1h-1zM13 19h6v1h-6zM23 19h1v1h-1zM28 19h1v1h-1zM30 19h1v1h-1zM34 19h1v1h-1zM36 19h1v1h-1zM1 20h1v1h-1zM8 26h1v1h-1zM12 26h1v1h-1zM19 27h2v1h-2zM25 27h1v1h-1zM21 28h1v1h-1zM24 28h2v1h-2zM28 28h1v1h-1zM30 28h1v1h-1zM35 28h2v1h-2zM39 28h2v1h-2zM36 29h1v1h-1zM46 29h1v1h-1zM48 29h1v1h-1z"/><path fill="#365c8d" d="M42 17h1v1h-1zM48 17h1v1h-1zM26 18h1v1h-1zM33 18h1v1h-1zM36 18h1v1h-1zM38 18h4v1h-4zM44 18h1v1h-1zM20 19h1v1h-1zM22 19h1v1h-1zM24 19h2v1h-2zM27 19h1v1h-1zM33 19h1v1h-1zM5 20h3v1h-3zM9 20h1v1h-1zM4 25h1v1h-1zM10 26h1v1h-1zM13 26h2v1h-2zM17 27h2v1h-2zM24 27h1v1h-1zM28 27h1v1h-1zM32 27h1v1h-1zM39 27h2v1h-2zM42 27h1v1h-1zM32 28h1v1h-1zM37 28h1v1h-1zM41 28h1v1h-1zM46 28h3v1h-3zM41 29h1v1h-1z"/><path fill="#482374" d="M14 18h1v1h-1z"/><path fill="#34608d" d="M37 18h1v1h-1zM49 18h1v1h-1zM19 19h1v1h-1zM26 19h1v1h-1zM31 19h1v1h-1zM35 19h1v1h-1zM38 19h1v1h-1zM40 19h1v1h-1zM4 20h1v1h-1zM8 20h1v1h-1zM13 20h1v1h-1zM17 20h1v1h-1zM6 25h1v1h-1zM8 25h1v1h-1zM18 26h1v1h-1zM24 26h1v1h-1zM21 27h1v1h-1zM26 27h2v1h-2zM29 27h1v1h-1zM44 27h1v1h-1zM43 28h3v1h-3zM39 29h1v1h-1zM49 29h1v1h-1z"/><path fill="#32648e" d="M42 18h2v1h-2zM21 19h1v1h-1zM32 19h1v1h-1zM37 19h1v1h-1zM39 19h1v1h-1zM10 20h2v1h-2zM15 20h2v1h-2zM15 26h1v1h-1zM20 26h3v1h-3zM29 26h1v1h-1zM23 27h1v1h-1zM30 27h1v1h-1zM33 27h2v1h-2zM37 27h1v1h-1zM45 27h1v1h-1zM47 27h1v1h-1z"/><path fill="#31688e" d="M29 19h1v1h-1zM41 19h6v1h-6zM48 19h2v1h-2zM12 20h1v1h-1zM14 20h1v1h-1zM19 20h1v1h-1zM25 20h1v1h-1zM29 20h1v1h-1zM5 25h1v1h-1zM7 25h1v1h-1zM16 26h2v1h-2zM19 26h1v1h-1zM28 26h1v1h-1zM31 26h1v1h-1zM34 26h3v1h-3zM40 26h1v1h-1zM42 26h1v1h-1zM35 27h2v1h-2zM41 27h1v1h-1zM43 27h1v1h-1zM46 27h1v1h-1zM48 27h1v1h-1zM34 28h1v1h-1zM49 28h1v1h-1z"/><path fill="#2f6c8e" d="M47 19h1v1h-1zM21 20h1v1h-1zM28 20h1v1h-1zM33 20h1v1h-1zM41 20h1v1h-1zM18 25h1v1h-1zM23 26h1v1h-1zM25 26h1v1h-1zM27 26h1v1h-1zM30 26h1v1h-1zM32 26h1v1h-1zM37 26h1v1h-1zM39 26h1v1h-1zM38 27h1v1h-1zM49 27h1v1h-1z"/><path fill="#2d708e" d="M18 20h1v1h-1zM20 20h1v1h-1zM22 20h3v1h-3zM26 20h1v1h-1zM31 20h2v1h-2zM34 20h4v1h-4zM39 20h2v1h-2zM42 20h1v1h-1zM44 20h1v1h-1zM48 20h2v1h-2zM10 25h2v1h-2zM14 25h1v1h-1zM20 25h1v1h-1zM25 25h1v1h-1zM26 26h1v1h-1zM38 26h1v1h-1zM41 26h1v1h-1zM43 26h1v1h-1zM48 26h1v1h-1zM31 27h1v1h-1z"/><path fill="#2c738e" d="M27 20h1v1h-1zM30 20h1v1h-1zM38 20h1v1h-1zM43 20h1v1h-1zM45 20h3v1h-3zM9 25h1v1h-1zM12 25h2v1h-2zM15 25h3v1h-3zM19 25h1v1h-1zM21 25h4v1h-4zM29 25h1v1h-1zM44 26h4v1h-4zM49 26h1v1h-1z"/><path fill="#297b8e" d="M0 21h1v1h-1zM2 21h1v1h-1zM4 21h1v1h-1zM8 21h1v1h-1zM11 21h3v1h-3zM15 21h1v1h-1zM18 21h2v1h-2zM21 21h3v1h-3zM26 21h1v1h-1zM28 21h2v1h-2zM32 21h2v1h-2zM35 21h1v1h-1zM38 21h3v1h-3zM44 21h3v1h-3zM27 25h1v1h-1zM30 25h2v1h-2zM36 25h3v1h-3zM40 25h2v1h-2zM43 25h3v1h-3z"/><path fill="#277f8e" d="M1 21h1v1h-1zM3 21h1v1h-1zM5 21h3v1h-3zM9 21h1v1h-1zM14 21h1v1h-1zM17 21h1v1h-1zM20 21h1v1h-1zM24 21h2v1h-2zM27 21h1v1h-1zM30 21h2v1h-2zM34 21h1v1h-1zM36 21h2v1h-2zM47 21h3v1h-3zM25 24h1v1h-1zM30 24h1v1h-1zM33 24h1v1h-1zM37 24h1v1h-1zM49 24h1v1h-1zM49 25h1v1h-1z"/><path fill="#2a778e" d="M10 21h1v1h-1zM41 21h1v1h-1zM26 25h1v1h-1zM28 25h1v1h-1zM32 25h4v1h-4zM39 25h1v1h-1zM42 25h1v1h-1zM46 25h3v1h-3zM33 26h1v1h-1z"/><path fill="#26828e" d="M16 21h1v1h-1zM42 21h2v1h-2zM0 24h10v1h-10zM11 24h5v1h-5zM18 24h2v1h-2zM22 24h2v1h-2zM27 24h1v1h-1zM29 24h1v1h-1zM32 24h1v1h-1zM34 24h3v1h-3zM38 24h3v1h-3zM43 24h2v1h-2zM47 24h2v1h-2z"/><path fill="#eae51a" d="M0 22h50v1h-50z"/><path fill="#21a585" d="M0 23h9v1h-9zM10 23h1v1h-1zM13 23h2v1h-2zM16 23h1v1h-1zM19 23h1v1h-1zM21 23h1v1h-1zM23 23h1v1h-1zM25 23h1v1h-1zM27 23h1v1h-1zM29 23h2v1h-2zM32 23h1v1h-1zM34 23h1v1h-1zM36 23h1v1h-1zM38 23h1v1h-1zM41 23h3v1h-3zM45 23h1v1h-1zM47 23h3v1h-3z"/><path fill="#1fa187" d="M9 23h1v1h-1zM12 23h1v1h-1zM15 23h1v1h-1zM17 23h2v1h-2zM20 23h1v1h-1zM22 23h1v1h-1zM24 23h1v1h-1zM26 23h1v1h-1zM28 23h1v1h-1zM31 23h1v1h-1zM33 23h1v1h-1zM35 23h1v1h-1zM37 23h1v1h-1zM39 23h2v1h-2zM44 23h1v1h-1zM46 23h1v1h-1z"/><path fill="#1f9e89" d="M11 23h1v1h-1z"/><path fill="#24868e" d="M10 24h1v1h-1zM16 24h2v1h-2zM20 24h2v1h-2zM24 24h1v1h-1zM26 24h1v1h-1zM28 24h1v1h-1zM31 24h1v1h-1zM41 24h2v1h-2zM45 24h2v1h-2z"/>
</g>
<path d="M31.11 210.3V364.3M34.12 210.3V364.3M37.14 210.3V364.3M40.15 210.3V364.3M43.16 210.3V364.3M46.17 210.3V364.3M49.18 210.3V364.3M52.2 210.3V364.3M55.21 210.3V364.3M58.22 210.3V364.3M61.23 210.3V364.3M64.24 210.3V364.3M67.26 210.3V364.3M70.27 210.3V364.3M73.28 210.3V364.3M76.29 210.3V364.3M79.3 210.3V364.3M82.32 210.3V364.3M85.33 210.3V364.3M88.34 210.3V364.3M91.35 210.3V364.3M94.36 210.3V364.3M97.38 210.3V364.3M100.39 210.3V364.3M103.4 210.3V364.3M106.41 210.3V364.3M109.42 210.3V364.3M112.44 210.3V364.3M115.45 210.3V364.3M118.46 210.3V364.3M121.47 210.3V364.3M124.48 210.3V364.3M127.5 210.3V364.3M130.51 210.3V364.3M133.52 210.3V364.3M136.53 210.3V364.3M139.54 210.3V364.3M142.56 210.3V364.3M145.57 210.3V364.3M148.58 210.3V364.3M151.59 210.3V364.3M154.6 210.3V364.3M157.62 210.3V364.3M160.63 210.3V364.3M163.64 210.3V364.3M166.65 210.3V364.3M169.66 210.3V364.3M172.68 210.3V364.3M175.69 210.3V364.3M28.1 361.2H178.7M28.1 358.2H178.7M28.1 355.2H178.7M28.1 352.2H178.7M28.1 349.2H178.7M28.1 346.2H178.7M28.1 343.2H178.7M28.1 340.2H178.7M28.1 337.2H178.7M28.1 334.2H178.7M28.1 331.2H178.7M28.1 328.2H178.7M28.1 325.2H178.7M28.1 322.2H178.7M28.1 319.2H178.7M28.1 316.2H178.7M28.1 313.2H178.7M28.1 310.2H178.7M28.1 307.2H178.7M28.1 304.2H178.7M28.1 301.2H178.7M28.1 298.2H178.7M28.1 295.2H178.7M28.1 292.2H178.7M28.1 289.2H178.7M28.1 286.2H178.7M28.1 283.2H178.7M28.1 280.2H178.7M28.1 277.2H178.7M28.1 274.2H178.7M28.1 271.2H178.7M28.1 268.2H178.7M28.1 265.2H178.7M28.1 262.2H178.7M28.1 259.2H178.7M28.1 256.2H178.7M28.1 253.2H178.7M28.1 250.2H178.7M28.1 247.2H178.7M28.1 244.2H178.7M28.1 241.2H178.7M28.1 238.2H178.7M28.1 235.2H178.7M28.1 232.2H178.7M28.1 229.2H178.7M28.1 226.2H178.7M28.1 223.2H178.7M28.1 220.2H178.7M28.1 217.2H178.7M28.1 214.2H178.7M28.1 211.2H178.7" stroke="#fff" stroke-opacity="0.16" stroke-width="0.4" fill="none"/>
</g>
<rect x="189.8" y="210.3" width="8.5" height="154" fill="url(#vir)"/>
<line x1="198.3" x2="199.8" y1="220.6" y2="220.6" stroke="#333" stroke-width="0.6"/>
<text transform="translate(200.3 222.6) scale(1.1 1)" font-size="6.5" text-anchor="start">10<tspan font-size="4.68" dx="0.4" dy="-2.0">−2</tspan></text>
<line x1="198.3" x2="199.8" y1="258" y2="258" stroke="#333" stroke-width="0.6"/>
<text transform="translate(200.3 260) scale(1.1 1)" font-size="6.5" text-anchor="start">10<tspan font-size="4.68" dx="0.4" dy="-2.0">−3</tspan></text>
<line x1="198.3" x2="199.8" y1="293.8" y2="293.8" stroke="#333" stroke-width="0.6"/>
<text transform="translate(200.3 295.8) scale(1.1 1)" font-size="6.5" text-anchor="start">10<tspan font-size="4.68" dx="0.4" dy="-2.0">−4</tspan></text>
<line x1="198.3" x2="199.8" y1="330.3" y2="330.3" stroke="#333" stroke-width="0.6"/>
<text transform="translate(200.3 332.3) scale(1.1 1)" font-size="6.5" text-anchor="start">10<tspan font-size="4.68" dx="0.4" dy="-2.0">−5</tspan></text>
<line x1="198.3" x2="199.2" y1="246.74" y2="246.74" stroke="#555" stroke-width="0.45"/>
<line x1="198.3" x2="199.2" y1="240.16" y2="240.16" stroke="#555" stroke-width="0.45"/>
<line x1="198.3" x2="199.2" y1="235.48" y2="235.48" stroke="#555" stroke-width="0.45"/>
<line x1="198.3" x2="199.2" y1="231.86" y2="231.86" stroke="#555" stroke-width="0.45"/>
<line x1="198.3" x2="199.2" y1="228.9" y2="228.9" stroke="#555" stroke-width="0.45"/>
<line x1="198.3" x2="199.2" y1="226.39" y2="226.39" stroke="#555" stroke-width="0.45"/>
<line x1="198.3" x2="199.2" y1="224.22" y2="224.22" stroke="#555" stroke-width="0.45"/>
<line x1="198.3" x2="199.2" y1="222.31" y2="222.31" stroke="#555" stroke-width="0.45"/>
<line x1="198.3" x2="199.2" y1="284.14" y2="284.14" stroke="#555" stroke-width="0.45"/>
<line x1="198.3" x2="199.2" y1="277.56" y2="277.56" stroke="#555" stroke-width="0.45"/>
<line x1="198.3" x2="199.2" y1="272.88" y2="272.88" stroke="#555" stroke-width="0.45"/>
<line x1="198.3" x2="199.2" y1="269.26" y2="269.26" stroke="#555" stroke-width="0.45"/>
<line x1="198.3" x2="199.2" y1="266.3" y2="266.3" stroke="#555" stroke-width="0.45"/>
<line x1="198.3" x2="199.2" y1="263.79" y2="263.79" stroke="#555" stroke-width="0.45"/>
<line x1="198.3" x2="199.2" y1="261.62" y2="261.62" stroke="#555" stroke-width="0.45"/>
<line x1="198.3" x2="199.2" y1="259.71" y2="259.71" stroke="#555" stroke-width="0.45"/>
<line x1="198.3" x2="199.2" y1="321.54" y2="321.54" stroke="#555" stroke-width="0.45"/>
<line x1="198.3" x2="199.2" y1="314.96" y2="314.96" stroke="#555" stroke-width="0.45"/>
<line x1="198.3" x2="199.2" y1="310.28" y2="310.28" stroke="#555" stroke-width="0.45"/>
<line x1="198.3" x2="199.2" y1="306.66" y2="306.66" stroke="#555" stroke-width="0.45"/>
<line x1="198.3" x2="199.2" y1="303.7" y2="303.7" stroke="#555" stroke-width="0.45"/>
<line x1="198.3" x2="199.2" y1="301.19" y2="301.19" stroke="#555" stroke-width="0.45"/>
<line x1="198.3" x2="199.2" y1="299.02" y2="299.02" stroke="#555" stroke-width="0.45"/>
<line x1="198.3" x2="199.2" y1="297.11" y2="297.11" stroke="#555" stroke-width="0.45"/>
<line x1="198.3" x2="199.2" y1="358.94" y2="358.94" stroke="#555" stroke-width="0.45"/>
<line x1="198.3" x2="199.2" y1="352.36" y2="352.36" stroke="#555" stroke-width="0.45"/>
<line x1="198.3" x2="199.2" y1="347.68" y2="347.68" stroke="#555" stroke-width="0.45"/>
<line x1="198.3" x2="199.2" y1="344.06" y2="344.06" stroke="#555" stroke-width="0.45"/>
<line x1="198.3" x2="199.2" y1="341.1" y2="341.1" stroke="#555" stroke-width="0.45"/>
<line x1="198.3" x2="199.2" y1="338.59" y2="338.59" stroke="#555" stroke-width="0.45"/>
<line x1="198.3" x2="199.2" y1="336.42" y2="336.42" stroke="#555" stroke-width="0.45"/>
<line x1="198.3" x2="199.2" y1="334.51" y2="334.51" stroke="#555" stroke-width="0.45"/>
<text transform="translate(218.7 287) rotate(-90)" font-size="8.6" text-anchor="middle" dominant-baseline="central">Density</text>
<text transform="translate(3.6 287) rotate(-90)" font-size="8.6" text-anchor="middle" dominant-baseline="central">V[23]</text>
<text transform="translate(104.1 385.9)" font-size="8.6" text-anchor="middle" dominant-baseline="central">True Energy [GeV]</text>
<text transform="translate(29.2 371.47) rotate(-45) scale(1.1 1)" font-size="6.5" text-anchor="middle" dominant-baseline="central">50</text>
<text transform="translate(59.42 374.28) rotate(-45) scale(1.1 1)" font-size="6.5" text-anchor="middle" dominant-baseline="central">1640</text>
<text transform="translate(89.64 374.28) rotate(-45) scale(1.1 1)" font-size="6.5" text-anchor="middle" dominant-baseline="central">3230</text>
<text transform="translate(119.86 374.28) rotate(-45) scale(1.1 1)" font-size="6.5" text-anchor="middle" dominant-baseline="central">4820</text>
<text transform="translate(150.08 374.28) rotate(-45) scale(1.1 1)" font-size="6.5" text-anchor="middle" dominant-baseline="central">6410</text>
<text transform="translate(180.3 374.28) rotate(-45) scale(1.1 1)" font-size="6.5" text-anchor="middle" dominant-baseline="central">8000</text>
<text transform="translate(25.5 210.3) scale(1.1 1)" font-size="6.5" text-anchor="end" dominant-baseline="central">4215</text>
<text transform="translate(25.5 257) scale(1.1 1)" font-size="6.5" text-anchor="end" dominant-baseline="central">1973</text>
<text transform="translate(25.4 303.2) scale(1.1 1)" font-size="6.5" text-anchor="end" dominant-baseline="central">-268</text>
<text transform="translate(25.5 350) scale(1.1 1)" font-size="6.5" text-anchor="end" dominant-baseline="central">-2510</text>
<clipPath id="c4"><rect x="261" y="211" width="149.6" height="152.7"/></clipPath>
<g clip-path="url(#c4)"><g shape-rendering="crispEdges" transform="translate(261 363.7) scale(2.9920 -2.9500)">
<path fill="#eae51a" d="M0 0h1v1h-1z"/><path fill="#a0da39" d="M1 0h1v1h-1z"/><path fill="#23a983" d="M2 0h1v1h-1zM8 1h1v1h-1zM2 15h1v1h-1zM9 15h1v1h-1zM44 15h1v1h-1zM3 16h3v1h-3zM8 16h7v1h-7zM16 16h4v1h-4zM22 16h6v1h-6zM29 16h4v1h-4zM34 16h5v1h-5zM41 16h1v1h-1zM43 16h7v1h-7zM4 17h1v1h-1zM6 17h1v1h-1zM9 17h1v1h-1zM13 17h1v1h-1zM19 17h1v1h-1zM22 17h1v1h-1zM28 17h4v1h-4zM33 17h1v1h-1zM35 17h1v1h-1zM37 17h1v1h-1zM40 17h1v1h-1zM42 17h1v1h-1zM44 17h1v1h-1zM49 17h1v1h-1z"/><path fill="#2c738e" d="M3 0h1v1h-1zM9 0h2v1h-2zM15 0h2v1h-2zM18 0h1v1h-1zM22 0h1v1h-1zM30 0h1v1h-1zM37 0h1v1h-1zM39 0h3v1h-3zM47 0h1v1h-1zM2 32h1v1h-1zM2 33h1v1h-1zM2 34h1v1h-1zM9 35h1v1h-1zM41 35h1v1h-1zM45 35h1v1h-1zM13 36h1v1h-1zM24 36h1v1h-1zM33 36h1v1h-1zM36 36h1v1h-1zM43 36h1v1h-1zM9 37h2v1h-2zM14 37h3v1h-3zM18 37h1v1h-1zM26 37h2v1h-2zM31 37h1v1h-1zM33 37h4v1h-4zM39 37h1v1h-1zM44 37h2v1h-2zM11 38h2v1h-2zM14 38h1v1h-1zM17 38h1v1h-1zM20 38h1v1h-1zM22 38h1v1h-1zM26 38h2v1h-2zM29 38h1v1h-1zM31 38h2v1h-2zM35 38h1v1h-1zM44 38h1v1h-1zM46 38h1v1h-1zM49 38h1v1h-1zM5 39h1v1h-1zM7 39h2v1h-2zM10 39h1v1h-1zM12 39h3v1h-3zM17 39h1v1h-1zM19 39h1v1h-1zM21 39h3v1h-3zM26 39h2v1h-2zM30 39h2v1h-2zM34 39h3v1h-3zM38 39h1v1h-1zM41 39h1v1h-1zM43 39h2v1h-2zM46 39h1v1h-1zM5 40h1v1h-1zM7 40h3v1h-3zM11 40h1v1h-1zM13 40h2v1h-2zM19 40h1v1h-1zM26 40h3v1h-3zM30 40h1v1h-1zM33 40h3v1h-3zM39 40h1v1h-1zM41 40h1v1h-1zM46 40h4v1h-4zM8 41h4v1h-4zM17 41h1v1h-1zM19 41h1v1h-1zM28 41h1v1h-1zM36 41h2v1h-2zM48 41h1v1h-1zM9 42h1v1h-1zM22 42h1v1h-1zM26 42h1v1h-1zM28 42h1v1h-1zM30 42h1v1h-1zM32 42h1v1h-1zM37 42h1v1h-1zM40 42h1v1h-1zM43 42h1v1h-1zM8 43h1v1h-1zM18 43h1v1h-1z"/><path fill="#297b8e" d="M4 0h2v1h-2zM13 0h2v1h-2zM26 0h1v1h-1zM2 28h1v1h-1zM45 31h1v1h-1zM47 31h1v1h-1zM8 32h1v1h-1zM12 32h1v1h-1zM22 32h1v1h-1zM24 32h1v1h-1zM28 32h1v1h-1zM30 32h1v1h-1zM34 32h1v1h-1zM37 32h1v1h-1zM40 32h1v1h-1zM44 32h1v1h-1zM46 32h1v1h-1zM10 33h1v1h-1zM12 33h1v1h-1zM19 33h2v1h-2zM22 33h1v1h-1zM25 33h2v1h-2zM29 33h2v1h-2zM41 33h1v1h-1zM47 33h1v1h-1zM5 34h1v1h-1zM9 34h1v1h-1zM11 34h2v1h-2zM15 34h1v1h-1zM18 34h5v1h-5zM25 34h1v1h-1zM27 34h4v1h-4zM32 34h2v1h-2zM36 34h1v1h-1zM38 34h1v1h-1zM41 34h1v1h-1zM48 34h1v1h-1zM3 35h1v1h-1zM8 35h1v1h-1zM11 35h2v1h-2zM16 35h3v1h-3zM20 35h2v1h-2zM25 35h4v1h-4zM30 35h2v1h-2zM33 35h1v1h-1zM36 35h2v1h-2zM42 35h3v1h-3zM5 36h1v1h-1zM7 36h1v1h-1zM9 36h4v1h-4zM14 36h1v1h-1zM16 36h1v1h-1zM19 36h2v1h-2zM25 36h1v1h-1zM29 36h2v1h-2zM32 36h1v1h-1zM34 36h2v1h-2zM37 36h2v1h-2zM40 36h2v1h-2zM44 36h2v1h-2zM49 36h1v1h-1zM5 37h3v1h-3zM12 37h2v1h-2zM20 37h1v1h-1zM25 37h1v1h-1zM28 37h1v1h-1zM32 37h1v1h-1zM3 38h1v1h-1zM16 38h1v1h-1zM18 38h1v1h-1zM38 38h1v1h-1zM40 38h3v1h-3zM3 39h1v1h-1zM37 39h1v1h-1zM37 40h1v1h-1z"/><path fill="#2a778e" d="M6 0h2v1h-2zM12 0h1v1h-1zM19 0h3v1h-3zM24 0h2v1h-2zM28 0h1v1h-1zM32 0h2v1h-2zM0 3h1v1h-1zM2 29h1v1h-1zM2 31h1v1h-1zM8 33h1v1h-1zM13 33h1v1h-1zM45 33h2v1h-2zM8 34h1v1h-1zM16 34h2v1h-2zM40 34h1v1h-1zM42 34h3v1h-3zM4 35h1v1h-1zM6 35h2v1h-2zM14 35h2v1h-2zM23 35h1v1h-1zM29 35h1v1h-1zM32 35h1v1h-1zM34 35h2v1h-2zM38 35h2v1h-2zM46 35h2v1h-2zM4 36h1v1h-1zM6 36h1v1h-1zM8 36h1v1h-1zM15 36h1v1h-1zM17 36h1v1h-1zM21 36h2v1h-2zM26 36h2v1h-2zM31 36h1v1h-1zM39 36h1v1h-1zM42 36h1v1h-1zM46 36h1v1h-1zM48 36h1v1h-1zM3 37h2v1h-2zM8 37h1v1h-1zM11 37h1v1h-1zM17 37h1v1h-1zM22 37h3v1h-3zM29 37h1v1h-1zM37 37h2v1h-2zM40 37h4v1h-4zM46 37h2v1h-2zM49 37h1v1h-1zM4 38h1v1h-1zM6 38h1v1h-1zM8 38h3v1h-3zM13 38h1v1h-1zM19 38h1v1h-1zM21 38h1v1h-1zM24 38h1v1h-1zM28 38h1v1h-1zM30 38h1v1h-1zM33 38h1v1h-1zM37 38h1v1h-1zM39 38h1v1h-1zM43 38h1v1h-1zM45 38h1v1h-1zM29 39h1v1h-1zM32 39h2v1h-2zM49 39h1v1h-1zM16 41h1v1h-1zM21 42h1v1h-1z"/><path fill="#365c8d" d="M8 0h1v1h-1zM0 5h1v1h-1zM1 20h1v1h-1zM1 21h1v1h-1zM2 41h1v1h-1zM2 42h1v1h-1zM8 48h1v1h-1zM15 48h1v1h-1zM33 48h2v1h-2zM44 48h1v1h-1zM18 49h1v1h-1zM21 49h1v1h-1zM29 49h1v1h-1zM47 49h1v1h-1zM4 50h1v1h-1zM8 50h1v1h-1zM11 50h1v1h-1zM25 50h1v1h-1zM32 50h1v1h-1zM44 50h1v1h-1zM48 50h1v1h-1z"/><path fill="#2d708e" d="M11 0h1v1h-1zM17 0h1v1h-1zM23 0h1v1h-1zM27 0h1v1h-1zM34 0h2v1h-2zM38 0h1v1h-1zM42 0h1v1h-1zM45 0h2v1h-2zM49 0h1v1h-1zM1 16h1v1h-1zM2 30h1v1h-1zM2 35h1v1h-1zM18 36h1v1h-1zM2 37h1v1h-1zM19 37h1v1h-1zM21 37h1v1h-1zM30 37h1v1h-1zM48 37h1v1h-1zM5 38h1v1h-1zM7 38h1v1h-1zM15 38h1v1h-1zM23 38h1v1h-1zM25 38h1v1h-1zM34 38h1v1h-1zM36 38h1v1h-1zM47 38h2v1h-2zM4 39h1v1h-1zM6 39h1v1h-1zM15 39h2v1h-2zM18 39h1v1h-1zM20 39h1v1h-1zM24 39h2v1h-2zM39 39h2v1h-2zM42 39h1v1h-1zM47 39h2v1h-2zM3 40h2v1h-2zM10 40h1v1h-1zM12 40h1v1h-1zM15 40h4v1h-4zM20 40h3v1h-3zM25 40h1v1h-1zM29 40h1v1h-1zM36 40h1v1h-1zM40 40h1v1h-1zM42 40h3v1h-3zM3 41h1v1h-1zM6 41h2v1h-2zM12 41h1v1h-1zM18 41h1v1h-1zM20 41h3v1h-3zM26 41h1v1h-1zM31 41h1v1h-1zM33 41h2v1h-2zM40 41h1v1h-1zM42 41h3v1h-3zM47 41h1v1h-1zM49 41h1v1h-1zM5 42h3v1h-3zM10 42h5v1h-5zM19 42h1v1h-1zM27 42h1v1h-1zM29 42h1v1h-1zM31 42h1v1h-1zM39 42h1v1h-1zM46 42h2v1h-2zM4 43h1v1h-1zM6 43h2v1h-2zM9 43h1v1h-1zM12 43h1v1h-1zM17 43h1v1h-1zM25 43h1v1h-1zM28 43h1v1h-1zM33 43h1v1h-1zM36 43h1v1h-1zM38 43h3v1h-3zM43 43h1v1h-1zM48 43h1v1h-1zM6 44h5v1h-5zM27 44h1v1h-1zM36 44h2v1h-2zM42 44h1v1h-1zM4 45h1v1h-1zM7 45h1v1h-1zM13 45h1v1h-1zM24 45h1v1h-1zM35 45h1v1h-1zM37 45h2v1h-2zM5 46h1v1h-1zM23 46h1v1h-1zM29 46h1v1h-1zM47 46h1v1h-1zM7 47h1v1h-1zM32 47h1v1h-1zM42 47h1v1h-1zM6 49h1v1h-1z"/><path fill="#2f6c8e" d="M29 0h1v1h-1zM36 0h1v1h-1zM44 0h1v1h-1zM48 0h1v1h-1zM1 13h1v1h-1zM1 14h1v1h-1zM1 15h1v1h-1zM2 38h1v1h-1zM9 39h1v1h-1zM11 39h1v1h-1zM28 39h1v1h-1zM6 40h1v1h-1zM23 40h2v1h-2zM31 40h2v1h-2zM38 40h1v1h-1zM45 40h1v1h-1zM4 41h1v1h-1zM13 41h3v1h-3zM23 41h3v1h-3zM29 41h2v1h-2zM32 41h1v1h-1zM35 41h1v1h-1zM38 41h2v1h-2zM41 41h1v1h-1zM46 41h1v1h-1zM4 42h1v1h-1zM8 42h1v1h-1zM15 42h2v1h-2zM18 42h1v1h-1zM20 42h1v1h-1zM23 42h3v1h-3zM34 42h1v1h-1zM36 42h1v1h-1zM38 42h1v1h-1zM44 42h2v1h-2zM48 42h2v1h-2zM5 43h1v1h-1zM10 43h1v1h-1zM13 43h4v1h-4zM19 43h6v1h-6zM27 43h1v1h-1zM29 43h1v1h-1zM32 43h1v1h-1zM34 43h2v1h-2zM37 43h1v1h-1zM41 43h1v1h-1zM45 43h2v1h-2zM49 43h1v1h-1zM3 44h2v1h-2zM12 44h2v1h-2zM17 44h1v1h-1zM19 44h1v1h-1zM26 44h1v1h-1zM30 44h2v1h-2zM35 44h1v1h-1zM39 44h3v1h-3zM44 44h2v1h-2zM48 44h2v1h-2zM5 45h1v1h-1zM15 45h1v1h-1zM17 45h1v1h-1zM21 45h3v1h-3zM26 45h1v1h-1zM29 45h1v1h-1zM31 45h1v1h-1zM33 45h2v1h-2zM40 45h2v1h-2zM43 45h1v1h-1zM45 45h1v1h-1zM4 46h1v1h-1zM12 46h1v1h-1zM14 46h1v1h-1zM18 46h1v1h-1zM21 46h1v1h-1zM28 46h1v1h-1zM30 46h1v1h-1zM32 46h2v1h-2zM36 46h1v1h-1zM40 46h1v1h-1zM46 46h1v1h-1zM4 47h1v1h-1zM11 47h1v1h-1zM17 47h1v1h-1zM28 47h1v1h-1zM31 47h1v1h-1zM33 47h1v1h-1zM35 47h2v1h-2zM46 47h1v1h-1zM14 48h1v1h-1zM36 48h1v1h-1zM40 48h1v1h-1zM49 48h1v1h-1zM9 49h1v1h-1zM20 49h1v1h-1zM26 49h1v1h-1zM28 49h1v1h-1zM30 49h3v1h-3zM3 50h1v1h-1zM22 50h1v1h-1z"/><path fill="#32648e" d="M31 0h1v1h-1zM1 18h1v1h-1zM27 41h1v1h-1zM30 43h1v1h-1zM5 44h1v1h-1zM11 44h1v1h-1zM16 44h1v1h-1zM22 44h2v1h-2zM38 44h1v1h-1zM47 44h1v1h-1zM3 45h1v1h-1zM6 45h1v1h-1zM12 45h1v1h-1zM25 45h1v1h-1zM32 45h1v1h-1zM2 46h1v1h-1zM11 46h1v1h-1zM17 46h1v1h-1zM34 46h1v1h-1zM37 46h3v1h-3zM41 46h1v1h-1zM6 47h1v1h-1zM8 47h2v1h-2zM13 47h2v1h-2zM20 47h1v1h-1zM22 47h1v1h-1zM24 47h1v1h-1zM34 47h1v1h-1zM37 47h1v1h-1zM39 47h2v1h-2zM44 47h2v1h-2zM3 48h1v1h-1zM7 48h1v1h-1zM10 48h1v1h-1zM20 48h1v1h-1zM22 48h2v1h-2zM25 48h2v1h-2zM29 48h2v1h-2zM32 48h1v1h-1zM35 48h1v1h-1zM39 48h1v1h-1zM41 48h1v1h-1zM45 48h1v1h-1zM4 49h2v1h-2zM7 49h2v1h-2zM11 49h2v1h-2zM14 49h1v1h-1zM17 49h1v1h-1zM19 49h1v1h-1zM23 49h1v1h-1zM25 49h1v1h-1zM35 49h3v1h-3zM41 49h5v1h-5zM6 50h2v1h-2zM9 50h1v1h-1zM14 50h3v1h-3zM19 50h2v1h-2zM43 50h1v1h-1zM47 50h1v1h-1zM49 50h1v1h-1z"/><path fill="#31688e" d="M43 0h1v1h-1zM1 17h1v1h-1zM2 39h1v1h-1zM45 39h1v1h-1zM5 41h1v1h-1zM45 41h1v1h-1zM3 42h1v1h-1zM17 42h1v1h-1zM33 42h1v1h-1zM35 42h1v1h-1zM41 42h2v1h-2zM3 43h1v1h-1zM11 43h1v1h-1zM26 43h1v1h-1zM31 43h1v1h-1zM42 43h1v1h-1zM44 43h1v1h-1zM47 43h1v1h-1zM14 44h2v1h-2zM18 44h1v1h-1zM20 44h2v1h-2zM24 44h2v1h-2zM28 44h2v1h-2zM32 44h3v1h-3zM43 44h1v1h-1zM46 44h1v1h-1zM8 45h4v1h-4zM14 45h1v1h-1zM16 45h1v1h-1zM18 45h3v1h-3zM27 45h2v1h-2zM30 45h1v1h-1zM36 45h1v1h-1zM39 45h1v1h-1zM42 45h1v1h-1zM44 45h1v1h-1zM46 45h4v1h-4zM3 46h1v1h-1zM6 46h5v1h-5zM13 46h1v1h-1zM15 46h2v1h-2zM19 46h2v1h-2zM22 46h1v1h-1zM24 46h1v1h-1zM27 46h1v1h-1zM31 46h1v1h-1zM35 46h1v1h-1zM42 46h4v1h-4zM48 46h2v1h-2zM3 47h1v1h-1zM5 47h1v1h-1zM10 47h1v1h-1zM12 47h1v1h-1zM15 47h2v1h-2zM19 47h1v1h-1zM23 47h1v1h-1zM26 47h1v1h-1zM30 47h1v1h-1zM38 47h1v1h-1zM43 47h1v1h-1zM47 47h1v1h-1zM49 47h1v1h-1zM9 48h1v1h-1zM13 48h1v1h-1zM21 48h1v1h-1zM24 48h1v1h-1zM27 48h2v1h-2zM38 48h1v1h-1zM43 48h1v1h-1zM46 48h1v1h-1zM3 49h1v1h-1zM13 49h1v1h-1zM15 49h2v1h-2zM27 49h1v1h-1zM39 49h2v1h-2zM48 49h2v1h-2zM5 50h1v1h-1zM13 50h1v1h-1zM28 50h1v1h-1zM39 50h1v1h-1z"/><path fill="#4ac16d" d="M0 1h1v1h-1zM29 3h1v1h-1zM32 3h1v1h-1zM34 3h16v1h-16zM45 4h1v1h-1zM49 4h1v1h-1zM2 7h1v1h-1zM6 7h1v1h-1zM19 7h1v1h-1zM2 8h2v1h-2zM5 8h4v1h-4zM10 8h1v1h-1zM12 8h7v1h-7zM20 8h2v1h-2zM24 8h3v1h-3zM28 8h10v1h-10zM39 8h4v1h-4zM45 8h1v1h-1zM48 8h2v1h-2zM4 9h2v1h-2zM14 9h1v1h-1zM17 9h3v1h-3zM21 9h2v1h-2zM24 9h1v1h-1zM28 9h2v1h-2zM34 9h1v1h-1zM38 9h1v1h-1zM41 9h1v1h-1zM45 9h2v1h-2zM48 9h2v1h-2z"/><path fill="#d5e21a" d="M1 1h1v1h-1z"/><path fill="#95d840" d="M2 1h2v1h-2z"/><path fill="#81d34d" d="M4 1h1v1h-1z"/><path fill="#5ac864" d="M5 1h1v1h-1zM5 2h1v1h-1zM7 3h2v1h-2zM9 4h16v1h-16zM26 4h2v1h-2zM29 4h1v1h-1zM2 5h47v1h-47zM9 6h1v1h-1zM28 6h1v1h-1zM30 6h2v1h-2zM39 6h1v1h-1zM45 6h1v1h-1zM47 6h1v1h-1zM2 51h15v1h-15zM18 51h8v1h-8zM27 51h2v1h-2zM30 51h1v1h-1zM32 51h2v1h-2zM35 51h1v1h-1zM37 51h10v1h-10zM48 51h2v1h-2z"/><path fill="#3bbb75" d="M6 1h1v1h-1zM2 9h1v1h-1zM2 10h1v1h-1zM4 10h4v1h-4zM9 10h1v1h-1zM13 10h3v1h-3zM21 10h1v1h-1zM26 10h2v1h-2zM29 10h1v1h-1zM31 10h1v1h-1zM36 10h2v1h-2zM41 10h1v1h-1zM43 10h3v1h-3zM47 10h3v1h-3zM3 11h1v1h-1zM5 11h1v1h-1zM7 11h3v1h-3zM11 11h4v1h-4zM16 11h3v1h-3zM20 11h9v1h-9zM30 11h6v1h-6zM38 11h3v1h-3zM43 11h3v1h-3zM47 11h1v1h-1zM49 11h1v1h-1z"/><path fill="#2ab07f" d="M7 1h1v1h-1zM19 2h1v1h-1zM31 2h1v1h-1zM40 2h1v1h-1zM1 3h1v1h-1zM2 12h1v1h-1zM2 13h1v1h-1zM19 13h1v1h-1zM23 13h1v1h-1zM27 13h1v1h-1zM33 13h1v1h-1zM39 13h1v1h-1zM3 14h9v1h-9zM13 14h8v1h-8zM22 14h2v1h-2zM25 14h13v1h-13zM40 14h7v1h-7zM48 14h2v1h-2zM11 15h1v1h-1zM23 15h1v1h-1zM45 15h1v1h-1z"/><path fill="#1fa187" d="M9 1h2v1h-2zM2 17h1v1h-1zM41 17h1v1h-1zM48 17h1v1h-1zM3 18h5v1h-5zM9 18h4v1h-4zM17 18h4v1h-4zM23 18h4v1h-4zM28 18h3v1h-3zM32 18h1v1h-1zM34 18h1v1h-1zM38 18h3v1h-3zM43 18h1v1h-1zM45 18h1v1h-1zM48 18h2v1h-2zM5 19h5v1h-5zM11 19h1v1h-1zM13 19h3v1h-3zM18 19h3v1h-3zM22 19h1v1h-1zM24 19h3v1h-3zM28 19h1v1h-1zM31 19h1v1h-1zM33 19h4v1h-4zM38 19h3v1h-3zM42 19h5v1h-5zM48 19h2v1h-2zM6 20h1v1h-1zM26 20h1v1h-1z"/><path fill="#1f9e89" d="M11 1h1v1h-1zM14 1h4v1h-4zM19 1h5v1h-5zM25 1h1v1h-1zM27 1h2v1h-2zM30 1h7v1h-7zM39 1h5v1h-5zM45 1h2v1h-2zM1 4h1v1h-1zM2 18h1v1h-1zM47 18h1v1h-1zM3 19h2v1h-2zM10 19h1v1h-1zM12 19h1v1h-1zM16 19h2v1h-2zM21 19h1v1h-1zM23 19h1v1h-1zM27 19h1v1h-1zM29 19h2v1h-2zM32 19h1v1h-1zM37 19h1v1h-1zM41 19h1v1h-1zM47 19h1v1h-1zM3 20h2v1h-2zM9 20h3v1h-3zM13 20h1v1h-1zM15 20h9v1h-9zM25 20h1v1h-1zM27 20h8v1h-8zM36 20h1v1h-1zM38 20h1v1h-1zM41 20h3v1h-3zM45 20h2v1h-2zM8 21h2v1h-2zM14 21h1v1h-1zM19 21h1v1h-1zM26 21h1v1h-1zM29 21h1v1h-1z"/><path fill="#1f9a8a" d="M12 1h2v1h-2zM18 1h1v1h-1zM24 1h1v1h-1zM26 1h1v1h-1zM29 1h1v1h-1zM37 1h2v1h-2zM44 1h1v1h-1zM47 1h3v1h-3zM2 19h1v1h-1zM5 20h1v1h-1zM7 20h2v1h-2zM12 20h1v1h-1zM14 20h1v1h-1zM24 20h1v1h-1zM35 20h1v1h-1zM37 20h1v1h-1zM39 20h2v1h-2zM44 20h1v1h-1zM47 20h3v1h-3zM4 21h1v1h-1zM6 21h2v1h-2zM10 21h2v1h-2zM17 21h1v1h-1zM20 21h3v1h-3zM24 21h2v1h-2zM27 21h2v1h-2zM30 21h2v1h-2zM33 21h2v1h-2zM37 21h2v1h-2zM40 21h1v1h-1zM44 21h3v1h-3zM48 21h1v1h-1zM3 22h1v1h-1zM7 22h1v1h-1zM9 22h2v1h-2zM19 22h1v1h-1zM24 22h1v1h-1zM33 22h1v1h-1zM35 22h1v1h-1zM39 22h2v1h-2zM46 22h1v1h-1zM48 22h2v1h-2zM35 23h1v1h-1zM48 23h1v1h-1z"/><path fill="#20928c" d="M0 2h1v1h-1zM2 20h1v1h-1zM6 22h1v1h-1zM18 22h1v1h-1zM26 22h1v1h-1zM4 23h2v1h-2zM7 23h5v1h-5zM13 23h3v1h-3zM17 23h2v1h-2zM20 23h1v1h-1zM23 23h1v1h-1zM25 23h1v1h-1zM27 23h2v1h-2zM32 23h1v1h-1zM34 23h1v1h-1zM36 23h1v1h-1zM40 23h3v1h-3zM44 23h1v1h-1zM46 23h1v1h-1zM49 23h1v1h-1zM3 24h1v1h-1zM6 24h1v1h-1zM8 24h1v1h-1zM10 24h5v1h-5zM16 24h1v1h-1zM19 24h3v1h-3zM23 24h6v1h-6zM31 24h1v1h-1zM33 24h5v1h-5zM39 24h2v1h-2zM42 24h1v1h-1zM44 24h5v1h-5zM27 25h1v1h-1zM36 25h1v1h-1zM42 25h1v1h-1zM46 25h1v1h-1zM22 27h1v1h-1zM1 51h1v1h-1z"/><path fill="#65cb5e" d="M1 2h1v1h-1zM6 3h1v1h-1zM2 4h1v1h-1zM5 4h4v1h-4zM49 5h1v1h-1zM17 51h1v1h-1zM26 51h1v1h-1zM29 51h1v1h-1zM31 51h1v1h-1zM34 51h1v1h-1zM36 51h1v1h-1zM47 51h1v1h-1z"/><path fill="#77d153" d="M2 2h2v1h-2zM2 3h2v1h-2z"/><path fill="#6ece58" d="M4 2h1v1h-1zM4 3h2v1h-2zM3 4h2v1h-2z"/><path fill="#52c569" d="M6 2h1v1h-1zM9 3h20v1h-20zM30 3h2v1h-2zM33 3h1v1h-1zM25 4h1v1h-1zM28 4h1v1h-1zM30 4h15v1h-15zM46 4h3v1h-3zM2 6h7v1h-7zM10 6h18v1h-18zM29 6h1v1h-1zM32 6h7v1h-7zM40 6h5v1h-5zM46 6h1v1h-1zM48 6h2v1h-2zM3 7h3v1h-3zM7 7h12v1h-12zM20 7h30v1h-30zM4 8h1v1h-1zM9 8h1v1h-1zM11 8h1v1h-1zM19 8h1v1h-1zM22 8h2v1h-2zM27 8h1v1h-1zM38 8h1v1h-1zM43 8h2v1h-2zM46 8h2v1h-2z"/><path fill="#42be71" d="M7 2h1v1h-1zM3 9h1v1h-1zM6 9h8v1h-8zM15 9h2v1h-2zM20 9h1v1h-1zM23 9h1v1h-1zM25 9h3v1h-3zM30 9h4v1h-4zM35 9h3v1h-3zM39 9h2v1h-2zM42 9h3v1h-3zM47 9h1v1h-1zM3 10h1v1h-1zM8 10h1v1h-1zM10 10h3v1h-3zM16 10h5v1h-5zM22 10h4v1h-4zM28 10h1v1h-1zM30 10h1v1h-1zM32 10h4v1h-4zM38 10h3v1h-3zM42 10h1v1h-1zM46 10h1v1h-1z"/><path fill="#35b779" d="M8 2h2v1h-2zM2 11h1v1h-1zM4 11h1v1h-1zM6 11h1v1h-1zM10 11h1v1h-1zM15 11h1v1h-1zM19 11h1v1h-1zM29 11h1v1h-1zM36 11h2v1h-2zM41 11h2v1h-2zM46 11h1v1h-1zM48 11h1v1h-1zM4 12h2v1h-2zM7 12h4v1h-4zM12 12h10v1h-10zM23 12h1v1h-1zM27 12h5v1h-5zM33 12h1v1h-1zM35 12h5v1h-5zM41 12h5v1h-5zM47 12h3v1h-3z"/><path fill="#2fb47c" d="M10 2h9v1h-9zM20 2h11v1h-11zM32 2h8v1h-8zM41 2h9v1h-9zM3 12h1v1h-1zM6 12h1v1h-1zM11 12h1v1h-1zM22 12h1v1h-1zM24 12h3v1h-3zM32 12h1v1h-1zM34 12h1v1h-1zM40 12h1v1h-1zM46 12h1v1h-1zM3 13h16v1h-16zM20 13h3v1h-3zM24 13h3v1h-3zM28 13h5v1h-5zM34 13h5v1h-5zM40 13h10v1h-10zM39 14h1v1h-1z"/><path fill="#34608d" d="M0 4h1v1h-1zM2 40h1v1h-1zM2 43h1v1h-1zM2 44h1v1h-1zM25 46h2v1h-2zM18 47h1v1h-1zM21 47h1v1h-1zM25 47h1v1h-1zM27 47h1v1h-1zM29 47h1v1h-1zM41 47h1v1h-1zM48 47h1v1h-1zM4 48h3v1h-3zM11 48h2v1h-2zM16 48h4v1h-4zM31 48h1v1h-1zM37 48h1v1h-1zM42 48h1v1h-1zM47 48h2v1h-2zM22 49h1v1h-1zM24 49h1v1h-1zM33 49h2v1h-2zM38 49h1v1h-1zM46 49h1v1h-1zM10 50h1v1h-1zM12 50h1v1h-1zM17 50h2v1h-2zM21 50h1v1h-1zM23 50h1v1h-1zM26 50h2v1h-2zM29 50h1v1h-1zM31 50h1v1h-1zM33 50h1v1h-1zM35 50h4v1h-4zM40 50h3v1h-3zM45 50h2v1h-2z"/><path fill="#1f968b" d="M1 5h1v1h-1zM3 21h1v1h-1zM5 21h1v1h-1zM12 21h2v1h-2zM15 21h2v1h-2zM18 21h1v1h-1zM23 21h1v1h-1zM32 21h1v1h-1zM35 21h2v1h-2zM39 21h1v1h-1zM41 21h3v1h-3zM47 21h1v1h-1zM49 21h1v1h-1zM4 22h2v1h-2zM8 22h1v1h-1zM11 22h7v1h-7zM20 22h4v1h-4zM25 22h1v1h-1zM27 22h6v1h-6zM34 22h1v1h-1zM36 22h3v1h-3zM41 22h5v1h-5zM47 22h1v1h-1zM3 23h1v1h-1zM6 23h1v1h-1zM12 23h1v1h-1zM16 23h1v1h-1zM19 23h1v1h-1zM21 23h2v1h-2zM24 23h1v1h-1zM26 23h1v1h-1zM29 23h2v1h-2zM33 23h1v1h-1zM37 23h1v1h-1zM39 23h1v1h-1zM43 23h1v1h-1zM45 23h1v1h-1zM47 23h1v1h-1zM17 24h1v1h-1zM29 24h1v1h-1zM38 24h1v1h-1zM41 24h1v1h-1z"/><path fill="#404588" d="M0 6h1v1h-1zM1 25h1v1h-1z"/><path fill="#218e8d" d="M1 6h1v1h-1zM2 21h1v1h-1zM31 23h1v1h-1zM38 23h1v1h-1zM4 24h2v1h-2zM7 24h1v1h-1zM9 24h1v1h-1zM15 24h1v1h-1zM18 24h1v1h-1zM22 24h1v1h-1zM30 24h1v1h-1zM32 24h1v1h-1zM43 24h1v1h-1zM49 24h1v1h-1zM5 25h1v1h-1zM7 25h4v1h-4zM12 25h1v1h-1zM15 25h9v1h-9zM26 25h1v1h-1zM28 25h1v1h-1zM30 25h4v1h-4zM35 25h1v1h-1zM37 25h5v1h-5zM43 25h3v1h-3zM47 25h3v1h-3zM3 26h3v1h-3zM8 26h1v1h-1zM13 26h1v1h-1zM17 26h1v1h-1zM21 26h2v1h-2zM26 26h1v1h-1zM28 26h1v1h-1zM34 26h1v1h-1zM42 26h1v1h-1zM44 26h2v1h-2zM48 26h2v1h-2zM11 27h1v1h-1zM18 27h1v1h-1zM23 27h1v1h-1zM35 27h1v1h-1zM14 28h1v1h-1zM35 28h1v1h-1zM14 29h1v1h-1z"/><path fill="#443b84" d="M0 7h1v1h-1zM1 26h1v1h-1zM1 27h1v1h-1z"/><path fill="#238a8d" d="M1 7h1v1h-1zM2 22h1v1h-1zM2 23h1v1h-1zM2 24h1v1h-1zM3 25h2v1h-2zM6 25h1v1h-1zM11 25h1v1h-1zM13 25h2v1h-2zM24 25h2v1h-2zM29 25h1v1h-1zM6 26h1v1h-1zM9 26h4v1h-4zM14 26h3v1h-3zM18 26h3v1h-3zM23 26h1v1h-1zM25 26h1v1h-1zM27 26h1v1h-1zM30 26h4v1h-4zM35 26h1v1h-1zM37 26h5v1h-5zM43 26h1v1h-1zM46 26h2v1h-2zM4 27h3v1h-3zM8 27h2v1h-2zM12 27h3v1h-3zM16 27h2v1h-2zM19 27h1v1h-1zM21 27h1v1h-1zM24 27h3v1h-3zM29 27h1v1h-1zM31 27h2v1h-2zM36 27h2v1h-2zM40 27h2v1h-2zM43 27h2v1h-2zM46 27h3v1h-3zM4 28h3v1h-3zM8 28h1v1h-1zM10 28h1v1h-1zM17 28h1v1h-1zM19 28h1v1h-1zM22 28h1v1h-1zM24 28h1v1h-1zM26 28h1v1h-1zM31 28h1v1h-1zM34 28h1v1h-1zM40 28h1v1h-1zM42 28h1v1h-1zM44 28h2v1h-2zM47 28h2v1h-2zM3 29h1v1h-1zM7 29h1v1h-1zM28 29h1v1h-1zM30 29h1v1h-1zM47 29h1v1h-1zM9 30h1v1h-1zM44 30h1v1h-1z"/><path fill="#46327e" d="M0 8h1v1h-1zM1 28h1v1h-1zM2 48h1v1h-1z"/><path fill="#26828e" d="M1 8h1v1h-1zM1 9h1v1h-1zM16 28h1v1h-1zM28 28h1v1h-1zM37 28h1v1h-1zM4 29h1v1h-1zM9 29h3v1h-3zM13 29h1v1h-1zM19 29h1v1h-1zM26 29h1v1h-1zM34 29h1v1h-1zM40 29h1v1h-1zM43 29h1v1h-1zM49 29h1v1h-1zM3 30h3v1h-3zM11 30h1v1h-1zM13 30h1v1h-1zM16 30h2v1h-2zM20 30h1v1h-1zM23 30h1v1h-1zM25 30h2v1h-2zM28 30h3v1h-3zM34 30h1v1h-1zM37 30h4v1h-4zM43 30h1v1h-1zM45 30h1v1h-1zM6 31h2v1h-2zM9 31h2v1h-2zM13 31h4v1h-4zM18 31h1v1h-1zM22 31h1v1h-1zM25 31h2v1h-2zM28 31h6v1h-6zM35 31h1v1h-1zM39 31h4v1h-4zM44 31h1v1h-1zM48 31h1v1h-1zM3 32h1v1h-1zM7 32h1v1h-1zM9 32h1v1h-1zM11 32h1v1h-1zM13 32h1v1h-1zM17 32h2v1h-2zM21 32h1v1h-1zM25 32h2v1h-2zM31 32h2v1h-2zM39 32h1v1h-1zM45 32h1v1h-1zM49 32h1v1h-1zM3 33h1v1h-1zM6 33h1v1h-1zM9 33h1v1h-1zM11 33h1v1h-1zM28 33h1v1h-1zM31 33h1v1h-1zM33 33h1v1h-1zM36 33h2v1h-2zM42 33h1v1h-1zM49 33h1v1h-1zM3 34h2v1h-2zM13 34h1v1h-1zM26 34h1v1h-1zM45 34h1v1h-1zM49 34h1v1h-1z"/><path fill="#481d6f" d="M0 9h1v1h-1z"/><path fill="#48186a" d="M0 10h1v1h-1zM0 11h1v1h-1zM1 34h1v1h-1z"/><path fill="#277f8e" d="M1 10h1v1h-1zM1 11h1v1h-1zM1 12h1v1h-1zM2 26h1v1h-1zM2 27h1v1h-1zM14 30h1v1h-1zM27 30h1v1h-1zM33 30h1v1h-1zM47 30h1v1h-1zM49 30h1v1h-1zM3 31h1v1h-1zM5 31h1v1h-1zM8 31h1v1h-1zM19 31h1v1h-1zM21 31h1v1h-1zM23 31h2v1h-2zM27 31h1v1h-1zM34 31h1v1h-1zM37 31h2v1h-2zM4 32h3v1h-3zM14 32h3v1h-3zM19 32h2v1h-2zM23 32h1v1h-1zM27 32h1v1h-1zM29 32h1v1h-1zM33 32h1v1h-1zM35 32h2v1h-2zM38 32h1v1h-1zM41 32h3v1h-3zM47 32h1v1h-1zM4 33h2v1h-2zM7 33h1v1h-1zM14 33h5v1h-5zM21 33h1v1h-1zM24 33h1v1h-1zM27 33h1v1h-1zM32 33h1v1h-1zM34 33h2v1h-2zM38 33h3v1h-3zM43 33h2v1h-2zM48 33h1v1h-1zM6 34h2v1h-2zM10 34h1v1h-1zM14 34h1v1h-1zM23 34h2v1h-2zM31 34h1v1h-1zM34 34h2v1h-2zM37 34h1v1h-1zM39 34h1v1h-1zM46 34h2v1h-2zM5 35h1v1h-1zM10 35h1v1h-1zM13 35h1v1h-1zM19 35h1v1h-1zM22 35h1v1h-1zM24 35h1v1h-1zM40 35h1v1h-1zM48 35h2v1h-2zM3 36h1v1h-1zM23 36h1v1h-1zM28 36h1v1h-1zM47 36h1v1h-1z"/><path fill="#471365" d="M0 12h1v1h-1zM1 30h1v1h-1zM1 31h1v1h-1zM1 32h1v1h-1zM1 35h1v1h-1zM1 36h2v1h-2zM1 37h1v1h-1zM1 39h1v1h-1zM1 40h1v1h-1zM1 42h1v1h-1zM1 43h1v1h-1zM1 44h1v1h-1zM1 45h1v1h-1zM1 46h1v1h-1zM2 47h1v1h-1zM1 49h2v1h-2z"/><path fill="#470d60" d="M0 14h1v1h-1zM0 15h1v1h-1zM0 17h1v1h-1zM0 20h1v1h-1zM0 22h1v1h-1zM0 24h1v1h-1zM0 26h1v1h-1zM0 31h1v1h-1zM0 32h1v1h-1zM0 34h1v1h-1zM0 37h1v1h-1zM0 44h1v1h-1zM0 51h1v1h-1z"/><path fill="#26ad81" d="M2 14h1v1h-1zM12 14h1v1h-1zM21 14h1v1h-1zM24 14h1v1h-1zM38 14h1v1h-1zM47 14h1v1h-1zM3 15h6v1h-6zM10 15h1v1h-1zM12 15h11v1h-11zM24 15h20v1h-20zM46 15h4v1h-4zM6 16h1v1h-1zM15 16h1v1h-1zM21 16h1v1h-1zM28 16h1v1h-1zM33 16h1v1h-1zM39 16h1v1h-1zM42 16h1v1h-1z"/><path fill="#21a585" d="M2 16h1v1h-1zM7 16h1v1h-1zM20 16h1v1h-1zM40 16h1v1h-1zM3 17h1v1h-1zM5 17h1v1h-1zM7 17h2v1h-2zM10 17h3v1h-3zM14 17h5v1h-5zM20 17h2v1h-2zM23 17h5v1h-5zM32 17h1v1h-1zM34 17h1v1h-1zM36 17h1v1h-1zM38 17h2v1h-2zM43 17h1v1h-1zM45 17h3v1h-3zM8 18h1v1h-1zM13 18h4v1h-4zM21 18h2v1h-2zM27 18h1v1h-1zM31 18h1v1h-1zM33 18h1v1h-1zM35 18h3v1h-3zM41 18h2v1h-2zM44 18h1v1h-1zM46 18h1v1h-1z"/><path fill="#38588c" d="M1 19h1v1h-1zM2 45h1v1h-1zM10 49h1v1h-1zM24 50h1v1h-1zM30 50h1v1h-1zM34 50h1v1h-1z"/><path fill="#3e4989" d="M1 22h1v1h-1zM1 23h1v1h-1z"/><path fill="#3d4e8a" d="M1 24h1v1h-1zM2 50h1v1h-1z"/><path fill="#24868e" d="M2 25h1v1h-1zM34 25h1v1h-1zM7 26h1v1h-1zM24 26h1v1h-1zM29 26h1v1h-1zM36 26h1v1h-1zM3 27h1v1h-1zM7 27h1v1h-1zM10 27h1v1h-1zM15 27h1v1h-1zM20 27h1v1h-1zM27 27h2v1h-2zM30 27h1v1h-1zM33 27h2v1h-2zM38 27h2v1h-2zM42 27h1v1h-1zM45 27h1v1h-1zM49 27h1v1h-1zM3 28h1v1h-1zM7 28h1v1h-1zM9 28h1v1h-1zM11 28h3v1h-3zM15 28h1v1h-1zM18 28h1v1h-1zM20 28h2v1h-2zM23 28h1v1h-1zM25 28h1v1h-1zM27 28h1v1h-1zM29 28h2v1h-2zM32 28h2v1h-2zM36 28h1v1h-1zM38 28h2v1h-2zM41 28h1v1h-1zM43 28h1v1h-1zM46 28h1v1h-1zM49 28h1v1h-1zM5 29h2v1h-2zM8 29h1v1h-1zM12 29h1v1h-1zM15 29h4v1h-4zM20 29h6v1h-6zM27 29h1v1h-1zM29 29h1v1h-1zM31 29h3v1h-3zM35 29h5v1h-5zM41 29h2v1h-2zM44 29h3v1h-3zM48 29h1v1h-1zM6 30h3v1h-3zM10 30h1v1h-1zM12 30h1v1h-1zM15 30h1v1h-1zM18 30h2v1h-2zM21 30h2v1h-2zM24 30h1v1h-1zM31 30h2v1h-2zM35 30h2v1h-2zM41 30h2v1h-2zM46 30h1v1h-1zM48 30h1v1h-1zM4 31h1v1h-1zM11 31h2v1h-2zM17 31h1v1h-1zM20 31h1v1h-1zM36 31h1v1h-1zM43 31h1v1h-1zM46 31h1v1h-1zM49 31h1v1h-1zM10 32h1v1h-1zM48 32h1v1h-1zM23 33h1v1h-1z"/><path fill="#472d7b" d="M1 29h1v1h-1z"/>
</g>
<path d="M263.99 211V363.7M266.98 211V363.7M269.98 211V363.7M272.97 211V363.7M275.96 211V363.7M278.95 211V363.7M281.94 211V363.7M284.94 211V363.7M287.93 211V363.7M290.92 211V363.7M293.91 211V363.7M296.9 211V363.7M299.9 211V363.7M302.89 211V363.7M305.88 211V363.7M308.87 211V363.7M311.86 211V363.7M314.86 211V363.7M317.85 211V363.7M320.84 211V363.7M323.83 211V363.7M326.82 211V363.7M329.82 211V363.7M332.81 211V363.7M335.8 211V363.7M338.79 211V363.7M341.78 211V363.7M344.78 211V363.7M347.77 211V363.7M350.76 211V363.7M353.75 211V363.7M356.74 211V363.7M359.74 211V363.7M362.73 211V363.7M365.72 211V363.7M368.71 211V363.7M371.7 211V363.7M374.7 211V363.7M377.69 211V363.7M380.68 211V363.7M383.67 211V363.7M386.66 211V363.7M389.66 211V363.7M392.65 211V363.7M395.64 211V363.7M398.63 211V363.7M401.62 211V363.7M404.62 211V363.7M407.61 211V363.7M261 360.75H410.6M261 357.8H410.6M261 354.85H410.6M261 351.9H410.6M261 348.95H410.6M261 346H410.6M261 343.05H410.6M261 340.1H410.6M261 337.15H410.6M261 334.2H410.6M261 331.25H410.6M261 328.3H410.6M261 325.35H410.6M261 322.4H410.6M261 319.45H410.6M261 316.5H410.6M261 313.55H410.6M261 310.6H410.6M261 307.65H410.6M261 304.7H410.6M261 301.75H410.6M261 298.8H410.6M261 295.85H410.6M261 292.9H410.6M261 289.95H410.6M261 287H410.6M261 284.05H410.6M261 281.1H410.6M261 278.15H410.6M261 275.2H410.6M261 272.25H410.6M261 269.3H410.6M261 266.35H410.6M261 263.4H410.6M261 260.45H410.6M261 257.5H410.6M261 254.55H410.6M261 251.6H410.6M261 248.65H410.6M261 245.7H410.6M261 242.75H410.6M261 239.8H410.6M261 236.85H410.6M261 233.9H410.6M261 230.95H410.6M261 228H410.6M261 225.05H410.6M261 222.1H410.6M261 219.15H410.6M261 216.2H410.6M261 213.25H410.6" stroke="#fff" stroke-opacity="0.16" stroke-width="0.4" fill="none"/>
</g>
<rect x="420.8" y="211" width="8.5" height="153.3" fill="url(#vir)"/>
<line x1="429.3" x2="430.8" y1="219.9" y2="219.9" stroke="#333" stroke-width="0.6"/>
<text transform="translate(431.3 221.9) scale(1.1 1)" font-size="6.5" text-anchor="start">10<tspan font-size="4.68" dx="0.4" dy="-2.0">−2</tspan></text>
<line x1="429.3" x2="430.8" y1="257" y2="257" stroke="#333" stroke-width="0.6"/>
<text transform="translate(431.3 259) scale(1.1 1)" font-size="6.5" text-anchor="start">10<tspan font-size="4.68" dx="0.4" dy="-2.0">−3</tspan></text>
<line x1="429.3" x2="430.8" y1="293.8" y2="293.8" stroke="#333" stroke-width="0.6"/>
<text transform="translate(431.3 295.8) scale(1.1 1)" font-size="6.5" text-anchor="start">10<tspan font-size="4.68" dx="0.4" dy="-2.0">−4</tspan></text>
<line x1="429.3" x2="430.8" y1="330.3" y2="330.3" stroke="#333" stroke-width="0.6"/>
<text transform="translate(431.3 332.3) scale(1.1 1)" font-size="6.5" text-anchor="start">10<tspan font-size="4.68" dx="0.4" dy="-2.0">−5</tspan></text>
<line x1="429.3" x2="430.2" y1="245.83" y2="245.83" stroke="#555" stroke-width="0.45"/>
<line x1="429.3" x2="430.2" y1="239.3" y2="239.3" stroke="#555" stroke-width="0.45"/>
<line x1="429.3" x2="430.2" y1="234.66" y2="234.66" stroke="#555" stroke-width="0.45"/>
<line x1="429.3" x2="430.2" y1="231.07" y2="231.07" stroke="#555" stroke-width="0.45"/>
<line x1="429.3" x2="430.2" y1="228.13" y2="228.13" stroke="#555" stroke-width="0.45"/>
<line x1="429.3" x2="430.2" y1="225.65" y2="225.65" stroke="#555" stroke-width="0.45"/>
<line x1="429.3" x2="430.2" y1="223.5" y2="223.5" stroke="#555" stroke-width="0.45"/>
<line x1="429.3" x2="430.2" y1="221.6" y2="221.6" stroke="#555" stroke-width="0.45"/>
<line x1="429.3" x2="430.2" y1="282.93" y2="282.93" stroke="#555" stroke-width="0.45"/>
<line x1="429.3" x2="430.2" y1="276.4" y2="276.4" stroke="#555" stroke-width="0.45"/>
<line x1="429.3" x2="430.2" y1="271.76" y2="271.76" stroke="#555" stroke-width="0.45"/>
<line x1="429.3" x2="430.2" y1="268.17" y2="268.17" stroke="#555" stroke-width="0.45"/>
<line x1="429.3" x2="430.2" y1="265.23" y2="265.23" stroke="#555" stroke-width="0.45"/>
<line x1="429.3" x2="430.2" y1="262.75" y2="262.75" stroke="#555" stroke-width="0.45"/>
<line x1="429.3" x2="430.2" y1="260.6" y2="260.6" stroke="#555" stroke-width="0.45"/>
<line x1="429.3" x2="430.2" y1="258.7" y2="258.7" stroke="#555" stroke-width="0.45"/>
<line x1="429.3" x2="430.2" y1="320.03" y2="320.03" stroke="#555" stroke-width="0.45"/>
<line x1="429.3" x2="430.2" y1="313.5" y2="313.5" stroke="#555" stroke-width="0.45"/>
<line x1="429.3" x2="430.2" y1="308.86" y2="308.86" stroke="#555" stroke-width="0.45"/>
<line x1="429.3" x2="430.2" y1="305.27" y2="305.27" stroke="#555" stroke-width="0.45"/>
<line x1="429.3" x2="430.2" y1="302.33" y2="302.33" stroke="#555" stroke-width="0.45"/>
<line x1="429.3" x2="430.2" y1="299.85" y2="299.85" stroke="#555" stroke-width="0.45"/>
<line x1="429.3" x2="430.2" y1="297.7" y2="297.7" stroke="#555" stroke-width="0.45"/>
<line x1="429.3" x2="430.2" y1="295.8" y2="295.8" stroke="#555" stroke-width="0.45"/>
<line x1="429.3" x2="430.2" y1="357.13" y2="357.13" stroke="#555" stroke-width="0.45"/>
<line x1="429.3" x2="430.2" y1="350.6" y2="350.6" stroke="#555" stroke-width="0.45"/>
<line x1="429.3" x2="430.2" y1="345.96" y2="345.96" stroke="#555" stroke-width="0.45"/>
<line x1="429.3" x2="430.2" y1="342.37" y2="342.37" stroke="#555" stroke-width="0.45"/>
<line x1="429.3" x2="430.2" y1="339.43" y2="339.43" stroke="#555" stroke-width="0.45"/>
<line x1="429.3" x2="430.2" y1="336.95" y2="336.95" stroke="#555" stroke-width="0.45"/>
<line x1="429.3" x2="430.2" y1="334.8" y2="334.8" stroke="#555" stroke-width="0.45"/>
<line x1="429.3" x2="430.2" y1="332.9" y2="332.9" stroke="#555" stroke-width="0.45"/>
<text transform="translate(450.4 287.7) rotate(-90)" font-size="8.6" text-anchor="middle" dominant-baseline="central">Density</text>
<text transform="translate(234.9 288) rotate(-90)" font-size="8.6" text-anchor="middle" dominant-baseline="central">V[24]</text>
<text transform="translate(336.3 385.9)" font-size="8.6" text-anchor="middle" dominant-baseline="central">True Energy [GeV]</text>
<text transform="translate(262 371.47) rotate(-45) scale(1.1 1)" font-size="6.5" text-anchor="middle" dominant-baseline="central">50</text>
<text transform="translate(291.9 374.28) rotate(-45) scale(1.1 1)" font-size="6.5" text-anchor="middle" dominant-baseline="central">1640</text>
<text transform="translate(321.8 374.28) rotate(-45) scale(1.1 1)" font-size="6.5" text-anchor="middle" dominant-baseline="central">3230</text>
<text transform="translate(351.7 374.28) rotate(-45) scale(1.1 1)" font-size="6.5" text-anchor="middle" dominant-baseline="central">4820</text>
<text transform="translate(381.6 374.28) rotate(-45) scale(1.1 1)" font-size="6.5" text-anchor="middle" dominant-baseline="central">6410</text>
<text transform="translate(411.5 374.28) rotate(-45) scale(1.1 1)" font-size="6.5" text-anchor="middle" dominant-baseline="central">8000</text>
<text transform="translate(258.6 211.4) scale(1.1 1)" font-size="6.5" text-anchor="end" dominant-baseline="central">10000</text>
<text transform="translate(258.6 257.4) scale(1.1 1)" font-size="6.5" text-anchor="end" dominant-baseline="central">7002</text>
<text transform="translate(258.3 303.4) scale(1.1 1)" font-size="6.5" text-anchor="end" dominant-baseline="central">4004</text>
<text transform="translate(258.6 350) scale(1.1 1)" font-size="6.5" text-anchor="end" dominant-baseline="central">1006</text>
<clipPath id="c5"><rect x="480.4" y="200.2" width="158.9" height="160.2"/></clipPath>
<g clip-path="url(#c5)"><g shape-rendering="crispEdges" transform="translate(480.4 360.4) scale(3.1780 -3.1700)">
<path fill="#42be71" d="M0 0h1v1h-1zM6 4h1v1h-1zM9 6h1v1h-1zM12 7h1v1h-1zM15 8h1v1h-1zM22 10h2v1h-2zM28 11h1v1h-1zM33 12h4v1h-4zM1 15h1v1h-1zM2 19h1v1h-1zM4 22h1v1h-1zM6 24h2v1h-2zM10 25h2v1h-2zM13 26h3v1h-3zM36 26h1v1h-1zM18 27h6v1h-6zM25 27h3v1h-3zM42 27h8v1h-8z"/><path fill="#20928c" d="M1 0h1v1h-1zM12 4h1v1h-1zM15 4h1v1h-1zM22 6h1v1h-1zM24 6h2v1h-2zM30 7h1v1h-1zM32 7h1v1h-1zM34 7h2v1h-2zM38 7h2v1h-2zM41 7h1v1h-1zM43 7h1v1h-1zM46 7h2v1h-2zM49 7h1v1h-1zM44 8h1v1h-1zM1 22h1v1h-1zM1 23h1v1h-1zM2 27h1v1h-1zM4 30h1v1h-1zM6 32h2v1h-2zM10 33h2v1h-2zM13 33h1v1h-1zM11 34h4v1h-4zM39 34h1v1h-1zM46 34h1v1h-1zM13 35h3v1h-3zM18 35h2v1h-2zM23 35h1v1h-1zM30 35h1v1h-1zM36 35h1v1h-1zM38 35h1v1h-1zM43 35h2v1h-2zM46 35h1v1h-1zM48 35h1v1h-1zM17 36h1v1h-1zM19 36h3v1h-3zM25 36h2v1h-2zM28 36h6v1h-6zM36 36h2v1h-2zM39 36h2v1h-2zM42 36h2v1h-2zM45 36h5v1h-5zM20 37h2v1h-2zM23 37h5v1h-5zM30 37h2v1h-2zM33 37h5v1h-5zM40 37h1v1h-1zM44 37h6v1h-6zM31 38h1v1h-1zM35 38h1v1h-1zM37 38h2v1h-2zM40 38h1v1h-1zM46 38h2v1h-2zM49 38h1v1h-1z"/><path fill="#2f6c8e" d="M2 0h1v1h-1zM22 3h1v1h-1zM24 3h2v1h-2zM37 4h1v1h-1zM40 4h1v1h-1zM44 4h1v1h-1zM49 4h1v1h-1zM0 26h1v1h-1zM1 29h1v1h-1zM3 35h1v1h-1zM4 36h1v1h-1zM5 38h1v1h-1zM7 38h1v1h-1zM6 39h1v1h-1zM16 43h1v1h-1zM18 43h1v1h-1zM20 44h1v1h-1zM22 44h1v1h-1zM24 44h1v1h-1zM29 45h1v1h-1zM33 45h1v1h-1zM35 45h1v1h-1zM37 45h1v1h-1zM40 45h2v1h-2zM46 46h1v1h-1zM48 46h1v1h-1z"/><path fill="#471365" d="M3 0h1v1h-1z"/><path fill="#a0da39" d="M0 1h1v1h-1zM3 3h1v1h-1zM0 6h1v1h-1zM1 8h1v1h-1zM7 8h1v1h-1zM8 9h1v1h-1zM10 10h1v1h-1zM13 11h1v1h-1zM15 12h1v1h-1zM2 13h1v1h-1zM20 14h3v1h-3zM26 15h3v1h-3zM4 16h1v1h-1zM33 16h11v1h-11zM5 17h1v1h-1zM6 18h2v1h-2zM8 19h2v1h-2zM11 20h4v1h-4zM16 20h1v1h-1zM18 21h4v1h-4zM25 22h1v1h-1zM29 22h9v1h-9zM46 23h4v1h-4z"/><path fill="#4ac16d" d="M1 1h1v1h-1zM4 2h1v1h-1zM10 7h2v1h-2zM14 8h1v1h-1zM17 9h2v1h-2zM0 10h1v1h-1zM20 10h2v1h-2zM24 11h4v1h-4zM31 12h2v1h-2zM46 13h1v1h-1zM49 13h1v1h-1zM1 14h1v1h-1zM3 20h1v1h-1zM5 23h2v1h-2zM8 24h1v1h-1zM12 25h1v1h-1zM16 26h2v1h-2zM28 26h1v1h-1zM30 26h6v1h-6zM37 26h3v1h-3zM41 26h1v1h-1zM43 26h1v1h-1z"/><path fill="#1f9e89" d="M2 1h1v1h-1zM6 2h1v1h-1zM8 3h1v1h-1zM10 4h1v1h-1zM15 5h1v1h-1zM21 7h5v1h-5zM31 8h1v1h-1zM34 9h1v1h-1zM36 9h1v1h-1zM42 9h1v1h-1zM48 9h1v1h-1zM0 16h1v1h-1zM1 20h1v1h-1zM2 25h1v1h-1zM5 29h2v1h-2zM7 30h3v1h-3zM9 31h1v1h-1zM11 31h3v1h-3zM13 32h1v1h-1zM15 32h1v1h-1zM17 32h1v1h-1zM23 32h1v1h-1zM27 32h1v1h-1zM29 32h1v1h-1zM31 32h3v1h-3zM35 32h2v1h-2zM38 32h1v1h-1zM42 32h3v1h-3zM17 33h1v1h-1zM19 33h1v1h-1zM21 33h2v1h-2zM25 33h3v1h-3zM39 33h1v1h-1zM48 33h2v1h-2zM21 34h1v1h-1z"/><path fill="#2a778e" d="M3 1h1v1h-1zM10 2h2v1h-2zM17 3h1v1h-1zM23 4h1v1h-1zM29 4h1v1h-1zM34 5h1v1h-1zM38 5h2v1h-2zM0 23h1v1h-1zM1 27h1v1h-1zM2 31h1v1h-1zM3 33h1v1h-1zM5 36h1v1h-1zM11 40h1v1h-1zM14 40h1v1h-1zM14 41h4v1h-4zM17 42h1v1h-1zM19 42h1v1h-1zM24 43h2v1h-2zM31 43h1v1h-1zM36 43h1v1h-1zM33 44h1v1h-1zM35 44h1v1h-1zM37 44h1v1h-1zM39 44h1v1h-1zM41 44h1v1h-1zM43 45h1v1h-1zM46 45h4v1h-4z"/><path fill="#31688e" d="M4 1h1v1h-1zM29 3h3v1h-3zM33 3h1v1h-1zM35 3h1v1h-1zM41 3h1v1h-1zM45 4h1v1h-1zM5 39h1v1h-1zM8 40h1v1h-1zM9 41h1v1h-1zM11 41h1v1h-1zM10 42h5v1h-5zM18 44h2v1h-2zM19 45h1v1h-1zM21 45h1v1h-1zM28 45h1v1h-1zM30 45h3v1h-3zM41 46h5v1h-5zM49 46h1v1h-1z"/><path fill="#34608d" d="M5 1h1v1h-1zM27 3h1v1h-1zM40 3h1v1h-1zM42 3h2v1h-2zM45 3h1v1h-1zM1 30h1v1h-1zM2 34h1v1h-1zM4 37h1v1h-1zM7 40h1v1h-1zM8 41h1v1h-1zM11 43h4v1h-4zM15 44h1v1h-1zM17 44h1v1h-1zM16 45h1v1h-1zM37 46h2v1h-2zM41 47h1v1h-1zM43 47h1v1h-1zM48 47h2v1h-2z"/><path fill="#404588" d="M6 1h2v1h-2zM13 2h2v1h-2zM48 2h1v1h-1zM2 36h1v1h-1zM4 40h1v1h-1zM6 41h1v1h-1zM13 45h1v1h-1zM26 47h1v1h-1zM31 47h1v1h-1zM35 47h1v1h-1z"/><path fill="#470d60" d="M11 1h2v1h-2zM17 1h1v1h-1zM29 1h1v1h-1zM31 1h1v1h-1zM33 1h8v1h-8zM43 1h1v1h-1zM46 1h3v1h-3zM16 2h2v1h-2zM20 2h2v1h-2zM23 2h2v1h-2zM0 31h1v1h-1zM0 33h1v1h-1zM0 34h2v1h-2zM1 35h1v1h-1zM1 37h1v1h-1zM2 38h1v1h-1zM3 39h1v1h-1zM2 40h2v1h-2zM3 41h1v1h-1zM5 41h1v1h-1zM4 42h2v1h-2zM6 43h3v1h-3zM6 44h3v1h-3zM10 44h1v1h-1zM7 45h4v1h-4zM12 46h5v1h-5zM21 46h1v1h-1zM23 46h1v1h-1zM14 47h1v1h-1zM16 47h10v1h-10zM14 48h1v1h-1zM17 48h1v1h-1zM19 48h1v1h-1zM22 48h1v1h-1zM33 48h1v1h-1zM35 48h2v1h-2zM38 48h1v1h-1zM23 49h1v1h-1zM44 49h1v1h-1zM46 49h1v1h-1zM48 49h1v1h-1z"/><path fill="#3e4989" d="M25 1h1v1h-1zM37 2h1v1h-1zM47 2h1v1h-1zM49 2h1v1h-1zM0 30h1v1h-1zM18 46h2v1h-2zM22 46h1v1h-1zM34 47h1v1h-1zM45 48h1v1h-1zM49 48h1v1h-1z"/><path fill="#453781" d="M26 1h1v1h-1zM36 2h1v1h-1zM1 33h1v1h-1zM42 48h1v1h-1z"/><path fill="#443b84" d="M27 1h1v1h-1zM12 45h1v1h-1zM17 46h1v1h-1zM27 47h1v1h-1zM43 48h2v1h-2zM46 48h1v1h-1z"/><path fill="#46327e" d="M28 1h1v1h-1zM41 1h2v1h-2zM45 1h1v1h-1zM18 2h1v1h-1zM1 36h1v1h-1zM11 45h1v1h-1zM11 46h1v1h-1zM30 48h2v1h-2zM34 48h1v1h-1zM40 48h1v1h-1z"/><path fill="#d5e21a" d="M0 2h1v1h-1zM2 3h1v1h-1zM2 4h1v1h-1zM2 7h1v1h-1zM2 8h1v1h-1zM5 10h1v1h-1zM6 11h1v1h-1zM6 12h3v1h-3zM5 13h6v1h-6zM8 14h2v1h-2zM11 14h2v1h-2zM8 15h2v1h-2zM11 15h2v1h-2zM10 16h2v1h-2zM19 18h4v1h-4zM26 18h1v1h-1zM28 19h4v1h-4zM34 19h1v1h-1zM36 19h1v1h-1zM40 19h2v1h-2zM43 19h5v1h-5zM49 19h1v1h-1zM38 20h7v1h-7z"/><path fill="#cae11f" d="M1 2h1v1h-1zM0 3h2v1h-2zM1 4h1v1h-1zM3 7h1v1h-1zM3 8h1v1h-1zM2 9h4v1h-4zM3 10h2v1h-2zM6 10h1v1h-1zM4 11h1v1h-1zM7 11h2v1h-2zM4 12h1v1h-1zM9 12h2v1h-2zM11 13h1v1h-1zM5 14h3v1h-3zM13 14h1v1h-1zM7 15h1v1h-1zM13 15h2v1h-2zM9 16h1v1h-1zM12 16h5v1h-5zM10 17h6v1h-6zM17 17h5v1h-5zM24 17h1v1h-1zM14 18h5v1h-5zM23 18h3v1h-3zM27 18h17v1h-17zM46 18h3v1h-3zM23 19h5v1h-5zM48 19h1v1h-1zM33 20h5v1h-5zM44 21h6v1h-6z"/><path fill="#c0df25" d="M2 2h1v1h-1zM0 4h1v1h-1zM1 5h1v1h-1zM1 6h1v1h-1zM3 6h1v1h-1zM4 8h2v1h-2zM6 9h1v1h-1zM2 10h1v1h-1zM7 10h1v1h-1zM3 11h1v1h-1zM9 11h1v1h-1zM11 12h2v1h-2zM4 13h1v1h-1zM12 13h2v1h-2zM14 14h2v1h-2zM5 15h2v1h-2zM15 15h3v1h-3zM7 16h2v1h-2zM17 16h5v1h-5zM9 17h1v1h-1zM16 17h1v1h-1zM22 17h2v1h-2zM25 17h8v1h-8zM11 18h3v1h-3zM44 18h2v1h-2zM49 18h1v1h-1zM17 19h6v1h-6zM25 20h8v1h-8zM36 21h1v1h-1zM38 21h6v1h-6zM49 22h1v1h-1z"/><path fill="#81d34d" d="M3 2h1v1h-1zM6 6h1v1h-1zM0 7h1v1h-1zM7 7h1v1h-1zM11 9h1v1h-1zM1 10h1v1h-1zM13 10h2v1h-2zM16 11h1v1h-1zM19 12h1v1h-1zM22 13h3v1h-3zM28 14h3v1h-3zM2 15h1v1h-1zM35 15h3v1h-3zM39 15h11v1h-11zM5 19h1v1h-1zM7 20h1v1h-1zM9 21h2v1h-2zM13 22h3v1h-3zM18 23h2v1h-2zM21 23h1v1h-1zM25 23h1v1h-1zM21 24h1v1h-1zM44 24h4v1h-4z"/><path fill="#23a983" d="M5 2h1v1h-1zM7 3h1v1h-1zM11 5h1v1h-1zM15 6h1v1h-1zM18 7h1v1h-1zM22 8h4v1h-4zM28 9h3v1h-3zM33 10h9v1h-9zM44 10h5v1h-5zM0 14h1v1h-1zM2 23h1v1h-1zM4 26h1v1h-1zM5 27h1v1h-1zM8 28h2v1h-2zM11 29h4v1h-4zM35 29h1v1h-1zM15 30h2v1h-2zM23 30h1v1h-1zM26 30h1v1h-1zM28 30h5v1h-5zM36 30h1v1h-1zM38 30h2v1h-2zM41 30h4v1h-4zM46 30h4v1h-4zM19 31h2v1h-2zM22 31h2v1h-2z"/><path fill="#1f968b" d="M7 2h1v1h-1zM9 3h1v1h-1zM13 4h1v1h-1zM16 5h2v1h-2zM20 6h2v1h-2zM23 6h1v1h-1zM31 7h1v1h-1zM35 8h2v1h-2zM39 8h2v1h-2zM42 8h2v1h-2zM48 8h1v1h-1zM0 17h1v1h-1zM1 21h1v1h-1zM3 28h1v1h-1zM4 29h1v1h-1zM5 31h3v1h-3zM8 32h3v1h-3zM12 33h1v1h-1zM14 33h1v1h-1zM16 33h1v1h-1zM33 33h3v1h-3zM16 34h2v1h-2zM25 34h1v1h-1zM28 34h1v1h-1zM31 34h1v1h-1zM33 34h6v1h-6zM40 34h2v1h-2zM44 34h2v1h-2zM47 34h1v1h-1zM49 34h1v1h-1zM17 35h1v1h-1zM20 35h3v1h-3zM25 35h1v1h-1zM27 35h3v1h-3zM31 35h5v1h-5zM37 35h1v1h-1zM39 35h4v1h-4zM45 35h1v1h-1zM47 35h1v1h-1zM49 35h1v1h-1zM24 36h1v1h-1zM27 36h1v1h-1zM34 36h2v1h-2zM41 36h1v1h-1zM44 36h1v1h-1zM42 37h1v1h-1zM45 38h1v1h-1z"/><path fill="#238a8d" d="M8 2h1v1h-1zM10 3h1v1h-1zM16 4h2v1h-2zM20 5h2v1h-2zM23 5h1v1h-1zM29 6h2v1h-2zM32 6h2v1h-2zM42 6h1v1h-1zM48 7h1v1h-1zM0 18h1v1h-1zM1 24h1v1h-1zM4 31h1v1h-1zM5 33h1v1h-1zM8 34h1v1h-1zM10 35h3v1h-3zM14 36h2v1h-2zM15 37h2v1h-2zM29 37h1v1h-1zM18 38h3v1h-3zM22 38h1v1h-1zM27 38h1v1h-1zM34 38h1v1h-1zM44 38h1v1h-1zM17 39h2v1h-2zM21 39h1v1h-1zM24 39h1v1h-1zM26 39h2v1h-2zM31 39h1v1h-1zM34 39h1v1h-1zM37 39h1v1h-1zM39 39h1v1h-1zM41 39h1v1h-1zM43 39h1v1h-1zM47 39h1v1h-1zM19 40h1v1h-1zM21 40h1v1h-1zM24 40h3v1h-3zM30 40h1v1h-1zM35 40h1v1h-1zM38 40h3v1h-3zM43 40h5v1h-5zM49 40h1v1h-1zM38 41h1v1h-1zM41 41h1v1h-1zM47 41h3v1h-3zM43 42h1v1h-1z"/><path fill="#26828e" d="M9 2h1v1h-1zM12 3h1v1h-1zM16 3h1v1h-1zM19 4h1v1h-1zM24 5h1v1h-1zM26 5h1v1h-1zM29 5h1v1h-1zM44 5h1v1h-1zM41 6h1v1h-1zM43 6h1v1h-1zM47 6h2v1h-2zM0 20h1v1h-1zM0 21h1v1h-1zM1 26h1v1h-1zM2 30h1v1h-1zM3 31h1v1h-1zM4 33h1v1h-1zM6 35h2v1h-2zM9 36h1v1h-1zM9 37h5v1h-5zM11 38h2v1h-2zM30 39h1v1h-1zM23 40h1v1h-1zM28 40h1v1h-1zM20 41h2v1h-2zM23 41h1v1h-1zM26 41h2v1h-2zM29 41h2v1h-2zM33 41h2v1h-2zM36 41h1v1h-1zM40 41h1v1h-1zM28 42h1v1h-1zM30 42h1v1h-1zM32 42h1v1h-1zM37 42h1v1h-1zM39 42h2v1h-2zM44 42h1v1h-1zM47 42h1v1h-1zM30 43h1v1h-1zM41 43h5v1h-5z"/><path fill="#2c738e" d="M12 2h1v1h-1zM19 3h3v1h-3zM24 4h1v1h-1zM27 4h2v1h-2zM31 4h1v1h-1zM35 4h2v1h-2zM38 4h2v1h-2zM41 4h1v1h-1zM46 4h1v1h-1zM36 5h1v1h-1zM48 5h1v1h-1zM0 24h1v1h-1zM7 39h3v1h-3zM10 40h1v1h-1zM10 41h1v1h-1zM12 41h1v1h-1zM18 42h1v1h-1zM21 43h2v1h-2zM32 43h1v1h-1zM23 44h1v1h-1zM26 44h2v1h-2zM29 44h4v1h-4zM34 44h1v1h-1zM36 44h1v1h-1zM42 44h1v1h-1zM44 45h1v1h-1z"/><path fill="#482374" d="M15 2h1v1h-1z"/><path fill="#472d7b" d="M19 2h1v1h-1z"/><path fill="#3a538b" d="M25 2h1v1h-1zM31 2h1v1h-1zM39 2h1v1h-1zM41 2h1v1h-1zM5 40h1v1h-1zM8 42h1v1h-1zM12 44h1v1h-1zM20 46h1v1h-1zM25 46h2v1h-2zM31 46h2v1h-2zM33 47h1v1h-1zM38 47h1v1h-1z"/><path fill="#32648e" d="M26 2h1v1h-1zM29 2h1v1h-1zM28 3h1v1h-1zM32 3h1v1h-1zM34 3h1v1h-1zM39 3h1v1h-1zM46 3h1v1h-1zM49 3h1v1h-1zM1 31h1v1h-1zM15 43h1v1h-1zM16 44h1v1h-1zM20 45h1v1h-1zM22 45h2v1h-2zM25 45h3v1h-3zM30 46h1v1h-1zM34 46h1v1h-1zM36 46h1v1h-1zM39 46h2v1h-2zM47 46h1v1h-1zM46 47h1v1h-1z"/><path fill="#38588c" d="M27 2h2v1h-2zM30 2h1v1h-1zM35 2h1v1h-1zM37 3h1v1h-1zM47 3h2v1h-2zM2 35h1v1h-1zM3 36h1v1h-1zM4 39h1v1h-1zM9 42h1v1h-1zM13 44h2v1h-2zM28 46h2v1h-2zM37 47h1v1h-1zM42 47h1v1h-1zM48 48h1v1h-1z"/><path fill="#365c8d" d="M32 2h1v1h-1zM36 3h1v1h-1zM38 3h1v1h-1zM44 3h1v1h-1zM0 27h1v1h-1zM0 28h1v1h-1zM4 38h1v1h-1zM6 40h1v1h-1zM9 43h2v1h-2zM24 45h1v1h-1zM27 46h1v1h-1zM33 46h1v1h-1zM35 46h1v1h-1zM36 47h1v1h-1zM39 47h1v1h-1zM44 47h2v1h-2zM47 47h1v1h-1z"/><path fill="#3d4e8a" d="M33 2h2v1h-2zM38 2h1v1h-1zM40 2h1v1h-1zM42 2h2v1h-2zM45 2h2v1h-2zM3 37h1v1h-1zM7 41h1v1h-1zM11 44h1v1h-1zM17 45h2v1h-2zM24 46h1v1h-1zM30 47h1v1h-1zM32 47h1v1h-1zM40 47h1v1h-1zM47 48h1v1h-1z"/><path fill="#424086" d="M44 2h1v1h-1zM0 29h1v1h-1zM1 32h1v1h-1zM2 37h1v1h-1zM3 38h1v1h-1zM7 42h1v1h-1zM9 44h1v1h-1zM14 45h2v1h-2zM28 47h2v1h-2zM41 48h1v1h-1z"/><path fill="#65cb5e" d="M4 3h1v1h-1zM7 6h1v1h-1zM9 7h1v1h-1zM11 8h1v1h-1zM14 9h1v1h-1zM17 10h1v1h-1zM19 11h2v1h-2zM24 12h2v1h-2zM29 13h3v1h-3zM40 14h1v1h-1zM42 14h1v1h-1zM44 14h4v1h-4zM3 18h1v1h-1zM5 21h1v1h-1zM7 22h2v1h-2zM10 23h2v1h-2zM15 24h2v1h-2zM17 25h2v1h-2zM24 25h1v1h-1zM26 25h3v1h-3zM30 25h1v1h-1zM41 25h3v1h-3zM45 25h1v1h-1zM47 25h1v1h-1z"/><path fill="#3bbb75" d="M5 3h1v1h-1zM8 5h1v1h-1zM13 7h1v1h-1zM16 8h1v1h-1zM19 9h1v1h-1zM24 10h2v1h-2zM0 11h1v1h-1zM29 11h2v1h-2zM37 12h13v1h-13zM2 20h1v1h-1zM3 21h1v1h-1zM4 23h1v1h-1zM5 24h1v1h-1zM8 25h2v1h-2zM11 26h2v1h-2zM16 27h2v1h-2zM24 27h1v1h-1zM28 27h9v1h-9zM38 27h4v1h-4zM48 28h1v1h-1z"/><path fill="#2fb47c" d="M6 3h1v1h-1zM7 4h1v1h-1zM9 5h1v1h-1zM11 6h1v1h-1zM18 8h1v1h-1zM23 9h2v1h-2zM27 10h3v1h-3zM32 11h3v1h-3zM40 11h1v1h-1zM43 11h1v1h-1zM46 11h2v1h-2zM49 11h1v1h-1zM0 12h1v1h-1zM2 21h1v1h-1zM4 24h1v1h-1zM6 26h2v1h-2zM10 27h3v1h-3zM15 28h4v1h-4zM22 28h1v1h-1zM27 28h3v1h-3zM31 28h1v1h-1zM40 28h4v1h-4zM48 29h1v1h-1z"/><path fill="#218e8d" d="M11 3h1v1h-1zM14 4h1v1h-1zM18 5h2v1h-2zM26 6h3v1h-3zM31 6h1v1h-1zM33 7h1v1h-1zM36 7h2v1h-2zM40 7h1v1h-1zM42 7h1v1h-1zM44 7h2v1h-2zM0 19h1v1h-1zM2 28h1v1h-1zM3 29h1v1h-1zM3 30h1v1h-1zM5 32h1v1h-1zM6 33h4v1h-4zM9 34h2v1h-2zM16 35h1v1h-1zM13 36h1v1h-1zM16 36h1v1h-1zM18 36h1v1h-1zM22 36h2v1h-2zM38 36h1v1h-1zM17 37h3v1h-3zM22 37h1v1h-1zM28 37h1v1h-1zM32 37h1v1h-1zM38 37h2v1h-2zM41 37h1v1h-1zM43 37h1v1h-1zM21 38h1v1h-1zM23 38h4v1h-4zM28 38h3v1h-3zM32 38h2v1h-2zM36 38h1v1h-1zM39 38h1v1h-1zM41 38h3v1h-3zM48 38h1v1h-1zM22 39h2v1h-2zM28 39h2v1h-2zM32 39h1v1h-1zM35 39h2v1h-2zM38 39h1v1h-1zM40 39h1v1h-1zM42 39h1v1h-1zM44 39h3v1h-3zM48 39h2v1h-2zM41 40h2v1h-2zM48 40h1v1h-1zM44 41h1v1h-1z"/><path fill="#24868e" d="M13 3h1v1h-1zM18 4h1v1h-1zM22 5h1v1h-1zM25 5h1v1h-1zM27 5h1v1h-1zM34 6h7v1h-7zM44 6h1v1h-1zM46 6h1v1h-1zM49 6h1v1h-1zM1 25h1v1h-1zM2 29h1v1h-1zM4 32h1v1h-1zM5 34h3v1h-3zM8 35h2v1h-2zM10 36h3v1h-3zM14 37h1v1h-1zM13 38h1v1h-1zM15 38h3v1h-3zM16 39h1v1h-1zM19 39h2v1h-2zM25 39h1v1h-1zM33 39h1v1h-1zM18 40h1v1h-1zM20 40h1v1h-1zM22 40h1v1h-1zM27 40h1v1h-1zM29 40h1v1h-1zM31 40h4v1h-4zM36 40h2v1h-2zM25 41h1v1h-1zM28 41h1v1h-1zM31 41h2v1h-2zM35 41h1v1h-1zM37 41h1v1h-1zM39 41h1v1h-1zM42 41h2v1h-2zM45 41h2v1h-2zM33 42h1v1h-1zM35 42h2v1h-2zM38 42h1v1h-1zM41 42h2v1h-2zM45 42h2v1h-2zM48 42h2v1h-2zM46 43h1v1h-1zM48 43h2v1h-2z"/><path fill="#277f8e" d="M14 3h2v1h-2zM20 4h3v1h-3zM26 4h1v1h-1zM28 5h1v1h-1zM30 5h1v1h-1zM42 5h1v1h-1zM45 6h1v1h-1zM5 35h1v1h-1zM6 36h1v1h-1zM8 36h1v1h-1zM6 37h1v1h-1zM10 38h1v1h-1zM14 38h1v1h-1zM12 39h4v1h-4zM15 40h3v1h-3zM18 41h1v1h-1zM22 41h1v1h-1zM24 41h1v1h-1zM20 42h3v1h-3zM24 42h4v1h-4zM29 42h1v1h-1zM34 42h1v1h-1zM23 43h1v1h-1zM29 43h1v1h-1zM35 43h1v1h-1zM37 43h1v1h-1zM47 43h1v1h-1zM40 44h1v1h-1zM43 44h1v1h-1zM46 44h1v1h-1zM49 44h1v1h-1z"/><path fill="#297b8e" d="M18 3h1v1h-1zM25 4h1v1h-1zM30 4h1v1h-1zM31 5h3v1h-3zM35 5h1v1h-1zM37 5h1v1h-1zM40 5h2v1h-2zM43 5h1v1h-1zM45 5h3v1h-3zM49 5h1v1h-1zM0 22h1v1h-1zM1 28h1v1h-1zM3 32h1v1h-1zM4 34h1v1h-1zM7 36h1v1h-1zM5 37h1v1h-1zM7 37h2v1h-2zM8 38h2v1h-2zM10 39h2v1h-2zM12 40h2v1h-2zM19 41h1v1h-1zM23 42h1v1h-1zM31 42h1v1h-1zM20 43h1v1h-1zM26 43h3v1h-3zM33 43h2v1h-2zM38 43h3v1h-3zM38 44h1v1h-1zM44 44h2v1h-2zM47 44h2v1h-2z"/><path fill="#2d708e" d="M23 3h1v1h-1zM26 3h1v1h-1zM32 4h3v1h-3zM42 4h2v1h-2zM47 4h2v1h-2zM0 25h1v1h-1zM2 32h1v1h-1zM2 33h1v1h-1zM3 34h1v1h-1zM4 35h1v1h-1zM6 38h1v1h-1zM9 40h1v1h-1zM13 41h1v1h-1zM15 42h2v1h-2zM17 43h1v1h-1zM19 43h1v1h-1zM21 44h1v1h-1zM25 44h1v1h-1zM28 44h1v1h-1zM34 45h1v1h-1zM36 45h1v1h-1zM38 45h2v1h-2zM42 45h1v1h-1zM45 45h1v1h-1z"/><path fill="#aadc32" d="M3 4h1v1h-1zM0 5h1v1h-1zM4 6h1v1h-1zM1 7h1v1h-1zM5 7h1v1h-1zM6 8h1v1h-1zM9 10h1v1h-1zM12 11h1v1h-1zM2 12h1v1h-1zM14 12h1v1h-1zM15 13h3v1h-3zM3 14h1v1h-1zM18 14h2v1h-2zM4 15h1v1h-1zM22 15h4v1h-4zM28 16h5v1h-5zM6 17h2v1h-2zM45 17h1v1h-1zM8 18h1v1h-1zM10 19h2v1h-2zM15 20h1v1h-1zM17 20h3v1h-3zM22 21h6v1h-6zM29 21h1v1h-1zM38 22h4v1h-4zM43 22h2v1h-2z"/><path fill="#77d153" d="M4 4h1v1h-1zM5 5h1v1h-1zM9 8h1v1h-1zM12 9h1v1h-1zM15 10h1v1h-1zM1 11h1v1h-1zM17 11h1v1h-1zM20 12h2v1h-2zM25 13h1v1h-1zM31 14h1v1h-1zM2 16h1v1h-1zM3 17h1v1h-1zM4 18h1v1h-1zM5 20h2v1h-2zM7 21h2v1h-2zM10 22h3v1h-3zM15 23h3v1h-3zM18 24h3v1h-3zM22 24h7v1h-7zM32 24h1v1h-1zM38 24h6v1h-6zM49 25h1v1h-1z"/><path fill="#52c569" d="M5 4h1v1h-1zM7 5h1v1h-1zM13 8h1v1h-1zM16 9h1v1h-1zM19 10h1v1h-1zM23 11h1v1h-1zM28 12h3v1h-3zM35 13h11v1h-11zM47 13h2v1h-2zM2 18h1v1h-1zM3 19h1v1h-1zM4 21h1v1h-1zM7 23h2v1h-2zM9 24h3v1h-3zM13 25h2v1h-2zM38 25h1v1h-1zM18 26h2v1h-2zM23 26h1v1h-1zM25 26h3v1h-3zM29 26h1v1h-1zM40 26h1v1h-1zM42 26h1v1h-1zM44 26h3v1h-3zM48 26h1v1h-1z"/><path fill="#26ad81" d="M8 4h1v1h-1zM10 5h1v1h-1zM14 6h1v1h-1zM17 7h1v1h-1zM20 8h2v1h-2zM26 9h2v1h-2zM32 10h1v1h-1zM1 18h1v1h-1zM2 22h1v1h-1zM3 24h1v1h-1zM4 25h1v1h-1zM6 27h2v1h-2zM7 28h1v1h-1zM10 28h4v1h-4zM15 29h4v1h-4zM22 29h1v1h-1zM26 29h2v1h-2zM29 29h6v1h-6zM36 29h8v1h-8zM45 29h1v1h-1zM17 30h6v1h-6zM24 30h2v1h-2zM27 30h1v1h-1zM45 30h1v1h-1z"/><path fill="#21a585" d="M9 4h1v1h-1zM12 5h1v1h-1zM19 7h1v1h-1zM26 8h2v1h-2zM31 9h2v1h-2zM42 10h2v1h-2zM49 10h1v1h-1zM1 19h1v1h-1zM3 25h1v1h-1zM4 27h1v1h-1zM5 28h2v1h-2zM7 29h3v1h-3zM12 30h3v1h-3zM33 30h3v1h-3zM37 30h1v1h-1zM40 30h1v1h-1zM16 31h3v1h-3zM21 31h1v1h-1zM24 31h5v1h-5zM35 31h2v1h-2zM40 31h1v1h-1zM44 31h3v1h-3zM48 31h2v1h-2zM19 32h1v1h-1z"/><path fill="#1f9a8a" d="M11 4h1v1h-1zM19 6h1v1h-1zM26 7h4v1h-4zM32 8h3v1h-3zM37 8h2v1h-2zM41 8h1v1h-1zM45 8h3v1h-3zM49 8h1v1h-1zM2 26h1v1h-1zM3 27h1v1h-1zM4 28h1v1h-1zM5 30h2v1h-2zM8 31h1v1h-1zM10 31h1v1h-1zM11 32h2v1h-2zM14 32h1v1h-1zM34 32h1v1h-1zM37 32h1v1h-1zM15 33h1v1h-1zM18 33h1v1h-1zM23 33h2v1h-2zM28 33h5v1h-5zM36 33h3v1h-3zM40 33h8v1h-8zM15 34h1v1h-1zM18 34h3v1h-3zM22 34h3v1h-3zM26 34h2v1h-2zM29 34h2v1h-2zM32 34h1v1h-1zM42 34h2v1h-2zM48 34h1v1h-1zM24 35h1v1h-1zM26 35h1v1h-1z"/><path fill="#dfe318" d="M2 5h1v1h-1zM2 6h1v1h-1zM5 11h1v1h-1zM5 12h1v1h-1zM10 14h1v1h-1zM10 15h1v1h-1zM32 19h2v1h-2zM35 19h1v1h-1zM37 19h3v1h-3zM42 19h1v1h-1zM45 20h5v1h-5z"/><path fill="#b5de2b" d="M3 5h1v1h-1zM4 7h1v1h-1zM7 9h1v1h-1zM8 10h1v1h-1zM2 11h1v1h-1zM10 11h2v1h-2zM3 12h1v1h-1zM13 12h1v1h-1zM3 13h1v1h-1zM14 13h1v1h-1zM4 14h1v1h-1zM16 14h2v1h-2zM18 15h4v1h-4zM5 16h2v1h-2zM22 16h6v1h-6zM8 17h1v1h-1zM33 17h12v1h-12zM46 17h4v1h-4zM9 18h2v1h-2zM12 19h5v1h-5zM20 20h5v1h-5zM28 21h1v1h-1zM30 21h6v1h-6zM37 21h1v1h-1zM42 22h1v1h-1zM45 22h4v1h-4z"/><path fill="#95d840" d="M4 5h1v1h-1zM5 6h1v1h-1zM6 7h1v1h-1zM1 9h1v1h-1zM9 9h1v1h-1zM11 10h1v1h-1zM14 11h1v1h-1zM16 12h1v1h-1zM18 13h2v1h-2zM2 14h1v1h-1zM23 14h2v1h-2zM3 15h1v1h-1zM29 15h3v1h-3zM44 16h6v1h-6zM5 18h1v1h-1zM10 20h1v1h-1zM14 21h4v1h-4zM20 22h5v1h-5zM26 22h3v1h-3zM39 23h1v1h-1zM41 23h5v1h-5z"/><path fill="#5ac864" d="M6 5h1v1h-1zM8 6h1v1h-1zM12 8h1v1h-1zM0 9h1v1h-1zM15 9h1v1h-1zM18 10h1v1h-1zM21 11h2v1h-2zM26 12h2v1h-2zM1 13h1v1h-1zM32 13h3v1h-3zM2 17h1v1h-1zM4 20h1v1h-1zM5 22h2v1h-2zM9 23h1v1h-1zM12 24h3v1h-3zM15 25h2v1h-2zM29 25h1v1h-1zM31 25h7v1h-7zM39 25h2v1h-2zM20 26h3v1h-3zM24 26h1v1h-1zM47 26h1v1h-1zM49 26h1v1h-1z"/><path fill="#1fa187" d="M13 5h2v1h-2zM16 6h3v1h-3zM20 7h1v1h-1zM28 8h3v1h-3zM33 9h1v1h-1zM35 9h1v1h-1zM37 9h5v1h-5zM43 9h5v1h-5zM49 9h1v1h-1zM0 15h1v1h-1zM2 24h1v1h-1zM3 26h1v1h-1zM10 29h1v1h-1zM10 30h2v1h-2zM14 31h2v1h-2zM29 31h6v1h-6zM37 31h3v1h-3zM41 31h3v1h-3zM47 31h1v1h-1zM16 32h1v1h-1zM18 32h1v1h-1zM20 32h3v1h-3zM24 32h3v1h-3zM28 32h1v1h-1zM30 32h1v1h-1zM39 32h3v1h-3zM45 32h5v1h-5zM20 33h1v1h-1z"/><path fill="#35b779" d="M10 6h1v1h-1zM14 7h1v1h-1zM17 8h1v1h-1zM20 9h3v1h-3zM26 10h1v1h-1zM31 11h1v1h-1zM1 16h1v1h-1zM3 22h1v1h-1zM5 25h3v1h-3zM8 26h3v1h-3zM13 27h3v1h-3zM37 27h1v1h-1zM19 28h3v1h-3zM23 28h4v1h-4zM44 28h4v1h-4zM49 28h1v1h-1z"/><path fill="#2ab07f" d="M12 6h2v1h-2zM15 7h2v1h-2zM19 8h1v1h-1zM25 9h1v1h-1zM30 10h2v1h-2zM35 11h5v1h-5zM41 11h2v1h-2zM44 11h2v1h-2zM48 11h1v1h-1zM0 13h1v1h-1zM1 17h1v1h-1zM3 23h1v1h-1zM5 26h1v1h-1zM8 27h2v1h-2zM14 28h1v1h-1zM30 28h1v1h-1zM32 28h8v1h-8zM19 29h3v1h-3zM23 29h3v1h-3zM28 29h1v1h-1zM44 29h1v1h-1zM46 29h2v1h-2zM49 29h1v1h-1z"/><path fill="#6ece58" d="M8 7h1v1h-1zM0 8h1v1h-1zM10 8h1v1h-1zM13 9h1v1h-1zM16 10h1v1h-1zM18 11h1v1h-1zM1 12h1v1h-1zM22 12h2v1h-2zM26 13h3v1h-3zM32 14h8v1h-8zM41 14h1v1h-1zM43 14h1v1h-1zM48 14h2v1h-2zM4 19h1v1h-1zM6 21h1v1h-1zM9 22h1v1h-1zM12 23h3v1h-3zM17 24h1v1h-1zM29 24h3v1h-3zM33 24h5v1h-5zM19 25h5v1h-5zM25 25h1v1h-1zM44 25h1v1h-1zM46 25h1v1h-1zM48 25h1v1h-1z"/><path fill="#8bd646" d="M8 8h1v1h-1zM10 9h1v1h-1zM12 10h1v1h-1zM15 11h1v1h-1zM17 12h2v1h-2zM20 13h2v1h-2zM25 14h3v1h-3zM32 15h3v1h-3zM38 15h1v1h-1zM3 16h1v1h-1zM4 17h1v1h-1zM6 19h2v1h-2zM8 20h2v1h-2zM11 21h3v1h-3zM16 22h4v1h-4zM20 23h1v1h-1zM22 23h3v1h-3zM26 23h13v1h-13zM40 23h1v1h-1zM48 24h2v1h-2z"/>
</g>
<path d="M483.58 200.2V360.4M486.76 200.2V360.4M489.93 200.2V360.4M493.11 200.2V360.4M496.29 200.2V360.4M499.47 200.2V360.4M502.65 200.2V360.4M505.82 200.2V360.4M509 200.2V360.4M512.18 200.2V360.4M515.36 200.2V360.4M518.54 200.2V360.4M521.71 200.2V360.4M524.89 200.2V360.4M528.07 200.2V360.4M531.25 200.2V360.4M534.43 200.2V360.4M537.6 200.2V360.4M540.78 200.2V360.4M543.96 200.2V360.4M547.14 200.2V360.4M550.32 200.2V360.4M553.49 200.2V360.4M556.67 200.2V360.4M559.85 200.2V360.4M563.03 200.2V360.4M566.21 200.2V360.4M569.38 200.2V360.4M572.56 200.2V360.4M575.74 200.2V360.4M578.92 200.2V360.4M582.1 200.2V360.4M585.27 200.2V360.4M588.45 200.2V360.4M591.63 200.2V360.4M594.81 200.2V360.4M597.99 200.2V360.4M601.16 200.2V360.4M604.34 200.2V360.4M607.52 200.2V360.4M610.7 200.2V360.4M613.88 200.2V360.4M617.05 200.2V360.4M620.23 200.2V360.4M623.41 200.2V360.4M626.59 200.2V360.4M629.77 200.2V360.4M632.94 200.2V360.4M636.12 200.2V360.4M480.4 357.23H639.3M480.4 354.06H639.3M480.4 350.89H639.3M480.4 347.72H639.3M480.4 344.55H639.3M480.4 341.38H639.3M480.4 338.21H639.3M480.4 335.04H639.3M480.4 331.87H639.3M480.4 328.7H639.3M480.4 325.53H639.3M480.4 322.36H639.3M480.4 319.19H639.3M480.4 316.02H639.3M480.4 312.85H639.3M480.4 309.68H639.3M480.4 306.51H639.3M480.4 303.34H639.3M480.4 300.17H639.3M480.4 297H639.3M480.4 293.83H639.3M480.4 290.66H639.3M480.4 287.49H639.3M480.4 284.32H639.3M480.4 281.15H639.3M480.4 277.98H639.3M480.4 274.81H639.3M480.4 271.64H639.3M480.4 268.47H639.3M480.4 265.3H639.3M480.4 262.13H639.3M480.4 258.96H639.3M480.4 255.79H639.3M480.4 252.62H639.3M480.4 249.45H639.3M480.4 246.28H639.3M480.4 243.11H639.3M480.4 239.94H639.3M480.4 236.77H639.3M480.4 233.6H639.3M480.4 230.43H639.3M480.4 227.26H639.3M480.4 224.09H639.3M480.4 220.92H639.3M480.4 217.75H639.3M480.4 214.58H639.3M480.4 211.41H639.3M480.4 208.24H639.3M480.4 205.07H639.3M480.4 201.9H639.3" stroke="#fff" stroke-opacity="0.16" stroke-width="0.4" fill="none"/>
</g>
<rect x="651.6" y="200.2" width="8.5" height="162.5" fill="url(#vir)"/>
<line x1="660.1" x2="661.6" y1="222.4" y2="222.4" stroke="#333" stroke-width="0.6"/>
<text transform="translate(662.1 224.4) scale(1.1 1)" font-size="6.5" text-anchor="start">10<tspan font-size="4.68" dx="0.4" dy="-2.0">−3</tspan></text>
<line x1="660.1" x2="661.6" y1="270" y2="270" stroke="#333" stroke-width="0.6"/>
<text transform="translate(662.1 272) scale(1.1 1)" font-size="6.5" text-anchor="start">10<tspan font-size="4.68" dx="0.4" dy="-2.0">−4</tspan></text>
<line x1="660.1" x2="661.6" y1="317.8" y2="317.8" stroke="#333" stroke-width="0.6"/>
<text transform="translate(662.1 319.8) scale(1.1 1)" font-size="6.5" text-anchor="start">10<tspan font-size="4.68" dx="0.4" dy="-2.0">−5</tspan></text>
<line x1="660.1" x2="661" y1="208.07" y2="208.07" stroke="#555" stroke-width="0.45"/>
<line x1="660.1" x2="661" y1="255.67" y2="255.67" stroke="#555" stroke-width="0.45"/>
<line x1="660.1" x2="661" y1="247.29" y2="247.29" stroke="#555" stroke-width="0.45"/>
<line x1="660.1" x2="661" y1="241.34" y2="241.34" stroke="#555" stroke-width="0.45"/>
<line x1="660.1" x2="661" y1="236.73" y2="236.73" stroke="#555" stroke-width="0.45"/>
<line x1="660.1" x2="661" y1="232.96" y2="232.96" stroke="#555" stroke-width="0.45"/>
<line x1="660.1" x2="661" y1="229.77" y2="229.77" stroke="#555" stroke-width="0.45"/>
<line x1="660.1" x2="661" y1="227.01" y2="227.01" stroke="#555" stroke-width="0.45"/>
<line x1="660.1" x2="661" y1="224.58" y2="224.58" stroke="#555" stroke-width="0.45"/>
<line x1="660.1" x2="661" y1="303.27" y2="303.27" stroke="#555" stroke-width="0.45"/>
<line x1="660.1" x2="661" y1="294.89" y2="294.89" stroke="#555" stroke-width="0.45"/>
<line x1="660.1" x2="661" y1="288.94" y2="288.94" stroke="#555" stroke-width="0.45"/>
<line x1="660.1" x2="661" y1="284.33" y2="284.33" stroke="#555" stroke-width="0.45"/>
<line x1="660.1" x2="661" y1="280.56" y2="280.56" stroke="#555" stroke-width="0.45"/>
<line x1="660.1" x2="661" y1="277.37" y2="277.37" stroke="#555" stroke-width="0.45"/>
<line x1="660.1" x2="661" y1="274.61" y2="274.61" stroke="#555" stroke-width="0.45"/>
<line x1="660.1" x2="661" y1="272.18" y2="272.18" stroke="#555" stroke-width="0.45"/>
<line x1="660.1" x2="661" y1="350.87" y2="350.87" stroke="#555" stroke-width="0.45"/>
<line x1="660.1" x2="661" y1="342.49" y2="342.49" stroke="#555" stroke-width="0.45"/>
<line x1="660.1" x2="661" y1="336.54" y2="336.54" stroke="#555" stroke-width="0.45"/>
<line x1="660.1" x2="661" y1="331.93" y2="331.93" stroke="#555" stroke-width="0.45"/>
<line x1="660.1" x2="661" y1="328.16" y2="328.16" stroke="#555" stroke-width="0.45"/>
<line x1="660.1" x2="661" y1="324.97" y2="324.97" stroke="#555" stroke-width="0.45"/>
<line x1="660.1" x2="661" y1="322.21" y2="322.21" stroke="#555" stroke-width="0.45"/>
<line x1="660.1" x2="661" y1="319.78" y2="319.78" stroke="#555" stroke-width="0.45"/>
<text transform="translate(681.2 282) rotate(-90)" font-size="8.6" text-anchor="middle" dominant-baseline="central">Density</text>
<text transform="translate(466.7 281.7) rotate(-90)" font-size="8.6" text-anchor="middle" dominant-baseline="central">V[25]</text>
<text transform="translate(560.6 385.9)" font-size="8.6" text-anchor="middle" dominant-baseline="central">True Energy [GeV]</text>
<text transform="translate(482.5 369.77) rotate(-45) scale(1.1 1)" font-size="6.5" text-anchor="middle" dominant-baseline="central">50</text>
<text transform="translate(514.28 372.58) rotate(-45) scale(1.1 1)" font-size="6.5" text-anchor="middle" dominant-baseline="central">1640</text>
<text transform="translate(546.06 372.58) rotate(-45) scale(1.1 1)" font-size="6.5" text-anchor="middle" dominant-baseline="central">3230</text>
<text transform="translate(577.84 372.58) rotate(-45) scale(1.1 1)" font-size="6.5" text-anchor="middle" dominant-baseline="central">4820</text>
<text transform="translate(609.62 372.58) rotate(-45) scale(1.1 1)" font-size="6.5" text-anchor="middle" dominant-baseline="central">6410</text>
<text transform="translate(641.4 372.58) rotate(-45) scale(1.1 1)" font-size="6.5" text-anchor="middle" dominant-baseline="central">8000</text>
<text transform="translate(474.4 199.5) rotate(-90) scale(1.1 1)" font-size="6.5" text-anchor="middle" dominant-baseline="central">2</text>
<text transform="translate(474.4 248.6) rotate(-90) scale(1.1 1)" font-size="6.5" text-anchor="middle" dominant-baseline="central">1</text>
<text transform="translate(474.4 297.3) rotate(-90) scale(1.1 1)" font-size="6.5" text-anchor="middle" dominant-baseline="central">1</text>
<text transform="translate(474.4 346.7) rotate(-90) scale(1.1 1)" font-size="6.5" text-anchor="middle" dominant-baseline="central">0</text>
<clipPath id="c6"><rect x="134.75" y="397.4" width="157.85" height="162.8"/></clipPath>
<g clip-path="url(#c6)"><g shape-rendering="crispEdges" transform="translate(134.75 558.6) scale(3.1570 -3.1500)">
<path fill="#eae51a" d="M0 0h3v1h-3z"/><path fill="#a0da39" d="M3 0h1v1h-1zM0 1h1v1h-1zM12 1h2v1h-2zM4 2h6v1h-6zM13 2h1v1h-1zM12 3h9v1h-9zM22 3h1v1h-1zM24 3h2v1h-2zM28 3h1v1h-1zM30 3h1v1h-1zM33 3h2v1h-2zM37 3h2v1h-2zM40 3h4v1h-4zM45 3h1v1h-1zM47 3h1v1h-1zM49 3h1v1h-1zM27 4h1v1h-1zM30 4h1v1h-1zM32 4h1v1h-1zM38 4h4v1h-4zM44 4h1v1h-1zM46 4h1v1h-1zM48 4h2v1h-2z"/><path fill="#42be71" d="M4 0h1v1h-1zM47 1h3v1h-3zM4 5h1v1h-1zM8 6h1v1h-1zM10 7h3v1h-3zM15 8h5v1h-5zM21 9h2v1h-2zM24 9h7v1h-7zM32 9h3v1h-3zM33 10h1v1h-1zM44 10h1v1h-1zM47 10h1v1h-1z"/><path fill="#23a983" d="M5 0h1v1h-1zM6 7h1v1h-1zM8 8h1v1h-1zM14 10h1v1h-1zM17 11h4v1h-4zM22 11h1v1h-1zM26 12h2v1h-2zM29 12h4v1h-4zM34 12h1v1h-1zM39 13h1v1h-1zM44 13h1v1h-1zM48 13h1v1h-1z"/><path fill="#1f9e89" d="M6 0h1v1h-1zM6 8h1v1h-1zM11 10h1v1h-1zM13 11h1v1h-1zM18 12h2v1h-2zM23 13h1v1h-1zM25 13h1v1h-1zM27 13h2v1h-2zM30 13h1v1h-1zM34 14h1v1h-1zM39 14h4v1h-4zM44 14h1v1h-1zM46 14h4v1h-4z"/><path fill="#20928c" d="M7 0h1v1h-1zM4 8h1v1h-1zM9 10h1v1h-1zM10 11h1v1h-1zM14 12h1v1h-1zM18 13h1v1h-1zM23 14h1v1h-1zM30 15h1v1h-1zM33 15h1v1h-1zM38 15h2v1h-2zM47 15h1v1h-1zM49 16h1v1h-1z"/><path fill="#24868e" d="M8 0h1v1h-1zM5 9h1v1h-1zM9 11h1v1h-1zM12 12h1v1h-1zM13 13h1v1h-1zM17 14h2v1h-2zM20 14h1v1h-1zM20 15h3v1h-3zM23 16h1v1h-1zM28 16h1v1h-1zM30 16h2v1h-2zM33 16h2v1h-2zM38 16h3v1h-3zM40 17h1v1h-1z"/><path fill="#26828e" d="M9 0h2v1h-2zM7 10h1v1h-1zM10 12h2v1h-2zM15 14h2v1h-2zM19 15h1v1h-1zM25 16h3v1h-3zM29 16h1v1h-1zM32 16h1v1h-1zM39 17h1v1h-1zM42 17h5v1h-5z"/><path fill="#2a778e" d="M11 0h1v1h-1zM15 0h3v1h-3zM19 0h2v1h-2zM5 10h1v1h-1zM7 11h1v1h-1zM10 13h1v1h-1zM15 15h1v1h-1zM23 17h1v1h-1zM26 17h1v1h-1zM29 18h1v1h-1zM31 18h1v1h-1zM33 18h3v1h-3zM38 18h1v1h-1zM40 18h1v1h-1zM46 19h1v1h-1zM48 19h2v1h-2z"/><path fill="#31688e" d="M12 0h1v1h-1zM35 0h1v1h-1zM39 0h1v1h-1zM7 12h1v1h-1zM9 13h1v1h-1zM12 15h2v1h-2zM16 16h1v1h-1zM19 17h1v1h-1zM20 18h1v1h-1zM23 18h1v1h-1zM25 19h1v1h-1zM27 19h2v1h-2zM36 19h1v1h-1zM38 19h1v1h-1zM28 20h1v1h-1zM39 20h2v1h-2zM42 20h1v1h-1zM44 20h1v1h-1zM47 20h1v1h-1zM49 20h1v1h-1zM44 21h1v1h-1z"/><path fill="#277f8e" d="M13 0h1v1h-1zM4 9h1v1h-1zM8 11h1v1h-1zM9 12h1v1h-1zM11 13h2v1h-2zM17 15h2v1h-2zM21 16h2v1h-2zM24 16h1v1h-1zM29 17h3v1h-3zM33 17h6v1h-6zM41 17h1v1h-1zM41 18h1v1h-1zM45 18h2v1h-2zM48 18h2v1h-2z"/><path fill="#365c8d" d="M14 0h1v1h-1zM47 0h1v1h-1zM49 0h1v1h-1zM4 11h2v1h-2zM7 13h2v1h-2zM11 15h1v1h-1zM19 19h1v1h-1zM25 20h3v1h-3zM30 20h1v1h-1zM33 21h1v1h-1zM38 21h2v1h-2zM43 21h1v1h-1zM46 22h2v1h-2z"/><path fill="#2c738e" d="M18 0h1v1h-1zM21 0h7v1h-7zM31 0h1v1h-1zM38 0h1v1h-1zM3 9h1v1h-1zM8 12h1v1h-1zM12 14h1v1h-1zM16 15h1v1h-1zM18 16h2v1h-2zM20 17h1v1h-1zM24 18h1v1h-1zM26 18h2v1h-2zM30 18h1v1h-1zM36 18h1v1h-1zM32 19h1v1h-1zM37 19h1v1h-1zM40 19h1v1h-1zM42 19h1v1h-1zM44 19h1v1h-1z"/><path fill="#2f6c8e" d="M28 0h1v1h-1zM30 0h1v1h-1zM41 0h1v1h-1zM45 0h1v1h-1zM2 8h1v1h-1zM4 10h1v1h-1zM14 15h1v1h-1zM18 17h1v1h-1zM21 17h2v1h-2zM26 19h1v1h-1zM34 19h2v1h-2zM41 19h1v1h-1zM38 20h1v1h-1zM45 20h2v1h-2zM48 21h1v1h-1z"/><path fill="#2d708e" d="M29 0h1v1h-1zM3 10h1v1h-1zM11 14h1v1h-1zM15 16h1v1h-1zM24 17h1v1h-1zM25 18h1v1h-1zM28 18h1v1h-1zM37 18h1v1h-1zM29 19h1v1h-1zM31 19h1v1h-1zM33 19h1v1h-1zM39 19h1v1h-1zM43 19h1v1h-1zM45 19h1v1h-1zM48 20h1v1h-1z"/><path fill="#3a538b" d="M32 0h1v1h-1zM1 7h1v1h-1zM2 9h1v1h-1zM14 17h1v1h-1zM15 18h2v1h-2zM19 20h2v1h-2zM31 20h1v1h-1zM23 21h1v1h-1zM27 21h1v1h-1zM35 21h1v1h-1zM45 21h1v1h-1zM29 22h1v1h-1zM38 22h2v1h-2zM42 22h1v1h-1zM49 23h1v1h-1z"/><path fill="#32648e" d="M33 0h2v1h-2zM36 0h1v1h-1zM42 0h1v1h-1zM44 0h1v1h-1zM0 4h1v1h-1zM6 11h1v1h-1zM12 16h1v1h-1zM14 16h1v1h-1zM16 17h1v1h-1zM17 18h2v1h-2zM24 19h1v1h-1zM30 19h1v1h-1zM33 20h1v1h-1zM35 20h1v1h-1zM41 20h1v1h-1zM43 20h1v1h-1zM41 21h1v1h-1zM47 21h1v1h-1zM49 21h1v1h-1z"/><path fill="#3d4e8a" d="M37 0h1v1h-1zM5 12h1v1h-1zM8 14h1v1h-1zM14 18h1v1h-1zM18 19h1v1h-1zM21 20h1v1h-1zM30 21h1v1h-1zM36 22h2v1h-2zM40 22h1v1h-1zM49 22h1v1h-1zM48 23h1v1h-1z"/><path fill="#404588" d="M40 0h1v1h-1zM46 0h1v1h-1zM15 19h2v1h-2zM17 20h2v1h-2zM22 20h1v1h-1zM22 21h1v1h-1zM24 21h1v1h-1zM28 21h1v1h-1zM41 22h1v1h-1zM33 23h1v1h-1zM36 23h1v1h-1zM38 23h3v1h-3zM43 23h1v1h-1zM46 24h1v1h-1zM39 30h1v1h-1zM45 31h1v1h-1z"/><path fill="#34608d" d="M43 0h1v1h-1zM6 12h1v1h-1zM10 14h1v1h-1zM13 16h1v1h-1zM15 17h1v1h-1zM17 17h1v1h-1zM19 18h1v1h-1zM21 18h2v1h-2zM20 19h1v1h-1zM23 19h1v1h-1zM23 20h1v1h-1zM29 20h1v1h-1zM32 20h1v1h-1zM34 20h1v1h-1zM36 20h2v1h-2zM32 21h1v1h-1zM36 21h1v1h-1zM40 21h1v1h-1zM42 21h1v1h-1zM46 21h1v1h-1z"/><path fill="#424086" d="M48 0h1v1h-1zM0 5h1v1h-1zM3 11h1v1h-1zM4 12h1v1h-1zM13 18h1v1h-1zM16 20h1v1h-1zM21 21h1v1h-1zM23 22h3v1h-3zM30 23h1v1h-1zM37 23h1v1h-1zM42 23h1v1h-1zM13 26h1v1h-1zM46 34h1v1h-1zM27 35h1v1h-1z"/><path fill="#d5e21a" d="M1 1h1v1h-1z"/><path fill="#cae11f" d="M2 1h5v1h-5z"/><path fill="#c0df25" d="M7 1h2v1h-2z"/><path fill="#b5de2b" d="M9 1h2v1h-2z"/><path fill="#aadc32" d="M11 1h1v1h-1zM10 2h3v1h-3zM14 2h36v1h-36zM21 3h1v1h-1zM23 3h1v1h-1zM26 3h2v1h-2zM29 3h1v1h-1zM31 3h2v1h-2zM35 3h2v1h-2zM39 3h1v1h-1zM44 3h1v1h-1zM46 3h1v1h-1zM48 3h1v1h-1z"/><path fill="#95d840" d="M14 1h2v1h-2zM3 2h1v1h-1zM8 3h4v1h-4zM19 4h8v1h-8zM28 4h2v1h-2zM31 4h1v1h-1zM33 4h5v1h-5zM42 4h2v1h-2zM45 4h1v1h-1zM47 4h1v1h-1z"/><path fill="#8bd646" d="M16 1h3v1h-3zM2 2h1v1h-1zM6 3h2v1h-2zM13 4h6v1h-6zM23 5h1v1h-1zM29 5h1v1h-1zM33 5h2v1h-2zM36 5h14v1h-14z"/><path fill="#81d34d" d="M19 1h2v1h-2zM5 3h1v1h-1zM10 4h3v1h-3zM18 5h1v1h-1zM20 5h3v1h-3zM24 5h5v1h-5zM30 5h3v1h-3zM35 5h1v1h-1zM47 6h1v1h-1z"/><path fill="#77d153" d="M21 1h4v1h-4zM1 2h1v1h-1zM3 3h2v1h-2zM9 4h1v1h-1zM13 5h5v1h-5zM19 5h1v1h-1zM24 6h6v1h-6zM31 6h16v1h-16zM48 6h2v1h-2z"/><path fill="#6ece58" d="M25 1h5v1h-5zM7 4h2v1h-2zM11 5h2v1h-2zM18 6h1v1h-1zM20 6h4v1h-4zM30 6h1v1h-1zM40 7h1v1h-1zM43 7h1v1h-1zM45 7h1v1h-1zM48 7h2v1h-2z"/><path fill="#65cb5e" d="M30 1h5v1h-5zM2 3h1v1h-1zM6 4h1v1h-1zM10 5h1v1h-1zM14 6h4v1h-4zM19 6h1v1h-1zM25 7h15v1h-15zM41 7h2v1h-2zM44 7h1v1h-1zM46 7h2v1h-2z"/><path fill="#5ac864" d="M35 1h3v1h-3zM4 4h2v1h-2zM8 5h2v1h-2zM12 6h2v1h-2zM19 7h6v1h-6zM31 8h2v1h-2zM37 8h1v1h-1zM40 8h1v1h-1zM42 8h2v1h-2zM45 8h5v1h-5z"/><path fill="#52c569" d="M38 1h6v1h-6zM3 4h1v1h-1zM6 5h2v1h-2zM10 6h2v1h-2zM15 7h4v1h-4zM23 8h8v1h-8zM33 8h4v1h-4zM38 8h2v1h-2zM41 8h1v1h-1zM44 8h1v1h-1zM47 9h1v1h-1z"/><path fill="#4ac16d" d="M44 1h3v1h-3zM1 3h1v1h-1zM5 5h1v1h-1zM9 6h1v1h-1zM13 7h2v1h-2zM20 8h3v1h-3zM31 9h1v1h-1zM35 9h12v1h-12zM48 9h2v1h-2z"/><path fill="#26ad81" d="M0 2h1v1h-1zM1 4h1v1h-1zM2 5h1v1h-1zM3 6h1v1h-1zM11 9h2v1h-2zM15 10h2v1h-2zM21 11h1v1h-1zM23 11h1v1h-1zM28 12h1v1h-1zM33 12h1v1h-1zM35 12h11v1h-11zM47 12h1v1h-1zM49 12h1v1h-1z"/><path fill="#218e8d" d="M0 3h1v1h-1zM6 9h1v1h-1zM8 10h1v1h-1zM13 12h1v1h-1zM14 13h1v1h-1zM16 13h2v1h-2zM21 14h2v1h-2zM26 15h4v1h-4zM31 15h2v1h-2zM35 15h1v1h-1zM37 15h1v1h-1zM44 16h1v1h-1zM46 16h3v1h-3z"/><path fill="#3bbb75" d="M2 4h1v1h-1zM3 5h1v1h-1zM6 6h2v1h-2zM13 8h2v1h-2zM18 9h3v1h-3zM23 9h1v1h-1zM28 10h1v1h-1zM34 10h10v1h-10zM45 10h2v1h-2zM48 10h2v1h-2z"/><path fill="#1f968b" d="M1 5h1v1h-1zM5 8h1v1h-1zM7 9h1v1h-1zM11 11h2v1h-2zM21 13h1v1h-1zM24 14h3v1h-3zM28 14h1v1h-1zM34 15h1v1h-1zM36 15h1v1h-1zM40 15h7v1h-7zM48 15h1v1h-1z"/><path fill="#440154" d="M0 6h1v1h-1zM0 8h1v1h-1zM2 11h1v1h-1zM2 12h1v1h-1zM2 15h1v1h-1zM4 15h1v1h-1zM7 15h1v1h-1zM4 16h1v1h-1zM6 16h1v1h-1zM9 18h1v1h-1zM4 19h1v1h-1zM6 20h1v1h-1zM10 20h2v1h-2zM13 20h1v1h-1zM16 21h2v1h-2zM5 22h1v1h-1zM11 22h1v1h-1zM13 22h1v1h-1zM15 23h1v1h-1zM13 24h1v1h-1zM16 24h1v1h-1zM19 24h1v1h-1zM22 24h3v1h-3zM28 24h2v1h-2zM36 24h1v1h-1zM8 25h1v1h-1zM20 25h1v1h-1zM25 25h1v1h-1zM31 25h1v1h-1zM33 25h1v1h-1zM37 25h1v1h-1zM40 25h3v1h-3zM45 25h1v1h-1zM17 26h1v1h-1zM19 26h1v1h-1zM28 26h1v1h-1zM31 26h1v1h-1zM37 26h1v1h-1zM42 26h1v1h-1zM9 27h1v1h-1zM12 27h1v1h-1zM24 27h1v1h-1zM30 27h1v1h-1zM38 27h2v1h-2zM42 27h1v1h-1zM44 27h1v1h-1zM46 27h2v1h-2zM16 28h1v1h-1zM19 28h1v1h-1zM27 28h1v1h-1zM30 28h1v1h-1zM36 28h1v1h-1zM39 28h1v1h-1zM48 28h1v1h-1zM20 29h1v1h-1zM23 29h1v1h-1zM25 29h2v1h-2zM29 29h2v1h-2zM34 29h2v1h-2zM42 29h1v1h-1zM9 30h1v1h-1zM17 30h1v1h-1zM26 30h2v1h-2zM29 30h3v1h-3zM34 30h2v1h-2zM40 30h1v1h-1zM22 31h1v1h-1zM25 31h1v1h-1zM32 31h1v1h-1zM40 31h2v1h-2zM43 31h1v1h-1zM46 31h1v1h-1zM28 32h1v1h-1zM34 32h1v1h-1zM47 32h1v1h-1zM49 32h1v1h-1zM25 33h1v1h-1zM18 34h1v1h-1zM26 34h1v1h-1zM47 34h3v1h-3zM34 35h1v1h-1zM48 35h1v1h-1zM36 36h1v1h-1zM43 36h1v1h-1zM28 37h1v1h-1zM49 37h1v1h-1zM40 38h1v1h-1zM32 39h1v1h-1zM40 39h1v1h-1zM44 41h1v1h-1z"/><path fill="#297b8e" d="M1 6h1v1h-1zM2 7h1v1h-1zM6 10h1v1h-1zM13 14h2v1h-2zM17 16h1v1h-1zM20 16h1v1h-1zM25 17h1v1h-1zM27 17h2v1h-2zM32 17h1v1h-1zM32 18h1v1h-1zM39 18h1v1h-1zM42 18h3v1h-3zM47 18h1v1h-1zM47 19h1v1h-1z"/><path fill="#1f9a8a" d="M2 6h1v1h-1zM3 7h1v1h-1zM8 9h1v1h-1zM10 10h1v1h-1zM15 12h3v1h-3zM19 13h2v1h-2zM22 13h1v1h-1zM27 14h1v1h-1zM29 14h5v1h-5zM35 14h4v1h-4zM43 14h1v1h-1zM45 14h1v1h-1zM49 15h1v1h-1z"/><path fill="#2ab07f" d="M4 6h1v1h-1zM7 7h1v1h-1zM9 8h1v1h-1zM13 9h1v1h-1zM17 10h3v1h-3zM24 11h2v1h-2zM27 11h7v1h-7zM46 12h1v1h-1zM48 12h1v1h-1z"/><path fill="#2fb47c" d="M5 6h1v1h-1zM10 8h1v1h-1zM14 9h1v1h-1zM20 10h3v1h-3zM26 11h1v1h-1zM35 11h2v1h-2zM38 11h2v1h-2z"/><path fill="#470d60" d="M0 7h1v1h-1zM3 13h2v1h-2zM2 14h2v1h-2zM5 14h1v1h-1zM8 16h1v1h-1zM9 17h1v1h-1zM12 19h1v1h-1zM7 21h1v1h-1zM6 22h1v1h-1zM15 22h1v1h-1zM21 22h1v1h-1zM7 24h2v1h-2zM35 24h1v1h-1zM15 25h1v1h-1zM18 25h1v1h-1zM27 25h1v1h-1zM21 26h1v1h-1zM30 26h1v1h-1zM32 26h1v1h-1zM43 26h1v1h-1zM18 27h1v1h-1zM26 27h1v1h-1zM37 27h1v1h-1zM28 28h1v1h-1zM32 28h1v1h-1zM37 28h1v1h-1zM44 28h2v1h-2zM49 28h1v1h-1zM36 29h1v1h-1zM39 29h1v1h-1zM49 29h1v1h-1zM10 30h1v1h-1zM32 30h1v1h-1zM44 30h2v1h-2zM48 30h1v1h-1zM17 31h1v1h-1zM27 31h1v1h-1zM49 31h1v1h-1zM36 33h1v1h-1zM43 33h1v1h-1zM32 35h1v1h-1zM30 36h1v1h-1zM42 36h1v1h-1zM35 37h1v1h-1zM15 40h1v1h-1zM17 40h1v1h-1zM27 40h1v1h-1zM36 40h1v1h-1zM40 40h1v1h-1zM44 40h1v1h-1zM49 40h1v1h-1zM29 41h2v1h-2zM38 41h1v1h-1zM15 42h1v1h-1zM17 42h1v1h-1zM32 42h1v1h-1zM47 42h1v1h-1zM32 43h1v1h-1zM36 43h2v1h-2zM45 43h1v1h-1zM49 43h1v1h-1zM26 45h1v1h-1zM44 45h1v1h-1zM48 46h1v1h-1zM37 47h1v1h-1zM42 47h1v1h-1zM42 48h1v1h-1zM26 50h1v1h-1zM43 50h1v1h-1zM47 50h1v1h-1z"/><path fill="#1fa187" d="M4 7h2v1h-2zM7 8h1v1h-1zM9 9h1v1h-1zM12 10h1v1h-1zM14 11h2v1h-2zM20 12h3v1h-3zM24 13h1v1h-1zM26 13h1v1h-1zM29 13h1v1h-1zM32 13h3v1h-3zM37 13h1v1h-1z"/><path fill="#35b779" d="M8 7h2v1h-2zM11 8h2v1h-2zM15 9h3v1h-3zM23 10h5v1h-5zM29 10h4v1h-4zM34 11h1v1h-1zM37 11h1v1h-1zM40 11h10v1h-10z"/><path fill="#482374" d="M1 8h1v1h-1zM6 14h1v1h-1zM7 19h1v1h-1zM15 21h1v1h-1zM19 22h1v1h-1zM6 23h1v1h-1zM21 23h1v1h-1zM10 24h1v1h-1zM12 24h1v1h-1zM26 25h1v1h-1zM32 25h1v1h-1zM43 25h1v1h-1zM15 27h1v1h-1zM38 29h1v1h-1zM23 30h1v1h-1zM37 30h1v1h-1zM25 32h1v1h-1zM36 32h2v1h-2zM37 33h1v1h-1zM33 34h1v1h-1zM26 35h1v1h-1zM44 36h1v1h-1zM37 39h1v1h-1z"/><path fill="#238a8d" d="M3 8h1v1h-1zM15 13h1v1h-1zM19 14h1v1h-1zM23 15h3v1h-3zM35 16h3v1h-3zM41 16h3v1h-3zM45 16h1v1h-1zM47 17h3v1h-3z"/><path fill="#21a585" d="M10 9h1v1h-1zM13 10h1v1h-1zM16 11h1v1h-1zM23 12h3v1h-3zM31 13h1v1h-1zM35 13h2v1h-2zM38 13h1v1h-1zM40 13h4v1h-4zM45 13h3v1h-3zM49 13h1v1h-1z"/><path fill="#472d7b" d="M1 10h1v1h-1zM6 18h1v1h-1zM8 18h1v1h-1zM4 20h1v1h-1zM19 21h2v1h-2zM14 22h1v1h-1zM22 22h1v1h-1zM16 23h1v1h-1zM26 23h1v1h-1zM32 23h1v1h-1zM30 24h1v1h-1zM37 24h1v1h-1zM42 24h1v1h-1zM23 25h1v1h-1zM44 25h1v1h-1zM46 25h1v1h-1zM33 26h1v1h-1zM36 26h1v1h-1zM45 26h1v1h-1zM23 27h1v1h-1zM34 27h1v1h-1zM9 28h1v1h-1zM38 28h1v1h-1zM19 29h1v1h-1zM26 32h1v1h-1zM37 37h1v1h-1z"/><path fill="#46327e" d="M2 10h1v1h-1zM1 12h1v1h-1zM8 15h1v1h-1zM3 16h1v1h-1zM9 16h1v1h-1zM4 17h1v1h-1zM7 17h1v1h-1zM10 17h1v1h-1zM12 18h1v1h-1zM10 19h1v1h-1zM14 19h1v1h-1zM12 20h1v1h-1zM9 21h2v1h-2zM27 23h2v1h-2zM21 24h1v1h-1zM27 24h1v1h-1zM32 24h1v1h-1zM44 24h2v1h-2zM47 24h1v1h-1zM14 25h1v1h-1zM29 25h1v1h-1zM39 25h1v1h-1zM14 28h1v1h-1zM23 28h1v1h-1zM41 28h1v1h-1zM46 28h1v1h-1zM17 29h1v1h-1zM28 29h1v1h-1zM23 31h1v1h-1zM38 32h2v1h-2zM19 35h1v1h-1z"/><path fill="#443b84" d="M3 12h1v1h-1zM11 17h1v1h-1zM17 19h1v1h-1zM8 20h1v1h-1zM27 22h1v1h-1zM30 22h1v1h-1zM13 23h1v1h-1zM19 23h1v1h-1zM29 23h1v1h-1zM35 23h1v1h-1zM45 23h1v1h-1zM34 24h1v1h-1zM48 24h1v1h-1zM33 27h1v1h-1zM15 28h1v1h-1zM46 32h1v1h-1zM30 35h1v1h-1zM37 36h1v1h-1z"/><path fill="#482878" d="M5 13h1v1h-1zM6 17h1v1h-1zM13 19h1v1h-1zM14 21h1v1h-1zM25 23h1v1h-1zM43 24h1v1h-1zM10 25h1v1h-1zM38 25h1v1h-1zM7 26h1v1h-1zM40 26h1v1h-1zM27 27h2v1h-2zM13 28h1v1h-1zM33 28h1v1h-1zM40 28h1v1h-1zM12 29h1v1h-1zM28 30h1v1h-1zM36 30h1v1h-1zM43 30h1v1h-1zM26 31h1v1h-1zM30 31h1v1h-1zM18 35h1v1h-1zM45 35h1v1h-1zM30 37h1v1h-1zM45 38h1v1h-1z"/><path fill="#38588c" d="M6 13h1v1h-1zM9 14h1v1h-1zM10 15h1v1h-1zM13 17h1v1h-1zM21 19h2v1h-2zM24 20h1v1h-1zM26 21h1v1h-1zM31 21h1v1h-1zM34 21h1v1h-1zM37 21h1v1h-1zM44 22h2v1h-2zM48 22h1v1h-1z"/><path fill="#481d6f" d="M4 14h1v1h-1zM5 16h1v1h-1zM5 18h1v1h-1zM14 20h1v1h-1zM5 21h1v1h-1zM13 21h1v1h-1zM14 24h1v1h-1zM17 24h1v1h-1zM25 24h1v1h-1zM38 24h1v1h-1zM40 24h1v1h-1zM13 25h1v1h-1zM16 25h1v1h-1zM30 25h1v1h-1zM18 26h1v1h-1zM22 28h1v1h-1zM25 28h1v1h-1zM16 29h1v1h-1zM21 30h1v1h-1zM25 30h1v1h-1zM13 31h1v1h-1zM31 31h1v1h-1zM34 31h1v1h-1zM42 31h1v1h-1zM31 32h1v1h-1zM48 33h1v1h-1zM35 35h1v1h-1zM42 35h1v1h-1zM47 35h1v1h-1zM32 36h1v1h-1z"/><path fill="#3e4989" d="M7 14h1v1h-1zM9 15h1v1h-1zM11 16h1v1h-1zM12 17h1v1h-1zM25 21h1v1h-1zM29 21h1v1h-1zM26 22h1v1h-1zM28 22h1v1h-1zM31 22h5v1h-5zM43 22h1v1h-1zM41 23h1v1h-1zM44 23h1v1h-1zM46 23h2v1h-2z"/><path fill="#48186a" d="M3 15h1v1h-1zM2 16h1v1h-1zM5 17h1v1h-1zM18 21h1v1h-1zM18 22h1v1h-1zM20 22h1v1h-1zM9 23h2v1h-2zM18 23h1v1h-1zM18 24h1v1h-1zM15 26h1v1h-1zM27 26h1v1h-1zM31 27h1v1h-1zM40 27h1v1h-1zM43 27h1v1h-1zM49 27h1v1h-1zM24 28h1v1h-1zM31 29h2v1h-2zM48 29h1v1h-1zM33 30h1v1h-1zM42 30h1v1h-1zM44 31h1v1h-1zM33 32h1v1h-1zM41 32h2v1h-2zM45 32h1v1h-1zM19 33h1v1h-1zM32 33h1v1h-1zM46 35h1v1h-1zM49 36h1v1h-1zM46 37h1v1h-1z"/><path fill="#453781" d="M6 15h1v1h-1zM10 16h1v1h-1zM3 17h1v1h-1zM8 19h1v1h-1zM15 20h1v1h-1zM12 21h1v1h-1zM14 23h1v1h-1zM31 23h1v1h-1zM34 23h1v1h-1zM39 24h1v1h-1zM41 24h1v1h-1zM49 24h1v1h-1zM48 25h2v1h-2zM24 26h1v1h-1zM39 26h1v1h-1zM20 28h1v1h-1zM40 29h1v1h-1zM21 31h1v1h-1zM16 32h2v1h-2zM31 33h1v1h-1zM33 33h1v1h-1zM41 34h1v1h-1zM33 35h1v1h-1zM33 36h1v1h-1zM30 38h1v1h-1zM48 38h1v1h-1z"/><path fill="#471365" d="M7 16h1v1h-1zM11 18h1v1h-1zM11 19h1v1h-1zM8 21h1v1h-1zM17 22h1v1h-1zM11 23h1v1h-1zM17 23h1v1h-1zM20 23h1v1h-1zM15 24h1v1h-1zM26 24h1v1h-1zM33 24h1v1h-1zM9 25h1v1h-1zM19 25h1v1h-1zM24 25h1v1h-1zM28 25h1v1h-1zM14 26h1v1h-1zM20 26h1v1h-1zM34 26h1v1h-1zM41 26h1v1h-1zM14 27h1v1h-1zM16 27h1v1h-1zM19 27h1v1h-1zM29 27h1v1h-1zM32 27h1v1h-1zM45 27h1v1h-1zM48 27h1v1h-1zM26 28h1v1h-1zM34 28h1v1h-1zM13 29h2v1h-2zM22 29h1v1h-1zM33 29h1v1h-1zM41 29h1v1h-1zM24 30h1v1h-1zM24 31h1v1h-1zM35 31h1v1h-1zM22 32h1v1h-1zM40 32h1v1h-1zM48 32h1v1h-1zM27 33h1v1h-1zM30 33h1v1h-1zM38 33h1v1h-1zM44 33h1v1h-1zM47 33h1v1h-1zM31 34h1v1h-1zM22 35h1v1h-1zM37 35h1v1h-1zM49 35h1v1h-1zM46 36h1v1h-1zM23 37h1v1h-1zM44 37h1v1h-1zM22 38h1v1h-1z"/><path fill="#46075a" d="M8 17h1v1h-1zM4 18h1v1h-1zM7 18h1v1h-1zM6 19h1v1h-1zM9 20h1v1h-1zM6 21h1v1h-1zM7 22h1v1h-1zM10 22h1v1h-1zM24 23h1v1h-1zM9 24h1v1h-1zM11 24h1v1h-1zM34 25h1v1h-1zM36 25h1v1h-1zM47 25h1v1h-1zM46 26h1v1h-1zM49 26h1v1h-1zM13 27h1v1h-1zM21 27h1v1h-1zM35 27h1v1h-1zM41 27h1v1h-1zM21 28h1v1h-1zM35 28h1v1h-1zM27 29h1v1h-1zM37 29h1v1h-1zM28 31h1v1h-1zM33 31h1v1h-1zM43 32h1v1h-1zM23 33h1v1h-1zM26 33h1v1h-1zM28 34h1v1h-1zM36 34h1v1h-1zM43 34h1v1h-1zM24 35h1v1h-1zM38 35h1v1h-1zM29 37h1v1h-1zM29 39h1v1h-1z"/>
</g>
<path d="M137.91 397.4V560.2M141.06 397.4V560.2M144.22 397.4V560.2M147.38 397.4V560.2M150.53 397.4V560.2M153.69 397.4V560.2M156.85 397.4V560.2M160.01 397.4V560.2M163.16 397.4V560.2M166.32 397.4V560.2M169.48 397.4V560.2M172.63 397.4V560.2M175.79 397.4V560.2M178.95 397.4V560.2M182.11 397.4V560.2M185.26 397.4V560.2M188.42 397.4V560.2M191.58 397.4V560.2M194.73 397.4V560.2M197.89 397.4V560.2M201.05 397.4V560.2M204.2 397.4V560.2M207.36 397.4V560.2M210.52 397.4V560.2M213.68 397.4V560.2M216.83 397.4V560.2M219.99 397.4V560.2M223.15 397.4V560.2M226.3 397.4V560.2M229.46 397.4V560.2M232.62 397.4V560.2M235.77 397.4V560.2M238.93 397.4V560.2M242.09 397.4V560.2M245.25 397.4V560.2M248.4 397.4V560.2M251.56 397.4V560.2M254.72 397.4V560.2M257.87 397.4V560.2M261.03 397.4V560.2M264.19 397.4V560.2M267.34 397.4V560.2M270.5 397.4V560.2M273.66 397.4V560.2M276.82 397.4V560.2M279.97 397.4V560.2M283.13 397.4V560.2M286.29 397.4V560.2M289.44 397.4V560.2M134.75 555.45H292.6M134.75 552.3H292.6M134.75 549.15H292.6M134.75 546H292.6M134.75 542.85H292.6M134.75 539.7H292.6M134.75 536.55H292.6M134.75 533.4H292.6M134.75 530.25H292.6M134.75 527.1H292.6M134.75 523.95H292.6M134.75 520.8H292.6M134.75 517.65H292.6M134.75 514.5H292.6M134.75 511.35H292.6M134.75 508.2H292.6M134.75 505.05H292.6M134.75 501.9H292.6M134.75 498.75H292.6M134.75 495.6H292.6M134.75 492.45H292.6M134.75 489.3H292.6M134.75 486.15H292.6M134.75 483H292.6M134.75 479.85H292.6M134.75 476.7H292.6M134.75 473.55H292.6M134.75 470.4H292.6M134.75 467.25H292.6M134.75 464.1H292.6M134.75 460.95H292.6M134.75 457.8H292.6M134.75 454.65H292.6M134.75 451.5H292.6M134.75 448.35H292.6M134.75 445.2H292.6M134.75 442.05H292.6M134.75 438.9H292.6M134.75 435.75H292.6M134.75 432.6H292.6M134.75 429.45H292.6M134.75 426.3H292.6M134.75 423.15H292.6M134.75 420H292.6M134.75 416.85H292.6M134.75 413.7H292.6M134.75 410.55H292.6M134.75 407.4H292.6M134.75 404.25H292.6M134.75 401.1H292.6M134.75 397.95H292.6" stroke="#fff" stroke-opacity="0.16" stroke-width="0.4" fill="none"/>
</g>
<rect x="304.1" y="398.4" width="8.4" height="161.8" fill="url(#vir)"/>
<line x1="312.5" x2="314" y1="406.1" y2="406.1" stroke="#333" stroke-width="0.6"/>
<text transform="translate(314.5 408.1) scale(1.1 1)" font-size="6.5" text-anchor="start">10<tspan font-size="4.68" dx="0.4" dy="-2.0">−2</tspan></text>
<line x1="312.5" x2="314" y1="446.1" y2="446.1" stroke="#333" stroke-width="0.6"/>
<text transform="translate(314.5 448.1) scale(1.1 1)" font-size="6.5" text-anchor="start">10<tspan font-size="4.68" dx="0.4" dy="-2.0">−3</tspan></text>
<line x1="312.5" x2="314" y1="484.7" y2="484.7" stroke="#333" stroke-width="0.6"/>
<text transform="translate(314.5 486.7) scale(1.1 1)" font-size="6.5" text-anchor="start">10<tspan font-size="4.68" dx="0.4" dy="-2.0">−4</tspan></text>
<line x1="312.5" x2="314" y1="523.6" y2="523.6" stroke="#333" stroke-width="0.6"/>
<text transform="translate(314.5 525.6) scale(1.1 1)" font-size="6.5" text-anchor="start">10<tspan font-size="4.68" dx="0.4" dy="-2.0">−5</tspan></text>
<line x1="312.5" x2="313.4" y1="434.06" y2="434.06" stroke="#555" stroke-width="0.45"/>
<line x1="312.5" x2="313.4" y1="427.02" y2="427.02" stroke="#555" stroke-width="0.45"/>
<line x1="312.5" x2="313.4" y1="422.02" y2="422.02" stroke="#555" stroke-width="0.45"/>
<line x1="312.5" x2="313.4" y1="418.14" y2="418.14" stroke="#555" stroke-width="0.45"/>
<line x1="312.5" x2="313.4" y1="414.97" y2="414.97" stroke="#555" stroke-width="0.45"/>
<line x1="312.5" x2="313.4" y1="412.3" y2="412.3" stroke="#555" stroke-width="0.45"/>
<line x1="312.5" x2="313.4" y1="409.98" y2="409.98" stroke="#555" stroke-width="0.45"/>
<line x1="312.5" x2="313.4" y1="407.93" y2="407.93" stroke="#555" stroke-width="0.45"/>
<line x1="312.5" x2="313.4" y1="474.06" y2="474.06" stroke="#555" stroke-width="0.45"/>
<line x1="312.5" x2="313.4" y1="467.02" y2="467.02" stroke="#555" stroke-width="0.45"/>
<line x1="312.5" x2="313.4" y1="462.02" y2="462.02" stroke="#555" stroke-width="0.45"/>
<line x1="312.5" x2="313.4" y1="458.14" y2="458.14" stroke="#555" stroke-width="0.45"/>
<line x1="312.5" x2="313.4" y1="454.97" y2="454.97" stroke="#555" stroke-width="0.45"/>
<line x1="312.5" x2="313.4" y1="452.3" y2="452.3" stroke="#555" stroke-width="0.45"/>
<line x1="312.5" x2="313.4" y1="449.98" y2="449.98" stroke="#555" stroke-width="0.45"/>
<line x1="312.5" x2="313.4" y1="447.93" y2="447.93" stroke="#555" stroke-width="0.45"/>
<line x1="312.5" x2="313.4" y1="514.06" y2="514.06" stroke="#555" stroke-width="0.45"/>
<line x1="312.5" x2="313.4" y1="507.02" y2="507.02" stroke="#555" stroke-width="0.45"/>
<line x1="312.5" x2="313.4" y1="502.02" y2="502.02" stroke="#555" stroke-width="0.45"/>
<line x1="312.5" x2="313.4" y1="498.14" y2="498.14" stroke="#555" stroke-width="0.45"/>
<line x1="312.5" x2="313.4" y1="494.97" y2="494.97" stroke="#555" stroke-width="0.45"/>
<line x1="312.5" x2="313.4" y1="492.3" y2="492.3" stroke="#555" stroke-width="0.45"/>
<line x1="312.5" x2="313.4" y1="489.98" y2="489.98" stroke="#555" stroke-width="0.45"/>
<line x1="312.5" x2="313.4" y1="487.93" y2="487.93" stroke="#555" stroke-width="0.45"/>
<line x1="312.5" x2="313.4" y1="554.06" y2="554.06" stroke="#555" stroke-width="0.45"/>
<line x1="312.5" x2="313.4" y1="547.02" y2="547.02" stroke="#555" stroke-width="0.45"/>
<line x1="312.5" x2="313.4" y1="542.02" y2="542.02" stroke="#555" stroke-width="0.45"/>
<line x1="312.5" x2="313.4" y1="538.14" y2="538.14" stroke="#555" stroke-width="0.45"/>
<line x1="312.5" x2="313.4" y1="534.97" y2="534.97" stroke="#555" stroke-width="0.45"/>
<line x1="312.5" x2="313.4" y1="532.3" y2="532.3" stroke="#555" stroke-width="0.45"/>
<line x1="312.5" x2="313.4" y1="529.98" y2="529.98" stroke="#555" stroke-width="0.45"/>
<line x1="312.5" x2="313.4" y1="527.93" y2="527.93" stroke="#555" stroke-width="0.45"/>
<text transform="translate(333.8 479.2) rotate(-90)" font-size="8.6" text-anchor="middle" dominant-baseline="central">Density</text>
<text transform="translate(119.4 479.4) rotate(-90)" font-size="8.6" text-anchor="middle" dominant-baseline="central">V[26]</text>
<text transform="translate(214.1 582.6)" font-size="8.6" text-anchor="middle" dominant-baseline="central">True Energy [GeV]</text>
<text transform="translate(136.2 567.47) rotate(-45) scale(1.1 1)" font-size="6.5" text-anchor="middle" dominant-baseline="central">50</text>
<text transform="translate(167.76 570.28) rotate(-45) scale(1.1 1)" font-size="6.5" text-anchor="middle" dominant-baseline="central">1640</text>
<text transform="translate(199.32 570.28) rotate(-45) scale(1.1 1)" font-size="6.5" text-anchor="middle" dominant-baseline="central">3230</text>
<text transform="translate(230.88 570.28) rotate(-45) scale(1.1 1)" font-size="6.5" text-anchor="middle" dominant-baseline="central">4820</text>
<text transform="translate(262.44 570.28) rotate(-45) scale(1.1 1)" font-size="6.5" text-anchor="middle" dominant-baseline="central">6410</text>
<text transform="translate(294 570.28) rotate(-45) scale(1.1 1)" font-size="6.5" text-anchor="middle" dominant-baseline="central">8000</text>
<text transform="translate(132.8 398.4) scale(1.1 1)" font-size="6.5" text-anchor="end" dominant-baseline="central">83</text>
<text transform="translate(132.8 447.1) scale(1.1 1)" font-size="6.5" text-anchor="end" dominant-baseline="central">58</text>
<text transform="translate(132.6 495.8) scale(1.1 1)" font-size="6.5" text-anchor="end" dominant-baseline="central">33</text>
<text transform="translate(132.8 544.5) scale(1.1 1)" font-size="6.5" text-anchor="end" dominant-baseline="central">8</text>
<clipPath id="c7"><rect x="369.7" y="401.8" width="155" height="158.8"/></clipPath>
<g clip-path="url(#c7)"><g shape-rendering="crispEdges" transform="translate(369.7 559.2) scale(3.1000 -3.1000)">
<path fill="#eae51a" d="M0 0h9v1h-9zM10 0h4v1h-4zM15 0h35v1h-35z"/><path fill="#f4e61e" d="M9 0h1v1h-1zM14 0h1v1h-1z"/><path fill="#2d708e" d="M0 1h1v1h-1zM8 8h1v1h-1zM22 11h1v1h-1zM24 11h2v1h-2zM27 11h1v1h-1zM38 11h1v1h-1zM35 12h1v1h-1zM48 13h1v1h-1z"/><path fill="#23a983" d="M1 1h1v1h-1zM25 3h1v1h-1zM29 3h2v1h-2zM32 3h4v1h-4zM37 3h1v1h-1zM41 3h2v1h-2zM45 3h1v1h-1zM48 3h1v1h-1z"/><path fill="#3bbb75" d="M2 1h1v1h-1zM9 2h4v1h-4zM14 2h1v1h-1z"/><path fill="#5ac864" d="M3 1h1v1h-1zM49 2h1v1h-1z"/><path fill="#65cb5e" d="M4 1h2v1h-2z"/><path fill="#6ece58" d="M6 1h1v1h-1z"/><path fill="#77d153" d="M7 1h2v1h-2z"/><path fill="#81d34d" d="M9 1h1v1h-1z"/><path fill="#8bd646" d="M10 1h5v1h-5zM16 1h1v1h-1z"/><path fill="#95d840" d="M15 1h1v1h-1zM17 1h8v1h-8zM26 1h1v1h-1zM28 1h1v1h-1z"/><path fill="#a0da39" d="M25 1h1v1h-1zM27 1h1v1h-1zM29 1h4v1h-4zM35 1h1v1h-1z"/><path fill="#aadc32" d="M33 1h2v1h-2zM36 1h13v1h-13z"/><path fill="#b5de2b" d="M49 1h1v1h-1z"/><path fill="#482878" d="M0 2h1v1h-1zM8 11h1v1h-1zM7 12h1v1h-1zM17 13h1v1h-1zM16 14h2v1h-2zM32 14h1v1h-1zM23 15h1v1h-1zM9 16h1v1h-1zM11 16h1v1h-1zM35 16h1v1h-1zM41 17h1v1h-1zM46 18h1v1h-1zM48 18h1v1h-1zM13 19h1v1h-1zM18 19h1v1h-1zM20 19h1v1h-1zM25 19h1v1h-1zM34 19h1v1h-1zM44 20h1v1h-1zM30 22h1v1h-1zM34 25h1v1h-1zM40 32h1v1h-1z"/><path fill="#453781" d="M1 2h1v1h-1zM4 7h1v1h-1zM5 8h1v1h-1zM11 12h1v1h-1zM13 13h1v1h-1zM16 13h1v1h-1zM10 14h1v1h-1zM21 15h1v1h-1zM24 15h1v1h-1zM27 15h1v1h-1zM31 16h1v1h-1zM25 17h1v1h-1zM27 18h1v1h-1zM42 18h1v1h-1zM46 20h1v1h-1zM25 22h1v1h-1zM26 23h1v1h-1zM40 24h1v1h-1z"/><path fill="#26ad81" d="M2 2h2v1h-2z"/><path fill="#2ab07f" d="M4 2h2v1h-2z"/><path fill="#2fb47c" d="M6 2h2v1h-2z"/><path fill="#35b779" d="M8 2h1v1h-1z"/><path fill="#42be71" d="M13 2h1v1h-1zM15 2h8v1h-8z"/><path fill="#4ac16d" d="M23 2h11v1h-11zM35 2h2v1h-2zM40 2h1v1h-1z"/><path fill="#52c569" d="M34 2h1v1h-1zM37 2h3v1h-3zM41 2h8v1h-8z"/><path fill="#481d6f" d="M1 3h1v1h-1zM8 10h1v1h-1zM9 11h1v1h-1zM13 12h1v1h-1zM10 13h3v1h-3zM14 13h1v1h-1zM15 15h1v1h-1zM22 16h1v1h-1zM37 16h1v1h-1zM32 17h1v1h-1zM35 17h1v1h-1zM26 19h1v1h-1zM10 20h1v1h-1zM14 20h1v1h-1zM22 20h1v1h-1zM37 21h1v1h-1zM47 21h1v1h-1zM23 22h1v1h-1zM37 22h1v1h-1zM17 23h1v1h-1zM45 23h1v1h-1zM33 24h1v1h-1zM41 28h1v1h-1zM27 31h1v1h-1z"/><path fill="#46075a" d="M2 3h1v1h-1zM2 4h1v1h-1zM2 5h1v1h-1zM3 8h1v1h-1zM7 10h1v1h-1zM15 13h1v1h-1zM19 13h1v1h-1zM14 14h1v1h-1zM21 14h1v1h-1zM8 15h1v1h-1zM10 15h1v1h-1zM13 15h1v1h-1zM20 15h1v1h-1zM32 15h1v1h-1zM14 16h2v1h-2zM19 16h2v1h-2zM24 16h1v1h-1zM34 16h1v1h-1zM42 16h1v1h-1zM46 16h1v1h-1zM49 16h1v1h-1zM12 17h1v1h-1zM18 17h1v1h-1zM23 17h1v1h-1zM30 17h1v1h-1zM44 17h1v1h-1zM48 17h1v1h-1zM15 18h1v1h-1zM25 18h2v1h-2zM29 18h2v1h-2zM36 18h1v1h-1zM39 18h1v1h-1zM43 18h1v1h-1zM11 19h1v1h-1zM24 19h1v1h-1zM33 19h1v1h-1zM35 19h1v1h-1zM19 20h1v1h-1zM31 20h1v1h-1zM35 20h1v1h-1zM38 20h1v1h-1zM40 20h1v1h-1zM16 21h1v1h-1zM18 21h2v1h-2zM22 21h1v1h-1zM26 21h2v1h-2zM29 21h1v1h-1zM33 21h1v1h-1zM39 21h1v1h-1zM44 21h1v1h-1zM46 21h1v1h-1zM14 22h2v1h-2zM17 22h1v1h-1zM19 22h1v1h-1zM36 22h1v1h-1zM43 22h1v1h-1zM47 22h1v1h-1zM19 23h1v1h-1zM31 23h1v1h-1zM34 23h1v1h-1zM44 23h1v1h-1zM46 23h2v1h-2zM16 24h1v1h-1zM21 24h1v1h-1zM37 24h1v1h-1zM39 24h1v1h-1zM45 24h1v1h-1zM23 25h1v1h-1zM26 25h1v1h-1zM30 25h1v1h-1zM41 25h1v1h-1zM24 26h1v1h-1zM38 26h1v1h-1zM40 26h1v1h-1zM25 27h1v1h-1zM34 27h1v1h-1zM45 27h1v1h-1zM31 28h2v1h-2zM35 29h1v1h-1zM29 30h1v1h-1zM25 31h1v1h-1zM39 32h1v1h-1zM42 32h1v1h-1zM44 32h1v1h-1zM41 33h1v1h-1z"/><path fill="#1f968b" d="M3 3h3v1h-3zM21 4h1v1h-1zM24 4h1v1h-1zM26 4h1v1h-1zM34 4h3v1h-3zM39 4h1v1h-1zM41 4h1v1h-1zM47 4h3v1h-3z"/><path fill="#1f9a8a" d="M6 3h2v1h-2zM10 3h1v1h-1z"/><path fill="#1f9e89" d="M8 3h2v1h-2zM11 3h4v1h-4z"/><path fill="#21a585" d="M15 3h1v1h-1zM18 3h1v1h-1zM21 3h4v1h-4zM26 3h3v1h-3zM31 3h1v1h-1zM36 3h1v1h-1zM38 3h3v1h-3zM43 3h2v1h-2zM46 3h2v1h-2zM49 3h1v1h-1z"/><path fill="#1fa187" d="M16 3h2v1h-2zM19 3h2v1h-2z"/><path fill="#277f8e" d="M3 4h1v1h-1zM5 6h1v1h-1zM8 6h1v1h-1zM11 6h1v1h-1zM13 6h3v1h-3zM17 6h1v1h-1zM19 6h1v1h-1zM21 6h1v1h-1zM26 6h3v1h-3zM35 6h1v1h-1zM12 7h1v1h-1zM14 7h7v1h-7zM24 7h1v1h-1zM27 7h3v1h-3zM31 7h1v1h-1zM39 7h1v1h-1zM46 7h1v1h-1zM49 7h1v1h-1zM13 8h1v1h-1zM21 8h1v1h-1zM23 8h3v1h-3zM28 8h1v1h-1zM32 8h2v1h-2zM35 8h2v1h-2zM38 8h1v1h-1zM42 8h1v1h-1zM44 8h2v1h-2zM48 8h1v1h-1zM18 9h2v1h-2zM21 9h1v1h-1zM26 9h1v1h-1zM28 9h1v1h-1zM30 9h1v1h-1zM32 9h2v1h-2zM35 9h1v1h-1zM37 9h1v1h-1zM40 9h1v1h-1zM43 9h2v1h-2zM46 9h1v1h-1zM48 9h2v1h-2zM35 10h1v1h-1zM38 10h3v1h-3zM46 10h1v1h-1zM49 10h1v1h-1zM44 11h1v1h-1zM46 11h1v1h-1zM48 11h1v1h-1z"/><path fill="#26828e" d="M4 4h1v1h-1zM6 5h2v1h-2zM9 5h1v1h-1zM11 5h2v1h-2zM15 5h1v1h-1zM18 5h1v1h-1zM7 6h1v1h-1zM9 6h1v1h-1zM12 6h1v1h-1zM16 6h1v1h-1zM18 6h1v1h-1zM22 6h2v1h-2zM29 6h1v1h-1zM31 6h2v1h-2zM36 6h1v1h-1zM41 6h1v1h-1zM43 6h1v1h-1zM45 6h2v1h-2zM49 6h1v1h-1zM11 7h1v1h-1zM13 7h1v1h-1zM23 7h1v1h-1zM30 7h1v1h-1zM32 7h7v1h-7zM40 7h4v1h-4zM45 7h1v1h-1zM47 7h2v1h-2zM20 8h1v1h-1zM26 8h2v1h-2zM29 8h1v1h-1zM31 8h1v1h-1zM34 8h1v1h-1zM39 8h2v1h-2zM43 8h1v1h-1zM46 8h1v1h-1zM49 8h1v1h-1zM29 9h1v1h-1zM34 9h1v1h-1zM36 9h1v1h-1zM41 9h1v1h-1zM45 9h1v1h-1zM47 9h1v1h-1zM43 10h1v1h-1zM48 10h1v1h-1z"/><path fill="#24868e" d="M5 4h2v1h-2zM8 5h1v1h-1zM10 5h1v1h-1zM16 5h2v1h-2zM19 5h1v1h-1zM22 5h1v1h-1zM24 5h2v1h-2zM28 5h1v1h-1zM30 5h1v1h-1zM39 5h1v1h-1zM20 6h1v1h-1zM24 6h2v1h-2zM30 6h1v1h-1zM33 6h2v1h-2zM38 6h1v1h-1zM40 6h1v1h-1zM42 6h1v1h-1zM44 6h1v1h-1zM48 6h1v1h-1zM25 7h2v1h-2zM44 7h1v1h-1zM41 8h1v1h-1z"/><path fill="#238a8d" d="M7 4h2v1h-2zM11 4h1v1h-1zM13 5h2v1h-2zM20 5h2v1h-2zM23 5h1v1h-1zM26 5h2v1h-2zM32 5h1v1h-1zM34 5h2v1h-2zM38 5h1v1h-1zM40 5h3v1h-3zM45 5h1v1h-1zM39 6h1v1h-1zM47 6h1v1h-1z"/><path fill="#218e8d" d="M9 4h2v1h-2zM12 4h1v1h-1zM19 4h1v1h-1zM25 4h1v1h-1zM32 4h1v1h-1zM29 5h1v1h-1zM31 5h1v1h-1zM36 5h2v1h-2zM43 5h2v1h-2zM46 5h4v1h-4z"/><path fill="#20928c" d="M13 4h6v1h-6zM20 4h1v1h-1zM22 4h2v1h-2zM27 4h5v1h-5zM33 4h1v1h-1zM37 4h2v1h-2zM40 4h1v1h-1zM42 4h5v1h-5zM33 5h1v1h-1z"/><path fill="#34608d" d="M3 5h1v1h-1zM7 8h1v1h-1zM18 11h1v1h-1zM19 12h1v1h-1zM21 12h1v1h-1zM23 12h1v1h-1zM25 12h1v1h-1zM42 13h1v1h-1zM48 14h1v1h-1z"/><path fill="#297b8e" d="M4 5h2v1h-2zM6 6h1v1h-1zM10 6h1v1h-1zM37 6h1v1h-1zM7 7h1v1h-1zM9 7h1v1h-1zM21 7h2v1h-2zM11 8h2v1h-2zM15 8h1v1h-1zM18 8h2v1h-2zM22 8h1v1h-1zM30 8h1v1h-1zM37 8h1v1h-1zM47 8h1v1h-1zM12 9h1v1h-1zM15 9h2v1h-2zM20 9h1v1h-1zM22 9h2v1h-2zM25 9h1v1h-1zM27 9h1v1h-1zM31 9h1v1h-1zM38 9h2v1h-2zM20 10h1v1h-1zM22 10h1v1h-1zM26 10h1v1h-1zM28 10h2v1h-2zM31 10h1v1h-1zM33 10h2v1h-2zM36 10h1v1h-1zM42 10h1v1h-1zM44 10h2v1h-2zM30 11h1v1h-1zM33 11h2v1h-2zM36 11h1v1h-1zM45 11h1v1h-1zM47 11h1v1h-1zM49 11h1v1h-1zM43 12h1v1h-1zM47 12h3v1h-3z"/><path fill="#472d7b" d="M2 6h1v1h-1zM7 11h1v1h-1zM10 11h1v1h-1zM14 15h1v1h-1zM21 16h1v1h-1zM17 17h1v1h-1zM34 17h1v1h-1zM8 18h1v1h-1zM44 18h1v1h-1zM16 19h1v1h-1zM36 19h1v1h-1zM39 19h1v1h-1zM48 19h2v1h-2zM25 20h1v1h-1zM13 22h1v1h-1zM21 22h1v1h-1zM24 22h1v1h-1zM41 22h1v1h-1zM22 23h1v1h-1zM33 25h1v1h-1zM37 25h1v1h-1zM44 25h1v1h-1zM20 26h1v1h-1zM29 29h1v1h-1z"/><path fill="#424086" d="M3 6h1v1h-1zM15 12h1v1h-1zM28 15h1v1h-1zM30 15h1v1h-1zM33 15h1v1h-1zM40 16h1v1h-1zM37 17h1v1h-1zM46 17h1v1h-1zM24 20h1v1h-1z"/><path fill="#3a538b" d="M4 6h1v1h-1zM5 7h1v1h-1zM11 10h1v1h-1zM15 11h1v1h-1zM17 11h1v1h-1zM17 12h1v1h-1zM20 12h1v1h-1zM23 13h1v1h-1zM25 13h1v1h-1zM33 14h1v1h-1zM37 14h1v1h-1zM43 14h1v1h-1zM44 15h2v1h-2zM47 15h1v1h-1z"/><path fill="#470d60" d="M3 7h1v1h-1zM10 12h1v1h-1zM8 13h1v1h-1zM22 14h1v1h-1zM29 14h1v1h-1zM22 15h1v1h-1zM39 17h2v1h-2zM42 17h1v1h-1zM49 17h1v1h-1zM44 19h1v1h-1zM21 20h1v1h-1zM47 20h1v1h-1zM35 21h1v1h-1zM45 21h1v1h-1zM45 22h1v1h-1zM29 25h1v1h-1zM31 27h1v1h-1zM30 29h1v1h-1zM36 29h1v1h-1zM42 29h1v1h-1zM45 29h4v1h-4zM31 30h1v1h-1zM34 30h1v1h-1zM44 30h1v1h-1zM48 30h1v1h-1zM26 31h1v1h-1zM29 31h1v1h-1zM31 31h2v1h-2zM36 31h1v1h-1zM39 31h2v1h-2zM44 31h1v1h-1zM49 31h1v1h-1zM27 32h1v1h-1zM29 32h1v1h-1zM35 32h1v1h-1zM37 32h1v1h-1zM31 33h1v1h-1zM39 33h1v1h-1zM46 33h1v1h-1zM23 34h1v1h-1zM37 34h1v1h-1zM41 34h1v1h-1zM44 34h1v1h-1zM30 35h1v1h-1zM37 35h1v1h-1zM39 35h1v1h-1zM42 35h1v1h-1zM39 36h1v1h-1zM49 36h1v1h-1zM36 37h2v1h-2zM49 37h1v1h-1zM31 38h1v1h-1zM37 38h1v1h-1zM49 38h1v1h-1zM36 39h1v1h-1zM46 39h1v1h-1zM42 40h1v1h-1zM47 40h1v1h-1zM43 41h1v1h-1zM47 41h1v1h-1zM43 45h1v1h-1zM45 49h1v1h-1zM40 50h1v1h-1zM42 50h1v1h-1z"/><path fill="#2f6c8e" d="M6 7h1v1h-1zM14 10h3v1h-3zM23 11h1v1h-1zM28 12h1v1h-1zM30 12h1v1h-1zM32 12h2v1h-2zM43 13h1v1h-1z"/><path fill="#2a778e" d="M8 7h1v1h-1zM10 7h1v1h-1zM9 8h2v1h-2zM14 8h1v1h-1zM16 8h2v1h-2zM14 9h1v1h-1zM17 9h1v1h-1zM24 9h1v1h-1zM42 9h1v1h-1zM18 10h2v1h-2zM21 10h1v1h-1zM23 10h3v1h-3zM27 10h1v1h-1zM30 10h1v1h-1zM32 10h1v1h-1zM37 10h1v1h-1zM41 10h1v1h-1zM47 10h1v1h-1zM26 11h1v1h-1zM28 11h2v1h-2zM32 11h1v1h-1zM35 11h1v1h-1zM37 11h1v1h-1zM39 11h2v1h-2zM42 11h1v1h-1zM36 12h1v1h-1zM38 12h1v1h-1zM41 12h2v1h-2zM44 12h3v1h-3z"/><path fill="#3d4e8a" d="M6 8h1v1h-1zM9 10h1v1h-1zM11 11h1v1h-1zM21 13h2v1h-2zM24 13h1v1h-1zM26 13h1v1h-1zM36 15h1v1h-1zM41 15h2v1h-2zM48 15h2v1h-2z"/><path fill="#471365" d="M5 9h1v1h-1zM13 14h1v1h-1zM26 15h1v1h-1zM14 17h1v1h-1zM28 17h1v1h-1zM18 18h1v1h-1zM40 18h1v1h-1zM37 19h2v1h-2zM46 19h1v1h-1zM49 20h1v1h-1zM12 21h1v1h-1zM31 22h1v1h-1zM40 23h1v1h-1zM28 24h1v1h-1zM43 24h1v1h-1zM46 24h1v1h-1zM27 25h1v1h-1zM45 25h1v1h-1zM47 25h1v1h-1zM23 26h1v1h-1zM39 26h1v1h-1zM38 27h1v1h-1zM46 27h1v1h-1zM40 28h1v1h-1zM43 28h1v1h-1zM40 29h1v1h-1zM30 33h1v1h-1z"/><path fill="#443b84" d="M6 9h1v1h-1zM18 14h1v1h-1zM24 14h1v1h-1zM16 15h1v1h-1zM34 15h1v1h-1zM28 16h2v1h-2zM32 16h2v1h-2zM38 16h2v1h-2zM45 16h1v1h-1zM45 17h1v1h-1zM49 18h1v1h-1zM20 22h1v1h-1zM29 22h1v1h-1z"/><path fill="#404588" d="M7 9h1v1h-1zM12 12h1v1h-1zM14 12h1v1h-1zM18 13h1v1h-1zM19 14h1v1h-1zM25 14h1v1h-1zM30 14h2v1h-2zM29 15h1v1h-1zM39 15h1v1h-1zM36 16h1v1h-1zM44 16h1v1h-1zM47 16h1v1h-1zM38 17h1v1h-1zM47 17h1v1h-1z"/><path fill="#3e4989" d="M8 9h1v1h-1zM16 12h1v1h-1zM20 13h1v1h-1zM23 14h1v1h-1zM26 14h3v1h-3zM25 15h1v1h-1zM35 15h1v1h-1zM38 15h1v1h-1zM40 15h1v1h-1zM43 16h1v1h-1zM48 16h1v1h-1zM36 17h1v1h-1z"/><path fill="#32648e" d="M9 9h1v1h-1zM12 10h1v1h-1zM20 11h1v1h-1zM27 12h1v1h-1zM28 13h1v1h-1zM33 13h1v1h-1zM35 13h1v1h-1zM38 13h1v1h-1zM40 13h1v1h-1zM44 14h1v1h-1zM49 14h1v1h-1z"/><path fill="#31688e" d="M10 9h1v1h-1zM13 10h1v1h-1zM19 11h1v1h-1zM21 11h1v1h-1zM26 12h1v1h-1zM29 12h1v1h-1zM31 12h1v1h-1zM34 13h1v1h-1zM39 13h1v1h-1zM41 13h1v1h-1zM44 13h4v1h-4zM49 13h1v1h-1zM42 14h1v1h-1z"/><path fill="#2c738e" d="M11 9h1v1h-1zM13 9h1v1h-1zM17 10h1v1h-1zM31 11h1v1h-1zM41 11h1v1h-1zM43 11h1v1h-1zM34 12h1v1h-1zM37 12h1v1h-1zM39 12h2v1h-2z"/><path fill="#38588c" d="M10 10h1v1h-1zM12 11h3v1h-3zM18 12h1v1h-1zM24 12h1v1h-1zM27 13h1v1h-1zM29 13h1v1h-1zM35 14h2v1h-2zM38 14h1v1h-1zM40 14h2v1h-2zM46 14h1v1h-1zM37 15h1v1h-1zM43 15h1v1h-1z"/><path fill="#365c8d" d="M16 11h1v1h-1zM22 12h1v1h-1zM30 13h3v1h-3zM36 13h2v1h-2zM34 14h1v1h-1zM39 14h1v1h-1zM45 14h1v1h-1zM47 14h1v1h-1z"/><path fill="#482374" d="M8 12h1v1h-1zM46 15h1v1h-1zM19 17h1v1h-1zM26 17h1v1h-1zM21 18h1v1h-1zM35 18h1v1h-1zM19 19h1v1h-1zM23 20h1v1h-1zM28 20h1v1h-1zM48 20h1v1h-1zM21 21h1v1h-1zM41 21h1v1h-1zM33 22h1v1h-1zM27 23h1v1h-1zM43 23h1v1h-1zM14 25h1v1h-1zM20 27h1v1h-1z"/><path fill="#48186a" d="M9 12h1v1h-1zM11 14h1v1h-1zM15 14h1v1h-1zM31 15h1v1h-1zM41 16h1v1h-1zM27 17h1v1h-1zM32 18h2v1h-2zM45 18h1v1h-1zM47 18h1v1h-1zM41 19h1v1h-1zM45 19h1v1h-1zM47 19h1v1h-1zM26 20h1v1h-1zM33 20h2v1h-2zM24 21h1v1h-1zM42 22h1v1h-1zM23 24h1v1h-1zM40 25h1v1h-1zM24 27h1v1h-1zM29 27h1v1h-1zM43 31h1v1h-1z"/><path fill="#46327e" d="M20 14h1v1h-1zM23 16h1v1h-1zM25 16h3v1h-3zM30 16h1v1h-1zM31 17h1v1h-1zM33 17h1v1h-1zM43 17h1v1h-1zM20 21h1v1h-1zM18 22h1v1h-1zM49 22h1v1h-1zM34 29h1v1h-1z"/>
</g>
<path d="M372.8 401.8V560.6M375.9 401.8V560.6M379 401.8V560.6M382.1 401.8V560.6M385.2 401.8V560.6M388.3 401.8V560.6M391.4 401.8V560.6M394.5 401.8V560.6M397.6 401.8V560.6M400.7 401.8V560.6M403.8 401.8V560.6M406.9 401.8V560.6M410 401.8V560.6M413.1 401.8V560.6M416.2 401.8V560.6M419.3 401.8V560.6M422.4 401.8V560.6M425.5 401.8V560.6M428.6 401.8V560.6M431.7 401.8V560.6M434.8 401.8V560.6M437.9 401.8V560.6M441 401.8V560.6M444.1 401.8V560.6M447.2 401.8V560.6M450.3 401.8V560.6M453.4 401.8V560.6M456.5 401.8V560.6M459.6 401.8V560.6M462.7 401.8V560.6M465.8 401.8V560.6M468.9 401.8V560.6M472 401.8V560.6M475.1 401.8V560.6M478.2 401.8V560.6M481.3 401.8V560.6M484.4 401.8V560.6M487.5 401.8V560.6M490.6 401.8V560.6M493.7 401.8V560.6M496.8 401.8V560.6M499.9 401.8V560.6M503 401.8V560.6M506.1 401.8V560.6M509.2 401.8V560.6M512.3 401.8V560.6M515.4 401.8V560.6M518.5 401.8V560.6M521.6 401.8V560.6M369.7 556.1H524.7M369.7 553H524.7M369.7 549.9H524.7M369.7 546.8H524.7M369.7 543.7H524.7M369.7 540.6H524.7M369.7 537.5H524.7M369.7 534.4H524.7M369.7 531.3H524.7M369.7 528.2H524.7M369.7 525.1H524.7M369.7 522H524.7M369.7 518.9H524.7M369.7 515.8H524.7M369.7 512.7H524.7M369.7 509.6H524.7M369.7 506.5H524.7M369.7 503.4H524.7M369.7 500.3H524.7M369.7 497.2H524.7M369.7 494.1H524.7M369.7 491H524.7M369.7 487.9H524.7M369.7 484.8H524.7M369.7 481.7H524.7M369.7 478.6H524.7M369.7 475.5H524.7M369.7 472.4H524.7M369.7 469.3H524.7M369.7 466.2H524.7M369.7 463.1H524.7M369.7 460H524.7M369.7 456.9H524.7M369.7 453.8H524.7M369.7 450.7H524.7M369.7 447.6H524.7M369.7 444.5H524.7M369.7 441.4H524.7M369.7 438.3H524.7M369.7 435.2H524.7M369.7 432.1H524.7M369.7 429H524.7M369.7 425.9H524.7M369.7 422.8H524.7M369.7 419.7H524.7M369.7 416.6H524.7M369.7 413.5H524.7M369.7 410.4H524.7M369.7 407.3H524.7M369.7 404.2H524.7" stroke="#fff" stroke-opacity="0.16" stroke-width="0.4" fill="none"/>
</g>
<rect x="536.4" y="401.8" width="8.4" height="158.8" fill="url(#vir)"/>
<line x1="544.8" x2="546.3" y1="412.8" y2="412.8" stroke="#333" stroke-width="0.6"/>
<text transform="translate(546.8 414.8) scale(1.1 1)" font-size="6.5" text-anchor="start">10<tspan font-size="4.68" dx="0.4" dy="-2.0">−2</tspan></text>
<line x1="544.8" x2="546.3" y1="450.4" y2="450.4" stroke="#333" stroke-width="0.6"/>
<text transform="translate(546.8 452.4) scale(1.1 1)" font-size="6.5" text-anchor="start">10<tspan font-size="4.68" dx="0.4" dy="-2.0">−3</tspan></text>
<line x1="544.8" x2="546.3" y1="488" y2="488" stroke="#333" stroke-width="0.6"/>
<text transform="translate(546.8 490) scale(1.1 1)" font-size="6.5" text-anchor="start">10<tspan font-size="4.68" dx="0.4" dy="-2.0">−4</tspan></text>
<line x1="544.8" x2="546.3" y1="525.7" y2="525.7" stroke="#333" stroke-width="0.6"/>
<text transform="translate(546.8 527.7) scale(1.1 1)" font-size="6.5" text-anchor="start">10<tspan font-size="4.68" dx="0.4" dy="-2.0">−5</tspan></text>
<line x1="544.8" x2="545.7" y1="439.08" y2="439.08" stroke="#555" stroke-width="0.45"/>
<line x1="544.8" x2="545.7" y1="432.46" y2="432.46" stroke="#555" stroke-width="0.45"/>
<line x1="544.8" x2="545.7" y1="427.76" y2="427.76" stroke="#555" stroke-width="0.45"/>
<line x1="544.8" x2="545.7" y1="424.12" y2="424.12" stroke="#555" stroke-width="0.45"/>
<line x1="544.8" x2="545.7" y1="421.14" y2="421.14" stroke="#555" stroke-width="0.45"/>
<line x1="544.8" x2="545.7" y1="418.62" y2="418.62" stroke="#555" stroke-width="0.45"/>
<line x1="544.8" x2="545.7" y1="416.44" y2="416.44" stroke="#555" stroke-width="0.45"/>
<line x1="544.8" x2="545.7" y1="414.52" y2="414.52" stroke="#555" stroke-width="0.45"/>
<line x1="544.8" x2="545.7" y1="476.68" y2="476.68" stroke="#555" stroke-width="0.45"/>
<line x1="544.8" x2="545.7" y1="470.06" y2="470.06" stroke="#555" stroke-width="0.45"/>
<line x1="544.8" x2="545.7" y1="465.36" y2="465.36" stroke="#555" stroke-width="0.45"/>
<line x1="544.8" x2="545.7" y1="461.72" y2="461.72" stroke="#555" stroke-width="0.45"/>
<line x1="544.8" x2="545.7" y1="458.74" y2="458.74" stroke="#555" stroke-width="0.45"/>
<line x1="544.8" x2="545.7" y1="456.22" y2="456.22" stroke="#555" stroke-width="0.45"/>
<line x1="544.8" x2="545.7" y1="454.04" y2="454.04" stroke="#555" stroke-width="0.45"/>
<line x1="544.8" x2="545.7" y1="452.12" y2="452.12" stroke="#555" stroke-width="0.45"/>
<line x1="544.8" x2="545.7" y1="514.28" y2="514.28" stroke="#555" stroke-width="0.45"/>
<line x1="544.8" x2="545.7" y1="507.66" y2="507.66" stroke="#555" stroke-width="0.45"/>
<line x1="544.8" x2="545.7" y1="502.96" y2="502.96" stroke="#555" stroke-width="0.45"/>
<line x1="544.8" x2="545.7" y1="499.32" y2="499.32" stroke="#555" stroke-width="0.45"/>
<line x1="544.8" x2="545.7" y1="496.34" y2="496.34" stroke="#555" stroke-width="0.45"/>
<line x1="544.8" x2="545.7" y1="493.82" y2="493.82" stroke="#555" stroke-width="0.45"/>
<line x1="544.8" x2="545.7" y1="491.64" y2="491.64" stroke="#555" stroke-width="0.45"/>
<line x1="544.8" x2="545.7" y1="489.72" y2="489.72" stroke="#555" stroke-width="0.45"/>
<line x1="544.8" x2="545.7" y1="551.88" y2="551.88" stroke="#555" stroke-width="0.45"/>
<line x1="544.8" x2="545.7" y1="545.26" y2="545.26" stroke="#555" stroke-width="0.45"/>
<line x1="544.8" x2="545.7" y1="540.56" y2="540.56" stroke="#555" stroke-width="0.45"/>
<line x1="544.8" x2="545.7" y1="536.92" y2="536.92" stroke="#555" stroke-width="0.45"/>
<line x1="544.8" x2="545.7" y1="533.94" y2="533.94" stroke="#555" stroke-width="0.45"/>
<line x1="544.8" x2="545.7" y1="531.42" y2="531.42" stroke="#555" stroke-width="0.45"/>
<line x1="544.8" x2="545.7" y1="529.24" y2="529.24" stroke="#555" stroke-width="0.45"/>
<line x1="544.8" x2="545.7" y1="527.32" y2="527.32" stroke="#555" stroke-width="0.45"/>
<text transform="translate(565.7 481) rotate(-90)" font-size="8.6" text-anchor="middle" dominant-baseline="central">Density</text>
<text transform="translate(350.4 481.4) rotate(-90)" font-size="8.6" text-anchor="middle" dominant-baseline="central">V[27]</text>
<text transform="translate(448 582.6)" font-size="8.6" text-anchor="middle" dominant-baseline="central">True Energy [GeV]</text>
<text transform="translate(370.9 567.47) rotate(-45) scale(1.1 1)" font-size="6.5" text-anchor="middle" dominant-baseline="central">50</text>
<text transform="translate(402 570.28) rotate(-45) scale(1.1 1)" font-size="6.5" text-anchor="middle" dominant-baseline="central">1640</text>
<text transform="translate(433.1 570.28) rotate(-45) scale(1.1 1)" font-size="6.5" text-anchor="middle" dominant-baseline="central">3230</text>
<text transform="translate(464.2 570.28) rotate(-45) scale(1.1 1)" font-size="6.5" text-anchor="middle" dominant-baseline="central">4820</text>
<text transform="translate(495.3 570.28) rotate(-45) scale(1.1 1)" font-size="6.5" text-anchor="middle" dominant-baseline="central">6410</text>
<text transform="translate(526.4 570.28) rotate(-45) scale(1.1 1)" font-size="6.5" text-anchor="middle" dominant-baseline="central">8000</text>
<text transform="translate(367.5 402.8) scale(1.1 1)" font-size="6.5" text-anchor="end" dominant-baseline="central">721</text>
<text transform="translate(367.5 450.4) scale(1.1 1)" font-size="6.5" text-anchor="end" dominant-baseline="central">505</text>
<text transform="translate(367.5 498.1) scale(1.1 1)" font-size="6.5" text-anchor="end" dominant-baseline="central">290</text>
<text transform="translate(367.5 546.1) scale(1.1 1)" font-size="6.5" text-anchor="end" dominant-baseline="central">74</text>
</g></svg></body></html>
